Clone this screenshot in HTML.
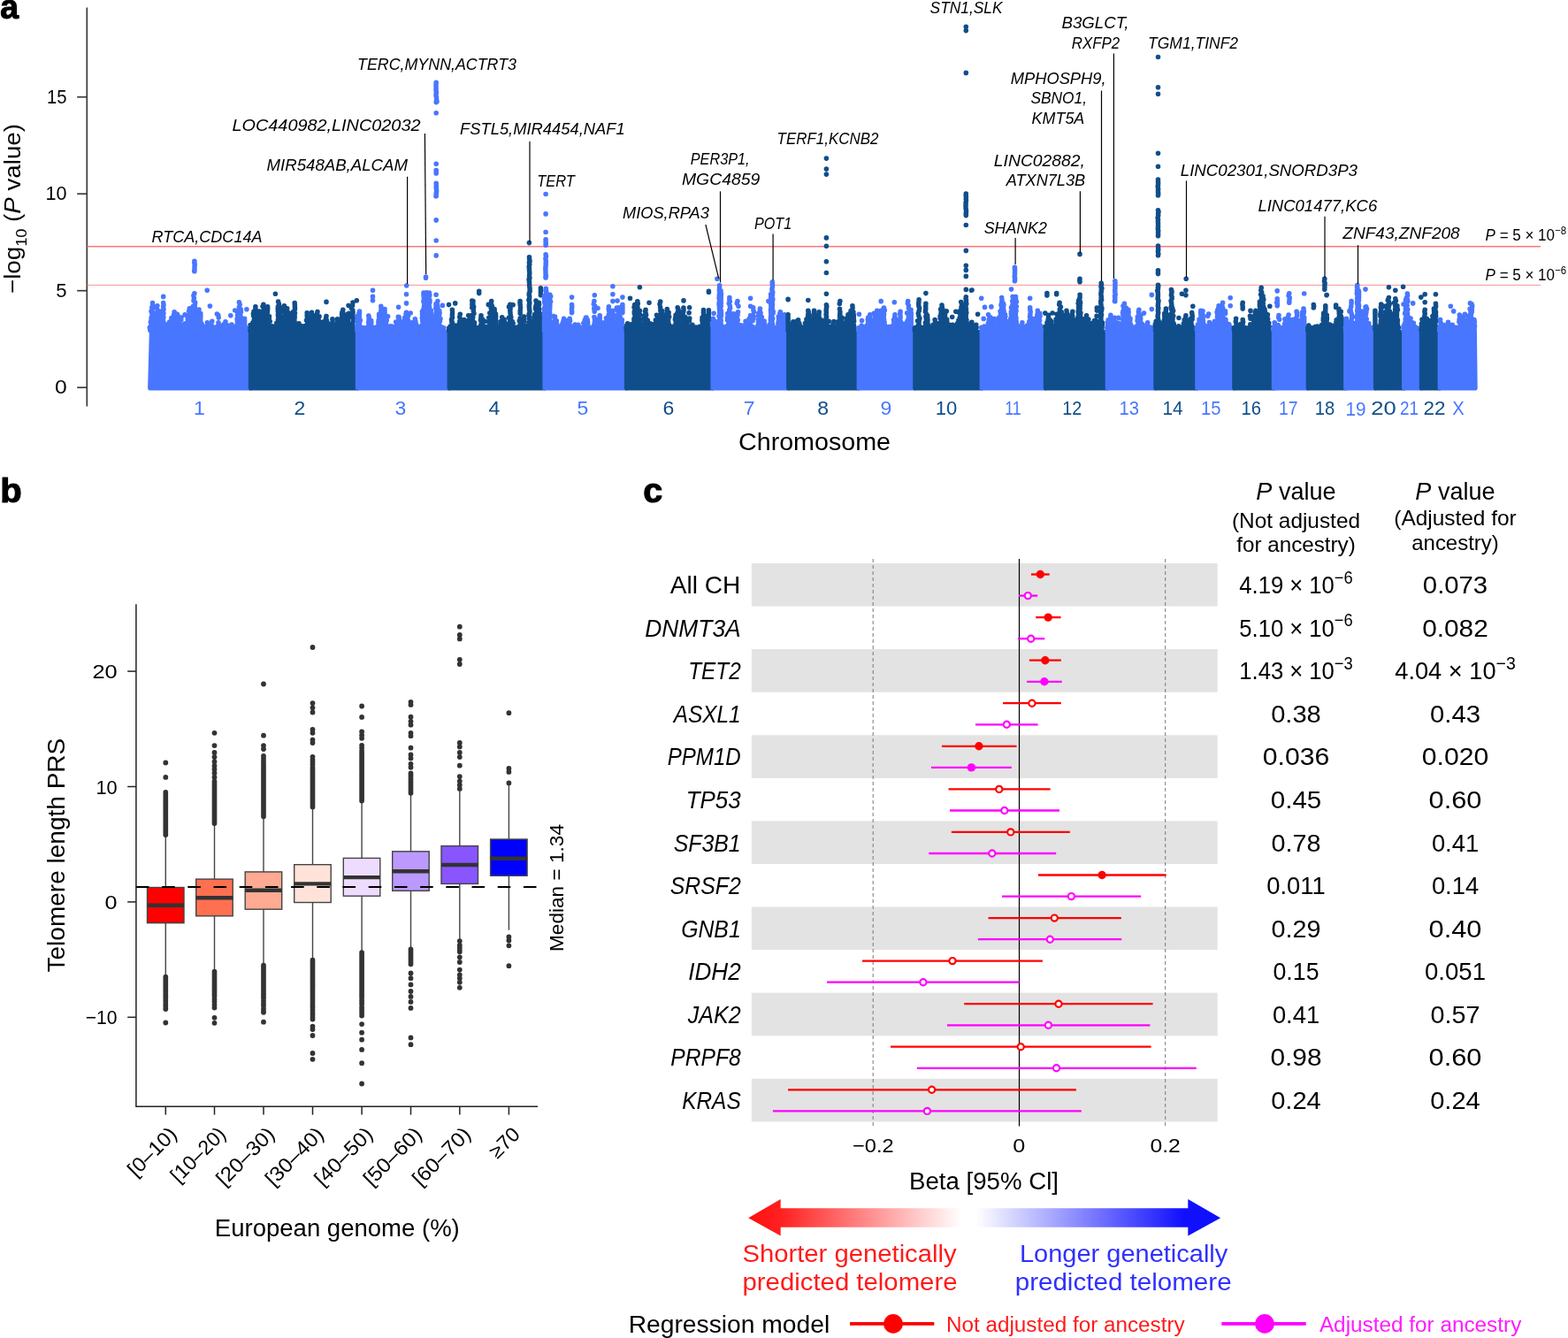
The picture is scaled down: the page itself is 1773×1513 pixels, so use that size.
<!DOCTYPE html>
<html lang="en"><head><meta charset="utf-8"><title>Figure</title>
<style>
html,body{margin:0;padding:0;background:#fff}
body{width:1773px;height:1513px;overflow:hidden}
svg{display:block;font-family:'Liberation Sans', sans-serif}
text{white-space:pre}
</style></head><body>
<svg width="1773" height="1513" viewBox="0 0 1773 1513">
<rect width="1773" height="1513" fill="#fff"/>
<g id="panel-a">
<text x="0.3" y="21.3" font-size="39" font-weight="bold" textLength="20.8" lengthAdjust="spacingAndGlyphs" stroke="#000" stroke-width="1.1" stroke-linejoin="round">a</text>
<line x1="98.3" y1="8.6" x2="98.3" y2="459.5" stroke="#3a3a3a" stroke-width="1.7"/>
<line x1="87.2" y1="438.2" x2="98.3" y2="438.2" stroke="#3a3a3a" stroke-width="1.7"/>
<text x="75.6" y="445.3" font-size="22.5" text-anchor="end" textLength="13.7" lengthAdjust="spacingAndGlyphs">0</text>
<line x1="87.2" y1="328.7" x2="98.3" y2="328.7" stroke="#3a3a3a" stroke-width="1.7"/>
<text x="75.6" y="335.8" font-size="22.5" text-anchor="end" textLength="12.3" lengthAdjust="spacingAndGlyphs">5</text>
<line x1="87.2" y1="219.2" x2="98.3" y2="219.2" stroke="#3a3a3a" stroke-width="1.7"/>
<text x="75.6" y="226.3" font-size="22.5" text-anchor="end" textLength="24.0" lengthAdjust="spacingAndGlyphs">10</text>
<line x1="87.2" y1="109.7" x2="98.3" y2="109.7" stroke="#3a3a3a" stroke-width="1.7"/>
<text x="75.6" y="116.8" font-size="22.5" text-anchor="end" textLength="22.5" lengthAdjust="spacingAndGlyphs">15</text>
<text x="23.0" y="332.0" font-size="26" textLength="192.0" lengthAdjust="spacingAndGlyphs" transform="rotate(-90 23.0 332.0)"><tspan>−log</tspan><tspan font-size="17" dy="7">10</tspan><tspan dy="-7"> (</tspan><tspan font-style="italic">P</tspan><tspan> value)</tspan></text>
<line x1="98.5" y1="278.8" x2="1742.0" y2="278.8" stroke="#f87a7a" stroke-width="1.6"/>
<line x1="98.5" y1="322.4" x2="1742.0" y2="322.4" stroke="#f88a8a" stroke-width="0.9"/>
<g fill="#4876ff" stroke="#4876ff">
<path stroke="none" d="M168.9 373.0L167.1 438.8Q167.1 441.6 169.9 441.6H284.4V373.0Z"/>
<path fill="none" stroke-width="5.6" stroke-linecap="round" d="M169.3 370.4h0M169.8 373.2h0M171.3 370.8h0M171.1 373.5h0M173.5 370.9h0M174.3 373.3h0M175.1 367.0h0M175.6 370.3h0M174.9 373.2h0M177.1 370.9h0M176.9 373.2h0M178.6 370.4h0M178.9 373.0h0M180.5 369.9h0M180.0 372.6h0M182.9 365.6h0M182.8 368.7h0M182.5 371.1h0M183.7 373.5h0M185.2 370.5h0M185.6 373.9h0M186.7 370.8h0M188.6 367.1h0M189.2 369.6h0M188.9 372.7h0M190.2 370.6h0M190.2 373.9h0M191.8 370.9h0M193.4 370.2h0M193.2 372.8h0M195.6 370.9h0M196.0 373.8h0M197.3 367.5h0M197.7 370.6h0M197.6 373.0h0M199.6 370.0h0M199.4 372.1h0M201.3 370.7h0M201.1 373.8h0M202.9 370.1h0M203.3 372.5h0M204.7 370.4h0M204.1 373.7h0M206.4 370.8h0M208.6 370.7h0M208.7 373.0h0M211.0 370.8h0M213.3 370.1h0M213.4 372.7h0M215.0 369.8h0M215.1 372.1h0M217.0 370.7h0M217.0 372.9h0M219.0 369.1h0M218.8 371.9h0M221.3 370.8h0M221.3 372.8h0M223.0 370.5h0M223.5 373.3h0M224.8 368.8h0M224.4 372.2h0M226.5 371.0h0M225.8 373.0h0M228.6 367.7h0M228.2 369.7h0M228.2 372.8h0M231.0 370.9h0M230.9 373.7h0M233.1 369.4h0M232.0 372.7h0M235.2 368.7h0M234.5 371.9h0M237.3 370.0h0M237.7 372.6h0M239.3 370.9h0M240.3 373.8h0M241.1 369.7h0M241.1 372.5h0M243.4 370.9h0M244.1 374.0h0M245.1 369.8h0M245.2 372.5h0M247.4 370.7h0M247.2 372.7h0M249.1 368.6h0M249.8 371.6h0M251.4 370.6h0M251.6 373.5h0M253.7 368.9h0M254.2 371.4h0M255.5 370.9h0M256.0 373.5h0M257.9 370.7h0M257.0 372.9h0M259.6 370.8h0M259.2 373.3h0M261.9 367.0h0M261.4 369.6h0M262.9 371.7h0M262.1 373.8h0M263.9 370.6h0M264.1 373.7h0M265.4 369.2h0M265.4 371.6h0M266.1 373.8h0M267.5 369.9h0M267.7 373.1h0M269.6 370.8h0M269.6 373.4h0M271.7 370.8h0M271.8 373.2h0M273.8 370.3h0M273.9 373.1h0M276.2 370.9h0M278.3 370.9h0M277.8 373.5h0M171.0 361.9h0M171.7 365.3h0M170.8 368.4h0M170.4 371.5h0M170.3 373.9h0M178.3 366.0h0M178.2 369.5h0M178.5 372.2h0M178.4 355.7h0M181.5 365.8h0M181.3 369.1h0M181.3 371.3h0M193.0 368.7h0M191.9 371.0h0M192.6 373.5h0M197.1 352.7h0M196.5 356.1h0M196.3 359.5h0M197.0 361.8h0M198.6 364.6h0M197.3 367.5h0M196.2 370.7h0M197.1 372.8h0M201.6 368.3h0M202.1 371.0h0M201.2 373.5h0M201.6 361.6h0M205.0 359.0h0M204.8 361.6h0M205.5 368.1h0M205.5 370.5h0M204.5 373.4h0M203.1 363.5h0M203.5 366.9h0M203.3 369.8h0M202.7 373.0h0M208.7 366.1h0M210.0 369.6h0M208.7 371.8h0M209.1 355.9h0M211.7 364.9h0M211.2 370.8h0M212.0 373.9h0M217.8 367.6h0M217.7 372.3h0M220.9 367.7h0M222.2 370.0h0M227.8 365.9h0M227.7 368.7h0M228.7 371.4h0M234.4 364.8h0M234.5 367.1h0M234.7 373.8h0M239.8 363.2h0M238.9 366.8h0M239.7 369.2h0M238.7 372.5h0M246.8 356.5h0M247.2 359.1h0M247.0 364.9h0M246.9 367.9h0M248.2 371.0h0M276.6 360.2h0M276.7 363.4h0M276.6 366.4h0M277.0 368.8h0M172.5 342.5h0M172.6 345.3h0M171.8 347.8h0M171.9 349.8h0M172.2 352.0h0M173.1 354.3h0M172.8 356.6h0M172.3 358.7h0M171.7 360.8h0M171.5 362.6h0M171.9 364.5h0M172.0 367.2h0M172.1 369.0h0M173.6 371.3h0M171.0 352.0h0M171.9 354.7h0M172.0 357.0h0M171.2 359.3h0M171.0 362.2h0M170.3 364.2h0M171.0 366.9h0M170.7 369.3h0M170.2 371.3h0M170.4 373.6h0M174.0 356.3h0M174.4 358.5h0M173.5 360.6h0M173.7 363.1h0M175.1 365.7h0M173.8 368.6h0M174.1 371.3h0M174.5 373.4h0M177.9 345.7h0M177.2 348.2h0M178.2 350.7h0M177.9 352.7h0M177.7 354.5h0M177.8 356.9h0M178.2 358.9h0M178.6 361.9h0M177.6 364.5h0M177.7 366.8h0M178.3 369.6h0M178.1 371.7h0M178.3 373.8h0M180.0 353.0h0M180.0 355.2h0M179.8 358.2h0M179.9 360.3h0M179.6 362.1h0M180.5 364.5h0M180.5 366.6h0M179.4 368.5h0M179.8 371.0h0M180.9 373.7h0M184.7 335.4h0M184.7 342.5h0M185.0 345.1h0M184.6 347.0h0M185.0 349.8h0M184.5 351.9h0M184.9 354.6h0M184.0 356.6h0M184.9 358.8h0M184.4 360.9h0M184.7 363.5h0M184.7 366.3h0M184.9 368.6h0M185.4 370.4h0M183.8 372.9h0M182.8 351.7h0M183.2 354.6h0M183.1 356.7h0M183.2 358.6h0M181.9 360.7h0M182.7 363.3h0M183.1 366.2h0M181.5 369.1h0M183.1 371.3h0M183.4 374.0h0M193.9 359.6h0M193.9 362.2h0M193.9 365.0h0M194.0 367.8h0M194.8 370.0h0M194.4 372.8h0M191.7 364.0h0M190.9 366.1h0M192.5 369.0h0M192.1 371.0h0M192.4 373.5h0M200.4 355.3h0M201.2 357.3h0M200.8 360.1h0M199.4 362.0h0M199.9 365.0h0M200.9 367.9h0M199.5 370.2h0M200.9 372.9h0M214.3 348.9h0M213.6 351.8h0M214.5 354.7h0M214.1 356.9h0M214.7 359.3h0M214.3 362.1h0M213.8 365.1h0M214.3 367.0h0M214.6 369.5h0M214.1 372.1h0M212.2 360.4h0M212.5 362.6h0M212.5 364.7h0M212.3 367.5h0M212.0 370.2h0M212.3 372.6h0M216.2 359.0h0M215.8 361.8h0M216.0 364.6h0M215.8 367.5h0M216.9 369.4h0M216.1 371.3h0M216.5 373.3h0M219.9 331.7h0M218.9 334.3h0M219.4 337.1h0M219.0 340.0h0M220.7 342.0h0M220.4 344.1h0M220.3 346.9h0M219.7 349.6h0M219.6 351.7h0M219.9 354.2h0M219.8 356.2h0M219.9 359.2h0M219.7 361.7h0M220.1 364.5h0M219.7 366.9h0M219.8 369.1h0M220.0 371.5h0M219.6 373.3h0M218.3 346.5h0M218.4 348.8h0M218.3 350.9h0M218.2 353.1h0M218.3 355.5h0M219.5 357.7h0M218.8 360.0h0M218.1 362.1h0M219.2 364.5h0M218.3 366.7h0M218.6 368.5h0M218.1 370.4h0M218.3 372.7h0M225.0 350.0h0M224.6 352.6h0M224.9 355.4h0M224.9 358.0h0M225.4 360.1h0M224.1 362.5h0M225.6 365.1h0M225.2 367.7h0M225.3 370.6h0M225.1 373.4h0M223.4 354.6h0M223.4 356.5h0M223.3 358.6h0M223.3 361.3h0M223.6 363.5h0M222.8 365.6h0M224.1 368.4h0M223.0 370.3h0M223.9 372.6h0M226.8 354.6h0M226.9 357.3h0M226.7 359.7h0M226.7 362.0h0M225.9 363.8h0M226.8 366.7h0M226.9 369.2h0M227.6 371.6h0M226.6 374.0h0M234.2 328.3h0M237.4 346.1h0M245.4 355.1h0M255.0 363.9h0M254.6 366.8h0M255.0 369.3h0M254.9 372.2h0M252.9 366.7h0M252.8 369.4h0M252.9 371.5h0M253.1 374.0h0M256.9 367.9h0M257.5 370.2h0M256.6 372.1h0M260.8 356.8h0M265.7 351.0h0M270.4 341.8h0M271.2 344.6h0M270.4 347.2h0M270.8 349.3h0M270.5 351.5h0M270.7 354.1h0M270.6 356.8h0M270.1 358.6h0M270.2 360.9h0M270.0 363.1h0M271.1 366.0h0M270.1 368.5h0M269.7 370.5h0M271.2 372.8h0M268.8 353.7h0M268.7 356.2h0M268.8 358.5h0M268.1 360.7h0M268.3 362.6h0M268.4 365.1h0M268.9 367.1h0M269.3 369.4h0M269.3 371.6h0M272.2 349.9h0M272.5 352.7h0M271.6 355.5h0M272.1 357.8h0M272.9 360.2h0M272.8 362.5h0M272.6 364.9h0M272.5 366.9h0M272.6 369.9h0M272.4 371.8h0M272.0 373.9h0M278.9 349.7h0M219.9 295.3h0M219.8 297.1h0M220.2 298.8h0M220.1 300.7h0M220.0 302.6h0M220.0 304.8h0M219.7 306.6h0M219.9 306.8h0"/>
</g>
<g fill="#104e8b" stroke="#104e8b">
<path stroke="none" d="M280.9 373.0V438.8Q280.9 441.6 283.7 441.6H405.3V373.0Z"/>
<path fill="none" stroke-width="5.6" stroke-linecap="round" d="M283.1 367.6h0M283.2 370.4h0M282.9 373.8h0M285.1 369.6h0M284.4 371.6h0M286.8 370.4h0M286.1 372.6h0M289.1 370.5h0M289.2 373.2h0M291.0 370.7h0M290.6 373.6h0M292.7 371.0h0M292.6 373.3h0M294.4 369.6h0M295.0 372.1h0M296.8 368.1h0M296.3 370.2h0M296.2 373.5h0M298.5 370.3h0M298.7 373.6h0M300.4 367.1h0M300.2 370.3h0M300.2 373.2h0M302.1 370.9h0M302.5 373.7h0M304.0 370.7h0M304.4 373.5h0M306.2 370.2h0M307.0 373.6h0M307.8 368.8h0M307.6 371.9h0M309.6 370.7h0M309.0 373.6h0M311.8 370.8h0M311.5 373.1h0M314.1 368.9h0M314.5 370.9h0M314.3 373.5h0M315.7 370.2h0M316.4 372.3h0M317.8 370.5h0M318.2 373.2h0M319.6 369.6h0M319.8 372.8h0M321.7 369.5h0M321.8 371.8h0M323.4 369.3h0M322.5 371.9h0M325.4 369.6h0M324.1 372.9h0M327.2 370.9h0M328.8 370.9h0M328.0 373.7h0M331.0 370.9h0M331.1 373.2h0M332.6 370.6h0M332.4 373.7h0M334.4 369.7h0M334.0 372.2h0M336.5 370.2h0M337.5 373.4h0M338.7 370.6h0M338.3 373.1h0M341.1 368.7h0M340.8 371.1h0M341.4 373.6h0M342.9 370.8h0M343.1 373.6h0M344.9 370.8h0M344.3 373.9h0M346.7 371.0h0M346.1 373.7h0M348.8 369.4h0M348.6 371.5h0M351.0 370.9h0M350.9 373.0h0M353.1 370.8h0M352.0 373.9h0M354.8 370.8h0M353.9 373.8h0M356.6 367.5h0M356.5 370.5h0M355.8 373.2h0M358.9 370.5h0M358.7 373.6h0M361.2 369.4h0M362.1 372.5h0M363.1 369.8h0M362.3 372.9h0M365.0 370.8h0M365.5 373.9h0M366.7 370.4h0M366.7 372.9h0M368.3 370.6h0M367.7 372.8h0M369.8 370.4h0M369.1 373.2h0M371.3 370.9h0M371.4 373.1h0M373.4 370.7h0M373.7 373.0h0M375.0 369.6h0M374.2 372.0h0M376.8 368.8h0M376.5 372.1h0M378.8 367.9h0M378.8 370.5h0M378.9 373.9h0M380.6 370.3h0M380.4 373.0h0M382.3 371.0h0M383.8 373.7h0M384.5 369.8h0M384.7 372.6h0M386.3 369.0h0M386.5 371.7h0M388.7 370.7h0M389.2 373.4h0M390.9 369.1h0M391.6 372.3h0M392.6 369.7h0M392.1 371.9h0M394.7 369.1h0M394.7 371.5h0M396.6 368.5h0M396.7 370.6h0M396.2 373.4h0M398.2 369.2h0M398.1 371.7h0M285.8 365.0h0M286.1 371.2h0M286.3 374.0h0M289.3 361.2h0M288.5 367.9h0M288.9 371.2h0M288.9 373.8h0M287.4 365.8h0M287.3 368.1h0M286.8 371.7h0M293.1 352.0h0M293.8 354.1h0M293.6 357.2h0M292.8 359.9h0M292.9 362.2h0M294.3 364.4h0M293.7 367.1h0M293.3 370.2h0M292.5 372.7h0M300.3 358.7h0M299.9 364.7h0M301.1 366.8h0M300.7 369.7h0M299.6 371.9h0M298.4 363.1h0M300.4 365.4h0M297.6 368.5h0M298.3 372.0h0M303.4 363.0h0M303.3 365.7h0M303.3 367.8h0M304.6 370.5h0M303.2 372.9h0M312.8 365.4h0M312.7 367.7h0M312.1 369.7h0M313.6 372.2h0M317.0 354.2h0M317.6 357.7h0M317.7 361.1h0M317.0 364.1h0M316.6 370.0h0M316.8 372.2h0M315.1 359.3h0M315.3 362.6h0M314.8 365.2h0M315.1 367.8h0M315.7 371.2h0M314.6 373.8h0M321.4 345.9h0M321.6 349.0h0M321.6 352.5h0M322.7 355.4h0M321.6 357.8h0M321.0 360.5h0M322.4 363.9h0M321.5 366.3h0M322.6 369.9h0M320.6 372.1h0M330.2 364.9h0M329.9 367.8h0M329.9 370.0h0M330.3 372.2h0M334.6 366.0h0M334.0 371.9h0M338.0 365.8h0M338.2 368.6h0M338.1 371.1h0M344.1 368.9h0M343.1 371.4h0M349.2 361.9h0M350.0 364.3h0M349.0 366.8h0M348.1 370.3h0M349.8 372.8h0M357.7 368.2h0M357.6 371.3h0M357.0 373.8h0M355.5 357.3h0M360.9 366.9h0M360.7 369.2h0M361.0 357.9h0M365.8 364.0h0M365.8 366.9h0M366.2 370.5h0M366.7 372.5h0M375.9 360.7h0M376.1 362.7h0M375.9 366.0h0M376.3 368.5h0M376.0 371.8h0M382.9 368.3h0M382.4 371.0h0M387.8 350.4h0M387.7 353.3h0M388.5 355.6h0M388.1 359.0h0M388.1 362.0h0M387.2 365.2h0M387.3 370.0h0M387.2 373.2h0M394.5 354.3h0M394.0 357.6h0M393.9 360.2h0M393.9 363.0h0M394.1 365.5h0M394.8 368.6h0M394.4 371.8h0M392.7 374.0h0M394.1 345.5h0M399.0 342.1h0M398.6 345.6h0M397.4 348.6h0M398.8 350.8h0M399.1 353.2h0M399.0 356.7h0M399.3 359.6h0M399.8 362.8h0M398.3 366.3h0M399.1 369.7h0M399.5 371.7h0M288.9 346.7h0M288.9 349.3h0M288.5 352.0h0M289.4 354.2h0M289.2 356.8h0M288.9 359.4h0M288.9 362.2h0M289.0 364.6h0M288.3 367.0h0M288.4 369.2h0M288.8 372.0h0M287.0 352.2h0M286.4 355.0h0M286.8 357.4h0M287.7 360.1h0M287.1 362.5h0M287.1 365.0h0M286.8 367.4h0M287.0 370.4h0M287.6 372.5h0M290.7 357.5h0M290.9 359.9h0M291.2 362.6h0M290.5 364.5h0M290.9 366.9h0M290.6 369.2h0M290.5 371.3h0M290.4 373.2h0M297.9 344.2h0M297.1 346.6h0M298.3 348.7h0M298.0 351.2h0M297.8 353.6h0M297.6 355.7h0M298.1 358.4h0M298.2 360.5h0M297.8 362.6h0M298.1 365.2h0M298.1 367.4h0M298.1 370.0h0M297.3 372.2h0M299.6 354.8h0M299.7 357.7h0M299.5 360.7h0M299.3 362.9h0M298.9 365.0h0M299.9 366.8h0M299.8 369.2h0M300.3 372.0h0M302.6 346.7h0M302.7 349.0h0M302.5 351.1h0M302.4 353.1h0M302.1 355.6h0M303.2 357.5h0M303.0 360.1h0M302.0 363.0h0M302.8 365.3h0M302.4 368.1h0M303.1 370.9h0M302.4 373.1h0M300.9 356.2h0M300.6 358.2h0M301.2 360.3h0M300.6 362.5h0M301.5 364.4h0M301.0 367.4h0M300.9 369.7h0M301.9 372.4h0M304.5 357.8h0M304.3 360.8h0M305.2 363.5h0M304.1 365.3h0M304.5 368.1h0M304.4 370.0h0M304.4 372.5h0M311.4 332.2h0M314.6 341.0h0M315.4 343.9h0M314.5 346.5h0M314.2 348.8h0M314.3 351.4h0M314.5 354.4h0M314.4 356.9h0M314.9 359.3h0M314.4 361.6h0M314.2 364.2h0M314.3 366.7h0M315.0 368.8h0M314.9 371.3h0M314.3 373.9h0M316.5 347.6h0M317.2 349.8h0M316.7 352.3h0M316.3 355.2h0M316.5 357.4h0M316.5 360.1h0M317.1 362.2h0M317.2 364.8h0M316.5 366.8h0M316.7 369.1h0M316.4 371.0h0M316.7 373.9h0M324.7 348.9h0M324.1 351.2h0M324.8 353.8h0M324.4 356.0h0M324.8 358.4h0M324.8 361.0h0M324.8 364.0h0M324.3 366.2h0M324.9 369.2h0M324.1 371.1h0M324.7 373.0h0M322.7 355.5h0M322.9 358.0h0M322.8 360.1h0M321.6 362.3h0M322.4 364.4h0M322.4 366.4h0M322.6 368.2h0M322.1 370.6h0M323.0 373.0h0M326.5 353.9h0M326.6 356.8h0M326.4 359.7h0M325.9 362.1h0M326.1 364.5h0M327.3 366.9h0M326.2 369.8h0M326.7 372.4h0M333.2 342.5h0M333.3 344.8h0M333.4 347.4h0M333.5 349.4h0M332.8 352.0h0M333.5 354.1h0M333.1 357.1h0M333.2 359.0h0M332.9 361.9h0M333.2 364.5h0M332.7 367.2h0M332.8 369.3h0M333.7 371.2h0M333.3 373.3h0M331.7 352.5h0M331.6 354.8h0M330.6 357.3h0M332.6 359.9h0M331.0 362.2h0M331.3 365.0h0M331.9 367.1h0M331.7 369.8h0M332.1 372.2h0M331.7 374.0h0M347.2 353.8h0M347.2 356.5h0M347.3 358.4h0M347.6 360.2h0M346.5 362.3h0M348.2 364.1h0M347.3 366.8h0M347.8 368.6h0M347.3 371.3h0M348.8 360.7h0M348.9 362.5h0M349.0 364.7h0M349.0 366.8h0M348.9 368.8h0M349.4 370.7h0M349.5 373.0h0M352.5 353.2h0M352.7 356.0h0M352.8 357.9h0M352.0 360.7h0M352.7 363.1h0M353.2 365.9h0M352.1 368.3h0M352.7 371.0h0M353.4 373.4h0M351.1 363.1h0M350.9 366.1h0M350.7 368.4h0M350.9 370.5h0M351.5 372.7h0M354.1 362.1h0M354.3 365.0h0M354.0 366.9h0M354.6 369.5h0M354.8 371.9h0M359.0 352.5h0M358.6 354.7h0M358.8 356.5h0M359.4 358.9h0M358.5 361.3h0M359.3 364.1h0M359.1 366.3h0M359.6 368.2h0M359.4 370.5h0M359.4 373.1h0M357.9 362.2h0M357.8 364.4h0M358.3 367.0h0M358.4 369.7h0M357.5 372.5h0M360.8 362.9h0M361.1 365.0h0M360.7 367.6h0M360.3 370.1h0M360.6 372.6h0M369.0 341.4h0M369.0 357.5h0M368.6 359.9h0M369.4 362.4h0M369.4 364.8h0M368.8 367.5h0M370.1 370.2h0M368.8 372.7h0M367.3 363.0h0M368.9 364.9h0M367.5 366.7h0M366.2 368.9h0M368.1 371.1h0M366.7 373.3h0M370.8 365.5h0M370.9 368.4h0M370.7 371.2h0M381.5 360.7h0M381.8 363.5h0M381.3 366.0h0M381.8 368.8h0M380.9 371.6h0M380.1 366.9h0M379.9 369.8h0M380.3 372.1h0M382.6 365.8h0M381.9 368.3h0M383.1 370.4h0M382.6 372.8h0M386.8 353.2h0M386.6 355.6h0M386.7 358.2h0M386.5 361.1h0M386.7 363.7h0M387.0 365.7h0M386.8 367.5h0M387.1 369.4h0M387.1 371.2h0M387.0 373.2h0M385.3 361.1h0M385.8 363.7h0M385.1 365.8h0M385.0 368.1h0M386.7 370.2h0M386.2 372.3h0M388.7 362.3h0M388.7 364.3h0M388.5 366.6h0M389.0 369.3h0M389.2 371.6h0M393.2 355.3h0M392.8 357.6h0M391.8 359.8h0M392.5 361.7h0M393.5 364.3h0M392.7 366.3h0M392.8 369.3h0M394.1 371.7h0M392.9 373.6h0M403.3 339.7h0"/>
</g>
<g fill="#4876ff" stroke="#4876ff">
<path stroke="none" d="M401.8 373.0V438.8Q401.8 441.6 404.6 441.6H509.1V373.0Z"/>
<path fill="none" stroke-width="5.6" stroke-linecap="round" d="M404.0 370.1h0M403.8 373.2h0M405.7 370.3h0M405.8 373.1h0M407.2 370.7h0M409.3 370.3h0M408.6 373.3h0M411.0 370.9h0M410.9 373.0h0M413.2 370.9h0M413.3 373.2h0M415.4 370.4h0M415.2 373.6h0M417.1 368.9h0M416.9 371.8h0M418.8 370.3h0M419.5 372.5h0M420.7 370.3h0M420.1 373.3h0M422.6 370.5h0M422.5 373.8h0M424.6 370.4h0M424.1 372.6h0M426.4 370.1h0M426.4 372.3h0M428.6 370.3h0M428.6 372.4h0M430.1 369.1h0M429.3 371.9h0M431.7 369.5h0M431.8 372.0h0M433.4 370.3h0M433.0 373.0h0M435.1 369.8h0M435.4 372.1h0M436.9 369.8h0M436.8 372.5h0M439.2 369.4h0M439.2 372.0h0M441.6 368.7h0M442.5 370.8h0M443.9 370.7h0M444.1 373.2h0M446.2 370.9h0M445.8 373.0h0M448.0 370.6h0M448.6 373.8h0M449.8 368.7h0M449.4 370.8h0M449.9 373.8h0M451.8 370.1h0M452.0 372.1h0M453.7 370.4h0M453.1 373.8h0M455.5 370.3h0M456.1 373.0h0M457.5 370.7h0M457.6 373.0h0M459.9 371.0h0M460.5 373.8h0M462.1 370.9h0M464.4 369.8h0M464.4 372.9h0M466.6 370.8h0M466.9 373.3h0M468.3 370.8h0M468.0 373.3h0M470.2 370.5h0M469.3 373.5h0M472.2 370.6h0M473.0 373.5h0M474.6 369.3h0M474.2 372.5h0M476.9 370.3h0M477.6 373.2h0M478.8 370.6h0M479.0 373.1h0M481.0 370.7h0M480.4 373.6h0M483.2 370.8h0M483.8 373.6h0M485.6 370.0h0M485.6 372.2h0M487.3 370.0h0M486.9 372.4h0M489.7 370.4h0M490.0 373.3h0M491.4 370.7h0M490.3 373.6h0M493.5 370.9h0M494.5 373.1h0M495.3 370.2h0M495.3 373.3h0M497.7 369.2h0M497.7 372.4h0M499.9 370.0h0M500.1 372.3h0M501.8 370.8h0M501.7 373.7h0M405.9 354.2h0M405.6 357.1h0M406.6 360.5h0M406.9 363.0h0M405.8 365.4h0M406.1 367.7h0M406.9 370.6h0M404.0 357.5h0M404.1 360.2h0M403.8 362.3h0M404.6 365.1h0M403.8 367.5h0M403.8 369.9h0M403.9 372.2h0M417.0 369.1h0M417.4 372.5h0M419.7 362.6h0M419.8 364.7h0M419.5 367.3h0M420.3 369.7h0M419.4 372.2h0M430.5 363.9h0M431.2 367.3h0M430.0 369.3h0M430.1 371.8h0M434.3 368.9h0M434.2 372.0h0M437.0 368.3h0M436.8 370.8h0M437.3 373.4h0M438.6 357.8h0M443.9 369.3h0M447.7 364.0h0M448.5 367.6h0M447.8 370.8h0M447.5 373.4h0M450.3 358.4h0M451.1 361.4h0M450.6 364.0h0M451.6 367.1h0M450.0 369.3h0M449.2 372.5h0M450.6 347.3h0M455.1 364.4h0M454.8 369.4h0M455.8 372.0h0M460.2 369.0h0M460.4 372.6h0M463.2 368.5h0M463.0 370.6h0M463.7 373.1h0M465.9 364.8h0M466.0 367.6h0M465.9 373.1h0M464.2 354.0h0M479.3 368.9h0M479.5 372.4h0M482.9 364.9h0M483.4 371.4h0M482.3 357.5h0M494.9 340.5h0M494.3 343.4h0M494.6 346.0h0M493.8 349.5h0M495.0 351.8h0M494.6 357.7h0M494.6 360.1h0M494.6 364.9h0M495.0 368.1h0M494.5 370.2h0M494.9 372.8h0M496.8 351.5h0M497.1 354.0h0M496.6 357.4h0M498.0 360.5h0M497.4 363.2h0M496.6 366.4h0M496.6 369.4h0M496.9 372.0h0M406.5 352.1h0M406.5 354.6h0M406.3 357.2h0M406.1 359.9h0M407.3 362.4h0M406.5 365.3h0M406.3 367.1h0M406.6 369.3h0M406.9 371.2h0M406.2 373.7h0M416.8 357.0h0M417.2 358.9h0M417.1 361.4h0M416.7 364.4h0M417.0 366.4h0M416.8 368.4h0M416.3 370.5h0M416.6 373.2h0M421.5 328.3h0M421.5 335.4h0M421.5 339.7h0M430.8 346.3h0M431.0 349.0h0M430.8 351.9h0M430.7 353.9h0M430.3 356.3h0M430.7 358.3h0M431.3 360.5h0M430.7 362.8h0M430.7 365.5h0M430.0 368.2h0M430.8 370.4h0M431.3 373.0h0M432.5 359.1h0M432.9 361.1h0M433.1 363.2h0M432.5 365.7h0M432.5 367.7h0M432.0 370.1h0M432.3 373.0h0M435.0 349.5h0M435.0 351.5h0M435.1 354.4h0M435.2 356.7h0M435.1 358.9h0M434.9 361.0h0M435.5 363.2h0M435.4 366.0h0M435.0 368.9h0M435.0 371.5h0M434.4 373.5h0M433.2 360.1h0M433.3 362.0h0M432.8 364.1h0M433.0 366.6h0M432.7 368.4h0M432.8 371.2h0M432.5 373.8h0M436.3 359.5h0M437.2 362.4h0M435.2 364.5h0M436.7 367.1h0M436.8 369.5h0M436.4 371.4h0M436.7 373.9h0M428.6 355.3h0M428.6 358.2h0M429.1 360.2h0M428.1 362.2h0M427.9 364.2h0M428.0 366.4h0M428.5 369.1h0M428.4 371.7h0M428.9 373.9h0M430.6 358.1h0M431.1 361.1h0M430.2 364.0h0M430.3 365.9h0M431.0 367.9h0M430.8 370.5h0M430.2 372.4h0M451.1 358.5h0M451.6 361.4h0M451.1 363.2h0M451.1 366.0h0M451.0 368.4h0M451.7 370.7h0M451.1 373.6h0M449.3 364.1h0M449.3 366.3h0M449.6 368.3h0M448.8 371.0h0M449.3 373.5h0M453.1 364.7h0M453.2 366.7h0M452.8 369.6h0M452.5 371.8h0M451.9 373.9h0M459.5 332.8h0M459.5 342.9h0M459.5 353.2h0M459.0 355.4h0M459.4 357.8h0M459.5 360.4h0M459.0 363.1h0M459.0 365.9h0M459.4 368.3h0M459.2 370.3h0M459.3 372.5h0M457.6 359.3h0M458.1 362.1h0M457.5 364.1h0M457.8 366.0h0M457.7 368.3h0M456.7 370.3h0M457.7 373.0h0M461.5 357.6h0M460.5 360.3h0M461.5 362.2h0M461.4 364.4h0M461.3 366.7h0M461.6 369.0h0M461.8 371.1h0M461.2 373.6h0M469.3 360.7h0M469.8 363.3h0M468.7 366.2h0M468.8 368.5h0M469.6 370.4h0M469.2 372.3h0M467.3 367.2h0M467.3 369.5h0M467.0 371.5h0M466.5 373.8h0M470.4 366.3h0M469.7 368.8h0M470.5 370.6h0M470.3 372.9h0M479.0 331.1h0M479.0 333.5h0M479.3 336.0h0M479.4 338.8h0M478.9 340.9h0M479.7 343.0h0M479.6 345.8h0M479.4 347.8h0M478.7 350.3h0M479.0 352.8h0M478.7 355.1h0M478.5 357.5h0M478.4 359.6h0M478.8 361.6h0M478.6 364.6h0M480.2 367.5h0M478.7 370.4h0M479.7 373.2h0M477.4 352.3h0M477.5 355.2h0M477.6 357.4h0M477.4 359.6h0M477.7 362.0h0M478.0 364.8h0M477.6 367.7h0M478.0 370.5h0M477.6 372.5h0M482.2 330.7h0M482.3 333.6h0M482.2 335.4h0M482.0 337.6h0M482.3 340.5h0M482.3 342.8h0M482.2 345.2h0M483.1 347.1h0M482.0 349.1h0M482.8 351.3h0M482.1 353.6h0M481.3 356.1h0M482.3 358.0h0M482.3 360.5h0M482.1 362.7h0M481.5 365.0h0M481.7 367.4h0M482.5 369.3h0M482.1 372.1h0M480.3 339.6h0M479.9 341.5h0M480.8 343.4h0M480.6 345.4h0M479.6 347.4h0M480.6 350.2h0M480.1 352.4h0M480.6 355.1h0M480.3 357.3h0M480.1 359.4h0M481.3 361.8h0M480.4 364.6h0M480.7 367.0h0M480.6 369.2h0M480.1 371.4h0M480.4 373.3h0M484.0 351.5h0M484.4 353.5h0M483.7 356.0h0M483.8 358.6h0M484.2 361.0h0M484.9 363.5h0M483.9 365.5h0M484.0 367.7h0M483.6 370.5h0M484.3 372.4h0M485.4 331.1h0M485.8 333.9h0M485.1 336.9h0M486.0 339.9h0M485.9 342.0h0M485.1 344.5h0M485.5 346.6h0M485.7 349.5h0M485.1 352.3h0M484.8 355.0h0M486.0 357.8h0M485.8 360.0h0M485.2 362.0h0M485.5 364.9h0M485.1 367.3h0M485.4 369.3h0M485.2 372.3h0M484.0 344.0h0M483.7 346.9h0M484.4 348.7h0M484.0 351.1h0M484.0 353.8h0M484.1 355.6h0M484.3 357.4h0M485.0 359.7h0M484.2 361.8h0M484.4 363.9h0M483.5 366.0h0M484.1 369.0h0M484.1 371.3h0M484.0 373.9h0M487.3 351.1h0M487.2 353.4h0M487.8 356.4h0M487.0 359.1h0M487.0 361.2h0M487.4 363.8h0M486.5 366.5h0M487.0 368.6h0M487.1 371.3h0M486.5 373.8h0M493.1 333.2h0M493.1 343.5h0M493.0 345.8h0M492.8 348.8h0M493.6 351.4h0M493.1 353.8h0M493.3 356.5h0M493.1 359.4h0M492.8 362.3h0M493.4 364.2h0M492.7 366.9h0M493.3 368.9h0M494.1 371.7h0M493.4 373.7h0M491.5 358.4h0M491.6 360.2h0M491.3 362.3h0M492.1 365.2h0M491.8 367.6h0M491.2 370.4h0M491.3 372.5h0M495.0 348.1h0M494.7 350.8h0M495.2 353.5h0M496.0 356.1h0M494.8 358.0h0M495.3 360.8h0M495.2 363.0h0M494.7 365.1h0M495.2 367.5h0M493.7 369.6h0M494.8 371.5h0M495.1 373.4h0M500.4 345.4h0M481.5 313.0h0M481.5 314.3h0M459.7 323.0h0M493.2 93.4h0M493.0 95.3h0M493.0 97.4h0M493.1 99.7h0M493.0 101.8h0M493.3 103.8h0M493.2 105.5h0M493.0 108.1h0M493.5 110.3h0M493.6 112.8h0M494.0 115.0h0M493.2 115.6h0M493.2 127.7h0M493.2 185.2h0M493.2 192.6h0M493.2 194.6h0M493.2 195.9h0M493.2 207.4h0M493.3 209.9h0M493.2 211.6h0M493.4 213.9h0M493.6 215.8h0M493.4 217.7h0M493.2 219.5h0M492.9 221.7h0M493.2 221.7h0M493.2 248.9h0M493.2 272.0h0M493.2 288.9h0"/>
</g>
<g fill="#104e8b" stroke="#104e8b">
<path stroke="none" d="M505.6 373.0V438.8Q505.6 441.6 508.4 441.6H616.9V373.0Z"/>
<path fill="none" stroke-width="5.6" stroke-linecap="round" d="M507.8 370.7h0M507.6 373.6h0M509.4 368.7h0M509.1 371.1h0M508.9 373.7h0M511.5 370.2h0M512.2 372.3h0M513.0 370.5h0M512.9 373.1h0M515.3 368.0h0M514.6 370.0h0M514.9 372.9h0M517.1 369.9h0M517.2 372.7h0M519.5 366.1h0M519.8 368.6h0M518.9 371.6h0M521.1 370.4h0M520.9 372.9h0M522.7 370.5h0M522.5 372.7h0M524.9 370.9h0M524.5 373.1h0M526.6 369.3h0M526.1 372.4h0M528.3 370.4h0M529.0 372.4h0M529.8 370.6h0M528.8 373.3h0M531.4 369.4h0M531.1 371.9h0M533.0 370.9h0M533.0 373.6h0M535.2 370.7h0M535.5 373.3h0M537.2 370.4h0M537.3 373.6h0M539.5 370.8h0M541.4 370.5h0M542.3 373.3h0M542.9 370.8h0M542.0 374.0h0M545.1 370.8h0M545.3 373.6h0M547.5 370.0h0M547.5 373.2h0M549.3 370.9h0M550.2 373.3h0M551.3 369.9h0M552.0 373.2h0M553.3 370.3h0M552.9 373.6h0M555.0 370.5h0M555.3 373.1h0M556.8 370.4h0M557.7 373.1h0M558.8 370.2h0M559.1 372.8h0M560.4 370.5h0M560.0 373.0h0M562.3 371.0h0M562.4 373.6h0M563.8 370.1h0M563.4 373.4h0M565.6 370.1h0M566.1 372.9h0M567.6 370.3h0M567.8 373.3h0M569.3 369.4h0M569.4 372.0h0M571.2 370.7h0M572.4 373.6h0M573.0 370.6h0M573.7 373.8h0M575.0 370.9h0M576.6 370.0h0M577.2 372.8h0M578.9 369.6h0M578.6 372.4h0M581.1 370.5h0M582.2 373.4h0M583.3 370.4h0M583.2 373.5h0M585.2 370.4h0M584.8 372.6h0M586.8 369.2h0M587.5 372.1h0M588.4 370.9h0M589.0 373.3h0M590.1 370.5h0M589.9 373.2h0M591.7 368.9h0M592.2 371.6h0M593.8 368.4h0M593.9 371.1h0M595.7 369.5h0M595.6 371.6h0M597.3 370.6h0M597.0 372.8h0M599.4 370.3h0M598.5 372.8h0M601.4 370.3h0M601.0 373.7h0M603.5 370.7h0M603.4 373.1h0M605.1 369.3h0M604.4 371.8h0M607.0 370.0h0M608.1 372.8h0M608.9 370.7h0M608.7 373.8h0M610.7 369.1h0M610.5 371.2h0M610.1 373.9h0M511.3 357.2h0M511.3 364.2h0M511.6 367.0h0M510.1 369.2h0M510.6 372.7h0M519.7 358.5h0M520.4 360.9h0M519.8 363.3h0M519.6 368.9h0M520.2 371.4h0M525.1 362.8h0M524.4 366.0h0M524.0 369.2h0M524.4 371.3h0M525.9 373.7h0M529.8 362.4h0M530.1 365.0h0M529.7 368.5h0M530.5 370.6h0M530.3 372.8h0M529.7 356.7h0M535.0 340.5h0M534.8 343.6h0M535.6 346.9h0M535.3 349.1h0M535.3 351.7h0M535.9 354.4h0M533.5 356.5h0M534.4 362.4h0M536.5 364.9h0M534.4 368.4h0M535.7 371.8h0M545.7 368.7h0M545.8 371.6h0M548.4 369.2h0M547.6 372.6h0M548.2 363.3h0M555.7 340.5h0M555.4 343.8h0M556.2 345.9h0M555.2 348.3h0M555.6 351.4h0M555.9 353.7h0M556.0 356.1h0M555.8 359.4h0M556.6 361.8h0M555.9 364.2h0M556.1 366.7h0M555.9 369.9h0M555.0 372.0h0M553.8 354.1h0M555.4 356.6h0M552.8 359.2h0M554.1 361.5h0M552.8 364.0h0M553.4 367.3h0M554.1 370.2h0M552.7 373.4h0M559.7 368.9h0M559.9 372.4h0M570.4 365.9h0M570.1 369.4h0M576.9 344.2h0M575.5 346.9h0M577.1 349.1h0M576.8 351.4h0M577.0 353.5h0M577.2 356.3h0M575.4 359.2h0M576.6 361.3h0M577.0 363.5h0M575.5 366.3h0M576.6 368.8h0M577.9 372.3h0M588.1 340.5h0M588.0 342.5h0M588.2 344.8h0M588.5 348.0h0M588.2 351.3h0M588.2 354.3h0M588.2 359.7h0M587.3 362.7h0M588.3 365.2h0M587.5 368.6h0M588.5 371.3h0M597.1 368.0h0M597.0 370.8h0M597.5 374.0h0M600.7 368.6h0M600.1 371.7h0M603.3 363.7h0M603.1 366.1h0M603.9 369.1h0M603.7 371.9h0M606.2 355.8h0M606.3 358.2h0M605.8 361.6h0M606.9 364.3h0M606.0 367.1h0M606.0 370.4h0M606.5 372.8h0M507.6 344.6h0M511.3 350.2h0M511.5 353.0h0M511.4 355.3h0M511.3 357.2h0M511.5 359.2h0M510.5 361.4h0M510.8 364.3h0M511.6 367.0h0M510.9 369.7h0M511.1 371.7h0M514.7 342.9h0M520.3 355.3h0M524.8 361.5h0M524.8 364.3h0M524.7 366.7h0M524.2 369.7h0M524.8 372.2h0M522.8 363.4h0M522.8 365.7h0M523.2 368.2h0M522.7 370.2h0M523.1 372.0h0M526.7 363.6h0M525.9 366.1h0M525.8 368.3h0M527.6 370.6h0M526.4 373.3h0M533.8 340.0h0M534.0 342.5h0M533.9 344.7h0M534.4 346.3h0M533.8 348.0h0M533.8 356.9h0M534.7 358.9h0M534.2 361.7h0M534.6 364.0h0M534.0 366.1h0M533.5 369.1h0M534.1 371.0h0M533.9 373.9h0M532.1 361.9h0M532.2 364.2h0M532.4 367.0h0M531.7 369.6h0M531.4 372.5h0M536.1 364.7h0M536.2 367.4h0M536.1 369.3h0M536.2 372.1h0M541.7 329.3h0M541.7 331.6h0M544.0 356.9h0M543.8 359.5h0M543.5 362.0h0M544.3 364.9h0M543.7 367.8h0M545.2 369.9h0M543.2 372.1h0M544.3 373.9h0M545.2 360.7h0M545.5 363.2h0M544.9 365.0h0M545.3 367.4h0M545.7 370.3h0M546.2 372.5h0M552.3 344.4h0M559.1 349.5h0M559.2 352.1h0M558.4 354.2h0M558.3 356.8h0M560.0 358.7h0M559.2 360.6h0M559.2 362.6h0M558.7 364.9h0M558.8 366.7h0M559.7 368.7h0M559.2 370.8h0M558.6 373.3h0M557.9 355.0h0M557.1 357.4h0M557.3 359.2h0M557.7 361.5h0M558.2 363.3h0M557.9 365.5h0M556.6 368.4h0M558.0 371.2h0M558.1 373.7h0M560.5 355.0h0M560.7 357.8h0M560.6 360.5h0M560.5 363.2h0M560.5 366.0h0M560.6 368.8h0M561.1 371.7h0M560.6 373.8h0M567.7 358.8h0M568.2 361.1h0M567.0 363.2h0M567.8 365.7h0M567.9 368.3h0M568.5 370.6h0M567.1 373.4h0M566.0 363.7h0M566.0 366.4h0M566.0 368.3h0M566.0 371.2h0M565.9 373.4h0M570.1 361.3h0M570.7 364.3h0M570.2 366.2h0M569.4 368.7h0M570.5 371.3h0M570.3 373.9h0M577.8 358.8h0M577.4 360.6h0M577.8 362.9h0M577.7 365.1h0M577.1 368.1h0M578.7 370.7h0M577.8 372.8h0M576.7 363.7h0M576.3 366.3h0M575.9 368.6h0M576.3 371.5h0M579.2 363.6h0M580.1 365.5h0M579.6 367.9h0M579.4 370.2h0M579.5 372.4h0M580.1 344.7h0M592.5 358.1h0M592.7 360.7h0M592.7 362.9h0M591.8 364.8h0M592.1 367.7h0M592.7 370.2h0M593.5 372.7h0M590.9 366.1h0M591.0 368.6h0M591.4 371.0h0M590.5 373.4h0M606.0 340.0h0M606.6 342.4h0M606.2 345.3h0M605.8 347.1h0M605.5 348.9h0M606.4 351.0h0M606.4 353.4h0M605.8 355.6h0M605.2 357.4h0M606.1 359.7h0M606.6 361.9h0M605.8 364.6h0M606.2 367.3h0M605.4 369.4h0M606.5 371.7h0M605.8 373.6h0M604.4 355.9h0M604.0 358.6h0M604.2 361.5h0M604.4 363.4h0M604.8 366.2h0M604.8 368.4h0M604.5 370.3h0M603.6 372.2h0M608.1 351.8h0M608.2 354.2h0M607.9 356.1h0M607.9 358.2h0M608.4 360.3h0M607.8 362.3h0M607.8 364.9h0M607.9 366.9h0M608.4 369.7h0M608.0 371.8h0M609.4 342.3h0M609.6 344.4h0M608.9 347.0h0M609.8 349.5h0M609.4 352.4h0M610.3 354.4h0M609.4 356.9h0M609.3 359.0h0M609.8 361.3h0M610.0 363.3h0M609.7 365.6h0M610.1 368.2h0M608.8 370.9h0M609.3 373.8h0M610.6 358.1h0M611.1 360.4h0M610.5 363.1h0M610.5 365.3h0M610.2 368.1h0M610.7 370.2h0M611.3 372.9h0M611.4 325.9h0M611.4 333.8h0M598.4 274.6h0M598.5 290.7h0M598.6 292.3h0M598.7 293.8h0M599.0 295.5h0M598.4 297.0h0M598.8 299.1h0M598.2 301.2h0M598.4 303.2h0M598.5 305.0h0M598.6 306.7h0M598.8 308.8h0M598.6 311.2h0M598.6 313.0h0M598.9 314.5h0M598.1 316.0h0M598.4 317.8h0M598.6 319.6h0M598.6 321.4h0M598.7 323.6h0M599.0 325.8h0M599.1 328.1h0M599.1 329.6h0M598.4 331.5h0M598.2 333.2h0M598.7 335.2h0M598.6 337.4h0M597.9 339.2h0M598.6 341.1h0M598.8 342.9h0M598.4 344.8h0M598.3 346.6h0M598.5 349.0h0M598.7 350.5h0M599.0 352.6h0M598.3 355.0h0M598.0 356.7h0M598.5 358.9h0M598.5 360.6h0M599.0 362.4h0M598.0 364.8h0M598.0 366.7h0M598.2 368.3h0M598.2 369.8h0M598.8 371.5h0M598.1 373.0h0M611.4 328.8h0M611.4 330.7h0"/>
</g>
<g fill="#4876ff" stroke="#4876ff">
<path stroke="none" d="M613.4 373.0V438.8Q613.4 441.6 616.2 441.6H709.4V373.0Z"/>
<path fill="none" stroke-width="5.6" stroke-linecap="round" d="M615.6 369.8h0M615.7 372.9h0M617.4 370.7h0M618.9 370.3h0M618.6 372.8h0M620.9 368.6h0M620.8 371.9h0M622.5 367.0h0M622.4 370.2h0M622.8 372.6h0M624.9 370.0h0M625.6 372.2h0M626.5 369.0h0M626.7 372.1h0M628.8 370.0h0M627.8 372.7h0M630.6 371.0h0M630.7 373.2h0M632.8 369.8h0M632.5 372.5h0M634.6 370.8h0M634.1 373.7h0M636.9 368.6h0M635.8 371.0h0M639.0 367.7h0M638.8 370.8h0M639.3 373.5h0M640.5 369.0h0M639.7 371.8h0M642.2 370.1h0M642.3 372.5h0M643.8 370.9h0M642.6 373.4h0M645.6 370.5h0M645.4 372.8h0M648.0 370.9h0M647.7 373.5h0M650.1 368.2h0M649.3 371.5h0M648.4 373.8h0M651.7 369.5h0M651.3 371.6h0M651.4 373.8h0M653.9 370.6h0M653.8 373.7h0M656.0 370.4h0M656.5 373.0h0M658.3 370.9h0M658.7 373.0h0M660.5 370.4h0M659.9 372.6h0M662.3 370.0h0M662.6 372.9h0M663.9 369.8h0M664.4 371.9h0M664.1 374.0h0M665.7 370.4h0M666.6 372.5h0M667.7 370.6h0M667.5 374.0h0M669.5 370.8h0M669.0 374.0h0M671.8 370.7h0M671.8 373.8h0M673.7 370.5h0M673.3 373.2h0M675.6 370.6h0M675.7 373.7h0M677.5 368.9h0M676.8 371.5h0M679.7 370.5h0M680.5 373.4h0M681.5 369.7h0M681.1 373.0h0M683.6 370.7h0M683.0 373.8h0M686.0 370.6h0M686.5 373.6h0M687.7 370.0h0M687.7 372.4h0M690.1 370.8h0M691.6 370.1h0M691.9 373.3h0M693.8 369.6h0M693.4 372.6h0M695.5 369.8h0M694.1 372.6h0M697.7 370.6h0M697.3 373.6h0M699.5 370.2h0M699.2 372.9h0M701.8 369.9h0M701.8 372.3h0M703.6 370.8h0M703.0 373.7h0M619.1 366.2h0M619.2 372.4h0M623.1 367.1h0M623.7 369.7h0M623.2 372.7h0M626.6 368.0h0M626.5 373.9h0M625.9 357.6h0M635.0 367.7h0M634.4 370.8h0M636.1 373.2h0M640.2 362.5h0M640.3 366.0h0M641.0 368.3h0M639.2 370.8h0M644.1 360.3h0M644.6 362.7h0M643.8 366.1h0M644.4 372.7h0M647.0 369.2h0M646.0 371.7h0M650.2 367.1h0M649.5 370.2h0M650.0 372.7h0M653.8 367.2h0M654.6 369.3h0M654.7 372.2h0M663.0 359.0h0M663.7 362.0h0M662.4 365.1h0M663.3 367.9h0M663.3 370.7h0M661.1 363.0h0M659.8 365.5h0M661.8 367.8h0M660.2 370.9h0M661.0 374.0h0M671.9 340.5h0M671.3 344.0h0M672.7 346.1h0M671.8 348.9h0M672.2 352.3h0M671.9 358.6h0M672.5 361.2h0M672.4 364.7h0M671.6 367.9h0M671.7 370.7h0M671.2 373.8h0M672.3 333.7h0M677.7 367.7h0M677.0 369.8h0M685.4 359.8h0M686.7 365.6h0M685.4 368.9h0M685.5 371.1h0M683.5 364.9h0M684.4 367.1h0M683.5 370.4h0M684.1 372.9h0M689.6 361.5h0M689.0 363.6h0M690.0 366.0h0M689.8 369.1h0M690.2 372.6h0M693.4 369.4h0M693.9 372.1h0M692.7 360.6h0M697.4 348.0h0M698.1 351.1h0M696.9 356.9h0M696.8 359.6h0M697.7 361.7h0M697.4 364.3h0M697.7 367.0h0M697.9 370.4h0M696.5 372.5h0M695.5 360.3h0M694.7 362.8h0M695.8 366.4h0M694.8 368.8h0M694.9 371.0h0M695.7 373.2h0M698.1 340.1h0M701.5 359.2h0M700.5 364.3h0M702.0 371.6h0M703.4 361.7h0M703.1 363.9h0M703.2 366.5h0M702.8 369.7h0M703.8 373.1h0M617.3 327.6h0M617.5 330.0h0M617.6 332.8h0M616.6 334.8h0M617.7 336.8h0M616.9 338.9h0M616.7 341.2h0M617.9 343.9h0M617.3 346.2h0M616.5 348.4h0M617.2 350.4h0M617.3 353.1h0M616.5 355.3h0M617.8 357.4h0M617.4 359.3h0M617.3 362.2h0M618.1 364.7h0M617.6 366.8h0M617.5 369.0h0M617.2 371.2h0M615.5 334.5h0M615.5 337.1h0M615.7 339.9h0M615.7 342.1h0M616.5 344.8h0M615.9 347.7h0M615.4 349.9h0M615.9 352.4h0M615.4 354.4h0M615.6 357.4h0M615.9 359.4h0M615.4 361.8h0M615.9 364.1h0M615.4 366.1h0M615.9 368.3h0M615.7 370.4h0M615.4 373.4h0M619.1 338.1h0M619.6 340.7h0M619.0 343.5h0M618.6 345.5h0M619.0 347.9h0M619.7 350.8h0M618.9 353.7h0M618.5 355.8h0M620.2 358.0h0M619.5 361.0h0M619.3 363.6h0M619.4 366.4h0M619.2 368.2h0M618.8 370.3h0M619.1 372.2h0M621.8 333.3h0M622.7 335.2h0M621.7 338.1h0M622.6 341.0h0M621.4 343.1h0M621.9 344.9h0M621.8 347.2h0M621.7 349.5h0M621.4 351.4h0M621.6 353.7h0M621.3 355.5h0M621.8 357.8h0M621.6 360.0h0M622.0 362.8h0M621.5 364.7h0M621.9 366.7h0M621.1 368.7h0M621.4 370.9h0M622.1 373.1h0M619.5 355.1h0M619.2 357.8h0M619.7 360.1h0M620.3 361.9h0M619.1 364.0h0M619.6 366.7h0M619.3 368.5h0M619.5 370.4h0M619.7 372.4h0M627.5 358.1h0M627.6 361.1h0M627.5 363.2h0M627.9 365.2h0M626.8 367.9h0M627.6 370.2h0M627.6 372.3h0M625.9 366.1h0M626.0 368.4h0M626.6 371.3h0M626.4 373.6h0M629.3 362.9h0M629.4 365.7h0M629.7 368.4h0M629.2 370.3h0M629.1 372.4h0M637.6 360.3h0M637.0 363.1h0M638.0 365.1h0M636.7 367.6h0M637.2 370.4h0M637.6 372.9h0M636.1 365.9h0M637.1 368.4h0M636.4 371.0h0M635.5 373.9h0M646.6 336.1h0M646.6 344.5h0M646.8 347.0h0M646.5 349.1h0M646.5 351.0h0M646.7 353.0h0M646.6 353.6h0M662.4 359.2h0M661.3 362.1h0M662.9 364.7h0M663.1 366.9h0M662.3 368.7h0M662.6 371.6h0M662.4 373.6h0M660.9 365.5h0M661.1 368.2h0M660.7 370.3h0M660.4 372.3h0M664.3 361.8h0M664.7 364.3h0M664.7 366.7h0M664.3 369.1h0M664.7 371.3h0M664.8 373.8h0M676.0 348.5h0M678.2 356.9h0M678.2 358.8h0M678.2 360.8h0M678.8 363.4h0M678.8 365.6h0M677.1 367.8h0M677.9 370.7h0M678.2 372.6h0M676.2 361.2h0M676.7 363.0h0M675.7 365.3h0M675.6 367.2h0M675.7 369.8h0M677.2 372.2h0M688.4 346.8h0M688.2 349.2h0M688.7 351.4h0M689.2 353.3h0M688.3 355.9h0M688.9 357.8h0M688.2 360.4h0M688.5 362.4h0M688.3 364.7h0M688.9 367.0h0M688.2 369.5h0M688.3 371.8h0M690.0 356.5h0M689.3 358.9h0M689.7 361.6h0M690.3 363.9h0M691.1 365.8h0M689.7 368.5h0M690.0 370.6h0M689.5 372.6h0M692.9 323.7h0M692.9 332.7h0M692.9 340.6h0M692.9 351.3h0M692.6 353.8h0M693.7 355.7h0M692.6 357.8h0M692.7 360.4h0M693.0 362.9h0M692.6 365.9h0M691.9 368.4h0M693.0 371.1h0M693.0 373.1h0M694.0 357.3h0M694.3 359.6h0M694.1 362.5h0M693.9 365.1h0M693.5 367.5h0M693.7 370.2h0M694.8 373.0h0M699.7 347.9h0M700.2 350.6h0M699.3 352.7h0M700.0 355.7h0M699.6 358.6h0M699.3 360.9h0M699.9 363.0h0M699.1 365.7h0M700.1 368.0h0M699.7 370.1h0M699.5 372.4h0M698.2 358.3h0M698.0 360.8h0M698.8 363.5h0M698.1 365.7h0M697.9 368.0h0M698.7 370.8h0M698.6 373.2h0M701.2 353.0h0M700.7 355.8h0M700.8 358.6h0M701.1 361.4h0M701.0 363.7h0M701.5 366.6h0M701.6 368.5h0M700.6 371.3h0M701.2 373.8h0M703.9 336.1h0M703.9 344.5h0M703.9 346.8h0M703.9 348.7h0M703.9 350.8h0M703.9 352.5h0M703.9 353.6h0M617.1 219.5h0M617.1 241.9h0M617.1 262.5h0M617.1 270.8h0M617.1 273.4h0M617.2 275.0h0M617.2 276.7h0M617.1 277.2h0M617.1 287.8h0M617.5 289.8h0M616.9 292.3h0M617.2 294.3h0M617.3 296.5h0M617.2 298.2h0M617.2 300.1h0M616.9 302.0h0M616.9 303.9h0M616.9 305.6h0M617.0 308.0h0M617.0 309.8h0M617.3 311.5h0M616.9 313.4h0M617.1 313.9h0M617.3 326.4h0M617.0 328.2h0M617.8 330.0h0M617.7 332.3h0M617.7 333.8h0M617.2 335.5h0M617.5 337.3h0M617.6 339.2h0M617.2 341.3h0M617.4 343.5h0M616.9 345.4h0M617.0 347.2h0M617.3 349.5h0M616.7 351.4h0M617.6 353.1h0M617.8 355.4h0M617.5 357.4h0M617.0 359.8h0M617.8 361.3h0M617.1 362.8h0M616.9 364.9h0M616.9 366.4h0M616.9 368.0h0M617.4 369.8h0M617.0 372.1h0M617.4 373.8h0"/>
</g>
<g fill="#104e8b" stroke="#104e8b">
<path stroke="none" d="M705.9 373.0V438.8Q705.9 441.6 708.7 441.6H806.9V373.0Z"/>
<path fill="none" stroke-width="5.6" stroke-linecap="round" d="M708.1 369.8h0M708.2 373.1h0M710.0 369.1h0M711.0 372.2h0M712.2 370.6h0M713.1 373.4h0M714.5 370.1h0M715.5 373.4h0M716.9 370.8h0M716.9 373.4h0M718.5 369.5h0M718.2 371.6h0M720.6 370.8h0M720.3 373.4h0M723.0 370.7h0M722.8 373.2h0M724.6 370.2h0M724.3 372.7h0M726.1 371.0h0M725.9 373.5h0M727.7 369.7h0M729.2 372.1h0M729.8 369.1h0M729.5 372.4h0M731.6 369.6h0M731.8 372.3h0M733.3 369.5h0M733.5 372.8h0M734.8 370.5h0M735.5 372.7h0M736.8 369.9h0M737.0 373.2h0M738.7 369.3h0M738.8 372.2h0M741.0 370.5h0M740.9 372.7h0M742.5 370.8h0M742.4 372.9h0M744.1 370.1h0M744.0 373.2h0M746.3 368.8h0M746.5 371.6h0M748.6 369.9h0M748.4 373.2h0M750.5 371.0h0M751.3 373.7h0M752.5 370.3h0M752.8 373.0h0M754.6 366.3h0M754.7 369.4h0M754.1 371.9h0M756.5 368.5h0M756.7 371.1h0M756.0 373.7h0M758.0 370.5h0M758.1 372.6h0M759.7 370.8h0M759.0 373.4h0M761.4 370.5h0M760.9 373.8h0M763.0 368.8h0M763.1 371.5h0M765.1 370.9h0M765.3 373.9h0M767.0 370.1h0M767.4 372.1h0M769.2 370.9h0M769.1 372.9h0M771.2 368.7h0M771.2 371.8h0M773.1 370.6h0M773.2 373.9h0M775.2 370.9h0M777.5 370.0h0M777.3 372.5h0M779.0 370.3h0M778.0 372.5h0M781.4 369.0h0M781.0 371.3h0M781.3 373.6h0M783.6 370.6h0M783.3 373.2h0M785.2 370.9h0M784.4 373.1h0M787.1 370.0h0M786.9 372.5h0M789.2 370.9h0M789.4 373.8h0M791.2 369.5h0M792.2 372.4h0M793.3 370.5h0M792.4 373.1h0M795.4 370.6h0M795.9 373.1h0M797.7 370.5h0M796.9 373.4h0M799.4 370.9h0M709.6 365.7h0M708.8 367.9h0M708.6 370.0h0M710.0 373.2h0M713.9 366.9h0M713.5 373.5h0M716.8 368.9h0M717.5 372.1h0M716.9 360.8h0M720.8 340.8h0M721.3 343.4h0M720.2 345.6h0M721.0 347.7h0M720.9 350.4h0M722.0 354.0h0M719.9 357.2h0M720.6 360.0h0M720.5 362.8h0M720.5 365.6h0M720.0 368.9h0M721.1 371.0h0M722.7 356.6h0M722.8 359.5h0M722.4 362.5h0M722.5 365.1h0M722.1 367.8h0M722.7 371.2h0M722.2 373.5h0M724.0 366.3h0M724.7 369.4h0M729.3 362.8h0M729.7 365.7h0M729.2 368.7h0M728.4 371.5h0M735.0 365.9h0M735.3 368.5h0M737.9 366.8h0M737.0 370.2h0M739.1 372.2h0M746.7 341.0h0M746.0 344.1h0M746.6 347.6h0M746.8 351.0h0M747.3 353.2h0M747.6 355.3h0M747.1 358.3h0M745.8 360.6h0M747.1 362.9h0M746.3 366.4h0M747.2 368.6h0M747.0 370.6h0M748.6 351.6h0M748.8 355.1h0M749.5 358.6h0M750.3 361.0h0M749.0 364.2h0M749.0 367.0h0M748.5 370.3h0M748.3 373.7h0M749.5 366.8h0M750.3 369.3h0M753.3 367.4h0M753.1 372.7h0M757.0 369.4h0M756.4 372.4h0M759.9 369.3h0M764.3 363.5h0M764.3 369.2h0M763.7 372.1h0M773.6 359.1h0M774.5 362.2h0M772.5 365.1h0M773.5 372.1h0M772.9 348.0h0M776.8 362.9h0M776.9 365.1h0M776.3 367.9h0M777.9 369.9h0M776.9 373.1h0M779.6 347.7h0M779.1 353.7h0M779.8 360.1h0M779.4 362.8h0M779.0 368.9h0M779.9 371.6h0M782.9 367.3h0M782.5 370.0h0M782.6 373.6h0M791.1 369.2h0M791.3 371.5h0M797.4 364.4h0M796.2 367.6h0M796.6 370.4h0M797.3 372.9h0M712.5 337.2h0M717.7 344.5h0M717.1 347.4h0M718.1 349.7h0M717.3 352.4h0M717.3 354.6h0M718.0 357.5h0M717.7 359.6h0M717.0 362.5h0M717.6 365.4h0M717.7 368.3h0M717.5 371.2h0M717.4 373.0h0M719.6 350.2h0M719.9 353.0h0M719.3 355.9h0M719.0 358.4h0M718.7 360.8h0M719.7 362.8h0M718.8 365.6h0M719.7 368.4h0M720.4 370.5h0M719.9 372.3h0M723.4 324.8h0M723.4 351.3h0M722.8 353.3h0M723.7 356.1h0M722.6 358.8h0M723.9 361.4h0M723.3 364.2h0M723.3 367.0h0M722.6 369.4h0M723.2 372.3h0M721.4 362.3h0M721.2 365.1h0M721.5 367.1h0M721.5 369.8h0M721.2 372.2h0M730.1 350.2h0M729.5 352.0h0M730.1 354.1h0M730.6 356.0h0M729.9 358.9h0M730.7 360.8h0M730.0 363.3h0M730.0 365.2h0M730.1 367.5h0M729.9 369.9h0M729.0 371.7h0M729.9 373.7h0M728.5 357.0h0M728.7 359.2h0M728.5 361.7h0M729.0 363.8h0M729.4 366.4h0M728.0 368.6h0M729.7 370.6h0M728.3 372.8h0M732.3 362.2h0M732.0 364.5h0M732.6 366.3h0M731.6 368.3h0M732.4 370.6h0M731.8 373.1h0M734.0 342.2h0M742.5 356.3h0M743.6 358.7h0M742.7 361.6h0M742.8 363.9h0M742.5 366.9h0M741.5 369.5h0M742.9 372.3h0M741.4 361.9h0M741.8 364.5h0M741.1 366.7h0M741.1 369.4h0M741.5 372.0h0M743.9 365.2h0M743.7 367.4h0M744.1 369.7h0M744.0 372.1h0M754.3 349.5h0M754.3 352.0h0M754.4 353.9h0M754.6 356.3h0M754.5 358.2h0M754.1 360.9h0M754.6 363.6h0M753.7 365.9h0M754.6 368.3h0M755.1 370.3h0M753.5 372.7h0M752.7 355.9h0M753.6 358.0h0M752.7 360.1h0M752.8 362.7h0M753.0 365.6h0M752.8 368.4h0M753.1 371.4h0M752.1 373.9h0M756.1 353.4h0M755.9 355.5h0M756.7 358.2h0M755.7 360.8h0M755.7 363.6h0M756.2 366.5h0M756.2 368.5h0M755.9 371.4h0M756.9 373.5h0M766.2 347.9h0M767.0 350.1h0M766.4 352.7h0M765.7 354.7h0M766.6 357.6h0M766.0 360.2h0M766.1 362.7h0M766.4 365.5h0M765.9 367.5h0M766.8 369.5h0M765.9 372.4h0M764.1 356.3h0M763.8 359.2h0M763.4 361.3h0M764.7 363.6h0M764.1 365.9h0M763.7 368.6h0M764.6 371.1h0M763.6 373.2h0M768.2 352.9h0M768.3 354.8h0M767.5 356.7h0M768.0 359.3h0M767.9 361.3h0M767.2 363.4h0M768.4 366.4h0M768.6 368.6h0M768.0 371.4h0M773.0 339.9h0M773.0 350.2h0M772.8 352.0h0M772.2 354.8h0M772.8 357.2h0M773.2 360.1h0M773.0 362.9h0M773.4 365.4h0M773.1 367.3h0M773.0 369.2h0M773.1 371.4h0M772.4 373.7h0M774.8 358.6h0M774.8 361.6h0M775.0 364.0h0M774.5 366.5h0M774.8 369.4h0M774.7 371.9h0M795.5 350.6h0M795.4 353.3h0M795.5 356.2h0M795.7 358.9h0M795.6 361.5h0M796.2 363.7h0M796.0 365.7h0M795.2 368.3h0M796.3 370.3h0M795.7 372.8h0M794.0 359.3h0M793.9 362.0h0M794.3 364.6h0M794.5 367.2h0M794.1 369.1h0M793.1 371.3h0M794.6 373.3h0M801.4 329.3h0M801.4 330.5h0M801.4 350.9h0M801.4 353.1h0M801.3 355.8h0M801.4 357.9h0M801.4 359.9h0M801.4 362.0h0M801.4 364.8h0M801.4 367.4h0M801.4 369.3h0M801.4 371.2h0M801.4 373.5h0M799.9 357.0h0M801.0 359.6h0M799.3 362.5h0M800.7 364.4h0M799.7 367.3h0M799.9 369.1h0M799.5 372.0h0M799.3 374.0h0"/>
</g>
<g fill="#4876ff" stroke="#4876ff">
<path stroke="none" d="M803.4 373.0V438.8Q803.4 441.6 806.2 441.6H892.6V373.0Z"/>
<path fill="none" stroke-width="5.6" stroke-linecap="round" d="M805.6 367.8h0M806.5 371.1h0M807.8 370.2h0M807.4 372.3h0M810.1 369.2h0M810.8 371.2h0M810.4 373.9h0M812.5 370.4h0M812.1 373.4h0M814.6 370.9h0M816.7 369.4h0M816.0 372.0h0M818.6 369.9h0M818.6 372.6h0M820.3 370.7h0M820.4 373.1h0M822.5 368.6h0M823.5 371.5h0M824.6 370.0h0M824.8 372.5h0M826.2 369.9h0M825.7 372.0h0M828.2 369.3h0M827.2 372.7h0M830.6 370.4h0M830.1 372.4h0M832.7 370.5h0M832.2 372.6h0M834.7 366.8h0M835.3 369.6h0M834.0 373.0h0M837.0 370.5h0M836.8 372.5h0M838.9 370.7h0M839.3 373.6h0M840.7 370.5h0M840.2 372.7h0M842.5 367.2h0M842.2 369.5h0M842.5 372.2h0M844.8 370.7h0M844.9 373.3h0M846.5 370.2h0M846.3 372.3h0M848.7 369.8h0M849.0 372.6h0M850.9 370.9h0M850.9 373.1h0M853.1 370.8h0M852.1 373.6h0M855.1 370.9h0M857.1 370.7h0M858.9 370.9h0M858.9 373.9h0M861.0 370.6h0M861.3 373.5h0M863.4 368.8h0M863.4 372.1h0M865.4 370.9h0M866.3 373.1h0M867.0 369.7h0M867.9 372.5h0M869.3 369.3h0M869.3 372.0h0M870.8 369.8h0M869.7 371.9h0M872.4 369.7h0M872.2 372.7h0M874.6 370.1h0M874.2 372.7h0M876.9 370.6h0M876.9 373.6h0M878.6 371.0h0M880.8 367.0h0M881.1 369.8h0M880.9 371.9h0M882.8 367.9h0M882.9 370.3h0M883.2 372.5h0M884.8 370.5h0M885.2 373.0h0M886.8 370.9h0M886.6 372.9h0M806.4 360.4h0M806.8 362.8h0M805.5 365.2h0M807.0 368.7h0M806.0 370.8h0M808.3 363.0h0M809.6 366.4h0M808.7 368.7h0M808.3 372.1h0M807.1 354.3h0M813.0 365.1h0M813.2 367.3h0M812.6 370.2h0M813.4 372.6h0M828.9 364.2h0M829.5 366.7h0M828.0 373.0h0M829.2 356.0h0M834.0 340.5h0M833.3 342.9h0M835.0 346.2h0M834.5 352.7h0M834.1 356.1h0M833.4 359.1h0M834.2 361.9h0M833.4 364.2h0M832.9 366.5h0M833.8 369.6h0M834.4 372.3h0M837.6 367.9h0M837.4 371.1h0M843.1 363.4h0M843.9 366.3h0M842.7 369.9h0M843.2 372.0h0M846.1 362.2h0M846.1 365.5h0M845.8 368.3h0M846.7 373.1h0M851.6 347.8h0M851.9 350.7h0M852.4 352.8h0M852.2 357.7h0M852.0 360.1h0M851.0 362.8h0M850.9 369.2h0M852.1 371.8h0M858.1 363.3h0M858.1 365.7h0M857.0 368.1h0M859.2 370.3h0M858.3 372.4h0M860.9 367.9h0M860.5 371.0h0M864.1 363.0h0M864.2 365.4h0M863.7 371.8h0M870.0 367.4h0M871.7 373.3h0M872.7 368.1h0M872.5 371.3h0M873.7 360.2h0M883.1 364.7h0M882.8 368.3h0M824.9 336.6h0M824.8 338.7h0M825.3 341.0h0M824.3 342.9h0M825.3 345.7h0M825.6 348.6h0M824.7 350.9h0M825.1 353.7h0M824.6 356.5h0M823.9 358.7h0M824.9 360.7h0M824.3 362.9h0M824.3 365.6h0M824.8 368.3h0M824.8 370.3h0M824.7 372.2h0M822.8 354.5h0M823.0 357.3h0M822.4 359.8h0M822.6 362.0h0M823.9 365.0h0M823.6 367.2h0M822.8 369.3h0M822.3 371.3h0M822.6 373.5h0M826.8 356.2h0M827.8 358.1h0M826.5 360.4h0M826.8 362.5h0M827.0 364.8h0M827.1 367.6h0M826.7 369.9h0M826.4 371.9h0M829.4 354.7h0M829.1 357.3h0M830.2 360.0h0M829.7 363.0h0M829.3 365.7h0M829.1 368.6h0M829.1 371.1h0M829.2 373.7h0M848.6 337.2h0M848.6 346.2h0M848.6 356.9h0M848.4 359.5h0M847.6 362.1h0M848.5 364.1h0M848.3 366.9h0M849.4 369.1h0M848.4 371.8h0M847.3 360.4h0M846.7 363.1h0M847.5 365.9h0M846.8 368.8h0M847.4 371.1h0M846.5 373.1h0M859.4 349.0h0M859.2 351.6h0M860.1 354.0h0M858.5 356.7h0M859.6 359.5h0M859.5 361.4h0M858.8 363.3h0M859.6 365.5h0M859.0 367.5h0M859.6 369.9h0M859.5 372.0h0M858.6 373.8h0M857.8 354.2h0M857.6 357.2h0M858.4 359.8h0M857.6 361.9h0M857.4 363.9h0M858.3 366.1h0M857.8 368.7h0M857.8 371.3h0M861.3 358.5h0M860.6 361.4h0M861.2 363.9h0M861.8 366.4h0M861.9 368.5h0M861.4 371.2h0M861.2 373.9h0M868.9 340.6h0M882.4 352.9h0M881.8 354.8h0M881.8 357.4h0M882.6 359.5h0M882.1 361.8h0M882.1 364.8h0M882.6 366.9h0M882.7 369.0h0M882.2 370.8h0M882.4 372.7h0M880.3 358.1h0M880.6 361.0h0M880.3 363.6h0M879.9 365.9h0M880.3 367.8h0M880.3 370.6h0M880.3 372.6h0M883.9 360.7h0M883.7 363.2h0M884.1 366.1h0M884.3 368.4h0M883.8 370.8h0M883.8 373.5h0M882.3 352.9h0M882.7 355.7h0M881.9 358.3h0M882.0 360.9h0M882.7 363.5h0M882.2 365.8h0M882.1 368.2h0M882.2 370.8h0M881.8 373.1h0M887.1 355.8h0M887.1 358.7h0M887.1 360.8h0M887.1 362.7h0M887.1 364.7h0M887.1 367.6h0M887.1 370.1h0M887.1 373.1h0M887.1 360.4h0M887.1 362.6h0M887.1 365.4h0M887.1 367.8h0M887.1 370.2h0M887.1 372.6h0M887.1 358.7h0M887.1 361.5h0M887.1 363.5h0M887.1 365.7h0M887.1 368.4h0M887.1 370.3h0M887.1 372.8h0M810.9 315.3h0M813.6 322.7h0M813.6 324.9h0M813.5 326.5h0M813.4 328.2h0M813.7 330.1h0M813.8 332.0h0M813.3 333.4h0M814.0 334.9h0M813.1 336.9h0M813.5 339.0h0M814.0 340.5h0M813.1 342.8h0M813.1 344.9h0M813.8 347.2h0M813.4 348.8h0M813.7 350.9h0M813.7 352.9h0M813.7 355.1h0M813.0 357.5h0M813.8 359.7h0M813.8 361.4h0M813.4 363.4h0M813.7 365.4h0M813.1 366.9h0M813.5 368.4h0M813.5 369.9h0M813.2 371.7h0M815.0 328.8h0M815.2 331.0h0M815.4 332.8h0M815.2 334.9h0M815.3 337.3h0M815.2 339.5h0M815.2 340.9h0M815.2 343.0h0M814.7 344.5h0M815.2 346.0h0M814.7 347.8h0M814.8 349.4h0M815.4 351.8h0M815.5 353.6h0M815.2 355.1h0M815.6 356.8h0M814.8 358.2h0M814.8 360.3h0M815.2 362.4h0M814.9 364.0h0M815.1 366.0h0M815.1 367.7h0M815.0 369.8h0M814.7 371.6h0M814.9 373.0h0M873.3 319.0h0M873.3 320.9h0M873.5 322.4h0M873.4 324.6h0M873.0 326.5h0M873.0 328.2h0M873.7 330.4h0M873.5 331.9h0M873.3 334.1h0M873.1 336.1h0M873.8 338.4h0M873.4 340.5h0M872.7 342.8h0M873.5 344.3h0M873.3 345.8h0M873.0 347.3h0M873.2 348.8h0M873.3 350.3h0M874.2 352.4h0M874.0 354.5h0M872.9 356.1h0M872.9 358.4h0M873.0 360.0h0M873.0 362.0h0M873.0 363.6h0M872.6 365.1h0M873.5 366.8h0M873.4 369.1h0M873.7 371.2h0M873.3 372.9h0M871.6 332.8h0M871.9 335.0h0M871.7 336.6h0M871.5 338.7h0M871.8 340.8h0M871.7 343.2h0M871.8 345.6h0M872.1 347.3h0M871.7 349.2h0M871.5 350.9h0M871.7 353.3h0M871.9 355.5h0M871.6 357.7h0M871.5 359.2h0M871.3 361.5h0M871.6 363.4h0M871.6 365.7h0M872.0 368.0h0M871.8 370.1h0M871.6 371.7h0M871.6 373.1h0"/>
</g>
<g fill="#104e8b" stroke="#104e8b">
<path stroke="none" d="M889.1 373.0V438.8Q889.1 441.6 891.9 441.6H972.1V373.0Z"/>
<path fill="none" stroke-width="5.6" stroke-linecap="round" d="M891.3 370.1h0M891.1 373.1h0M893.5 370.4h0M892.9 372.6h0M895.3 370.9h0M897.0 370.7h0M897.0 373.7h0M898.8 369.6h0M899.3 372.3h0M900.4 370.3h0M900.0 373.0h0M902.1 370.4h0M901.7 372.6h0M903.8 369.5h0M904.5 372.9h0M906.0 369.9h0M906.3 372.4h0M908.0 370.9h0M907.7 373.6h0M910.2 370.5h0M910.2 373.4h0M912.4 370.8h0M912.5 373.6h0M914.2 369.9h0M913.9 372.6h0M915.8 369.5h0M915.7 372.8h0M917.6 370.7h0M916.5 373.8h0M919.1 370.2h0M918.2 372.8h0M921.5 369.9h0M920.8 372.3h0M923.2 370.6h0M923.1 373.3h0M924.9 370.7h0M925.3 373.2h0M927.0 368.3h0M926.6 370.5h0M926.6 373.4h0M928.8 366.7h0M928.1 369.3h0M928.3 372.7h0M931.2 370.5h0M930.8 373.1h0M933.6 370.4h0M933.8 372.8h0M935.2 370.3h0M935.5 373.5h0M937.6 369.4h0M938.0 372.7h0M939.3 369.8h0M939.7 372.4h0M941.6 370.0h0M941.6 373.1h0M943.6 370.4h0M943.9 372.9h0M945.5 370.4h0M946.0 372.8h0M947.2 370.9h0M947.9 373.8h0M949.0 370.5h0M950.2 372.6h0M951.3 371.0h0M951.4 373.3h0M953.0 370.0h0M952.9 372.4h0M954.6 371.0h0M953.0 373.0h0M956.8 370.1h0M955.8 372.6h0M958.5 369.7h0M958.7 372.0h0M960.4 370.2h0M960.8 372.3h0M962.1 370.0h0M961.2 372.4h0M963.9 368.5h0M963.8 371.5h0M963.6 373.5h0M965.7 370.5h0M965.4 373.6h0M894.4 367.5h0M895.0 370.1h0M893.7 372.6h0M900.8 363.3h0M901.0 366.1h0M900.0 369.2h0M900.2 371.9h0M910.4 365.5h0M910.9 368.8h0M911.0 371.3h0M915.4 364.4h0M915.6 370.4h0M914.8 372.5h0M922.4 366.8h0M921.7 370.1h0M922.8 373.0h0M925.7 368.8h0M926.3 372.2h0M928.8 364.9h0M928.4 367.5h0M929.1 369.8h0M928.8 372.5h0M931.4 363.1h0M930.7 366.5h0M931.9 369.3h0M931.5 371.6h0M937.2 363.3h0M938.3 370.6h0M937.4 372.7h0M942.9 363.6h0M942.0 366.6h0M942.9 370.0h0M942.5 372.5h0M949.9 340.5h0M949.3 343.5h0M949.5 349.4h0M949.9 352.9h0M949.6 356.3h0M949.6 359.1h0M950.2 362.5h0M949.8 364.7h0M950.6 370.4h0M950.1 373.1h0M952.9 365.7h0M953.5 368.3h0M952.8 371.8h0M952.4 359.6h0M956.6 365.8h0M956.6 368.2h0M956.9 371.3h0M891.1 338.8h0M891.1 355.8h0M891.1 358.7h0M891.1 361.0h0M891.1 363.4h0M891.1 365.6h0M891.1 368.1h0M891.1 370.8h0M891.1 373.5h0M891.1 360.0h0M891.1 362.8h0M891.1 365.0h0M891.1 367.5h0M891.1 370.2h0M891.1 372.7h0M891.1 338.4h0M896.9 363.7h0M896.6 365.8h0M896.4 368.4h0M896.7 370.8h0M896.9 373.3h0M894.9 367.1h0M894.5 369.7h0M895.3 372.1h0M898.2 365.9h0M898.7 367.7h0M898.2 370.2h0M898.1 372.9h0M902.6 361.9h0M903.1 364.7h0M902.4 367.3h0M902.5 369.8h0M902.3 372.7h0M903.8 365.9h0M904.3 368.2h0M903.9 370.1h0M903.9 372.6h0M913.8 339.5h0M913.8 351.3h0M914.4 353.1h0M913.8 355.0h0M913.6 357.4h0M914.1 360.4h0M914.2 363.3h0M912.9 365.9h0M914.1 367.9h0M913.9 370.4h0M913.8 373.2h0M911.9 361.0h0M912.1 363.6h0M912.1 365.8h0M912.4 368.4h0M912.0 370.6h0M912.4 372.5h0M915.8 356.8h0M915.7 358.8h0M916.2 361.8h0M915.6 364.6h0M915.9 367.2h0M916.4 369.8h0M915.4 372.1h0M920.6 351.3h0M920.6 353.5h0M921.3 356.2h0M921.1 359.1h0M920.7 361.6h0M920.6 364.4h0M920.3 366.3h0M920.1 369.2h0M920.9 371.0h0M920.2 373.8h0M919.3 360.7h0M918.3 362.7h0M920.1 365.3h0M920.0 367.1h0M919.6 369.5h0M920.3 371.7h0M921.9 360.2h0M922.0 363.0h0M921.6 365.9h0M922.7 368.8h0M921.7 370.7h0M922.3 372.5h0M926.2 352.9h0M926.0 355.6h0M926.0 358.1h0M926.6 360.4h0M926.6 363.3h0M926.6 365.7h0M925.9 368.5h0M925.6 370.8h0M926.2 373.0h0M928.7 362.0h0M929.4 364.1h0M928.6 366.5h0M929.3 369.5h0M929.2 372.0h0M949.9 340.6h0M949.9 353.6h0M949.8 355.7h0M950.1 357.5h0M950.1 360.1h0M949.8 362.5h0M949.9 365.1h0M949.6 367.3h0M950.2 369.6h0M949.9 372.4h0M948.0 363.6h0M947.7 365.8h0M947.5 367.7h0M947.3 369.6h0M948.4 371.9h0M951.4 359.6h0M951.6 362.6h0M952.1 364.8h0M950.9 367.5h0M951.6 370.1h0M951.7 372.6h0M959.0 355.8h0M958.7 358.1h0M958.5 360.6h0M959.4 362.5h0M959.2 364.3h0M958.5 366.3h0M959.1 368.8h0M959.0 371.2h0M958.9 373.4h0M957.4 360.3h0M957.4 363.2h0M957.2 365.6h0M957.1 367.6h0M958.0 369.4h0M957.8 371.4h0M960.7 363.5h0M960.6 365.5h0M960.4 367.5h0M960.7 370.4h0M960.2 373.0h0M963.9 345.7h0M964.1 348.3h0M963.7 351.0h0M964.9 352.8h0M963.2 355.4h0M964.1 358.0h0M964.9 360.6h0M964.2 363.6h0M963.9 365.9h0M963.9 367.7h0M963.8 370.1h0M963.7 372.0h0M963.7 373.9h0M962.1 351.6h0M961.8 353.5h0M961.2 355.5h0M962.6 358.4h0M961.4 360.3h0M962.0 362.8h0M962.3 365.0h0M962.1 367.6h0M963.1 369.4h0M961.7 372.2h0M965.3 356.3h0M965.3 358.5h0M965.4 361.3h0M965.6 363.4h0M964.7 365.7h0M965.5 368.0h0M965.0 371.0h0M965.1 374.0h0M934.4 179.1h0M934.4 191.1h0M934.4 197.1h0M934.4 268.9h0M934.4 278.3h0M934.4 295.8h0M934.4 308.5h0M934.4 332.2h0M934.4 344.7h0M934.8 346.6h0M934.4 348.9h0M934.2 350.9h0M934.4 353.3h0M934.1 355.7h0M934.5 358.0h0M934.1 359.7h0M934.1 362.0h0M934.4 363.4h0M934.7 364.9h0M934.8 366.6h0M934.8 368.3h0M934.5 370.7h0M934.9 372.9h0"/>
</g>
<g fill="#4876ff" stroke="#4876ff">
<path stroke="none" d="M968.6 373.0V438.8Q968.6 441.6 971.4 441.6H1035.7V373.0Z"/>
<path fill="none" stroke-width="5.6" stroke-linecap="round" d="M970.8 370.8h0M970.6 372.9h0M972.7 370.8h0M972.7 373.5h0M974.7 370.5h0M975.3 373.0h0M976.2 369.7h0M976.1 371.8h0M976.6 373.9h0M977.9 370.1h0M977.7 373.2h0M979.8 369.1h0M979.8 371.6h0M981.9 368.6h0M982.1 371.7h0M984.1 369.3h0M984.5 372.3h0M986.0 370.7h0M985.4 373.3h0M987.8 369.9h0M988.5 372.9h0M989.7 370.2h0M989.4 373.2h0M991.6 370.3h0M991.5 373.2h0M993.2 370.8h0M995.3 370.2h0M995.6 373.5h0M997.2 369.1h0M996.9 371.5h0M997.3 373.9h0M998.8 368.2h0M999.4 370.9h0M998.8 372.9h0M1001.0 370.5h0M1001.0 373.0h0M1002.8 370.4h0M1003.2 372.9h0M1004.6 369.5h0M1004.8 371.9h0M1006.9 370.1h0M1006.9 373.3h0M1008.5 368.7h0M1008.1 371.3h0M1007.7 374.0h0M1010.8 369.8h0M1009.8 372.8h0M1013.0 370.6h0M1012.0 373.3h0M1015.1 370.5h0M1014.4 373.6h0M1017.4 369.8h0M1017.7 372.0h0M1019.5 370.4h0M1020.4 373.6h0M1021.2 371.0h0M1023.0 368.6h0M1023.3 371.3h0M1025.3 369.8h0M1025.8 372.3h0M1027.6 370.8h0M1027.4 373.1h0M1029.5 368.9h0M1029.7 371.4h0M1029.4 373.7h0M974.2 368.3h0M975.1 370.5h0M974.0 373.8h0M974.5 362.6h0M980.2 368.0h0M980.7 371.2h0M984.3 368.5h0M984.2 371.6h0M988.4 364.6h0M989.4 367.9h0M988.3 371.5h0M987.8 373.8h0M988.3 354.2h0M993.5 359.1h0M993.8 362.0h0M994.1 364.7h0M993.5 367.0h0M993.9 369.6h0M994.0 372.3h0M999.4 348.0h0M1000.3 350.9h0M999.3 354.4h0M999.3 358.0h0M999.6 361.5h0M1000.1 364.5h0M1000.3 367.6h0M999.9 369.6h0M998.7 372.2h0M1015.8 364.5h0M1015.1 369.8h0M1015.5 372.3h0M1020.1 366.0h0M1019.5 369.5h0M1020.1 372.6h0M1022.7 366.2h0M1023.5 368.5h0M1022.3 372.0h0M1026.7 340.5h0M1026.4 342.9h0M1027.4 345.6h0M1027.5 348.5h0M1025.7 353.9h0M1027.4 357.4h0M1027.2 360.4h0M1026.0 363.1h0M1026.0 365.7h0M1025.6 370.7h0M1026.9 373.7h0M971.4 355.3h0M983.8 355.8h0M983.8 358.7h0M984.2 361.0h0M983.4 363.5h0M984.7 365.6h0M983.4 368.0h0M982.8 370.8h0M983.9 373.1h0M981.7 359.1h0M981.3 361.4h0M981.6 364.4h0M982.1 367.3h0M982.0 369.2h0M980.9 371.5h0M985.8 364.3h0M985.7 366.4h0M985.9 368.6h0M985.2 370.8h0M985.8 373.1h0M991.7 351.3h0M991.4 353.2h0M991.6 355.2h0M991.4 357.6h0M991.3 360.0h0M991.8 362.6h0M991.9 365.2h0M991.1 367.7h0M992.1 369.7h0M992.1 372.0h0M990.0 356.5h0M989.5 358.3h0M989.7 360.7h0M990.1 363.2h0M990.6 366.0h0M990.3 367.8h0M990.1 370.2h0M989.4 373.1h0M993.0 354.9h0M993.2 357.6h0M993.3 359.7h0M992.9 362.5h0M992.7 365.0h0M992.9 367.7h0M992.1 370.5h0M992.4 373.4h0M996.2 340.6h0M996.2 340.7h0M996.2 351.3h0M995.9 353.3h0M996.3 355.5h0M995.8 357.6h0M996.4 359.8h0M995.8 361.7h0M995.9 364.2h0M995.5 366.7h0M996.6 368.6h0M996.5 371.6h0M994.6 357.6h0M995.3 359.4h0M994.5 361.2h0M993.6 363.9h0M994.8 366.1h0M994.8 368.4h0M994.2 371.3h0M995.1 373.3h0M997.7 357.4h0M997.9 359.5h0M997.2 361.5h0M998.2 363.8h0M998.3 365.8h0M997.6 368.0h0M998.3 370.2h0M997.7 372.1h0M999.6 355.3h0M1011.3 341.7h0M1012.0 355.8h0M1011.7 358.4h0M1012.6 360.6h0M1011.8 362.9h0M1011.7 365.3h0M1012.1 367.8h0M1010.7 369.9h0M1012.4 372.6h0M1010.5 361.7h0M1010.8 363.9h0M1011.0 366.2h0M1011.3 369.0h0M1010.1 371.1h0M1010.4 373.3h0M1013.9 364.8h0M1013.9 367.8h0M1013.6 370.6h0M1013.3 372.9h0M1018.1 352.4h0M1017.8 354.4h0M1018.0 357.1h0M1018.1 359.4h0M1017.7 362.1h0M1018.6 364.0h0M1018.0 366.7h0M1018.0 368.7h0M1018.4 370.6h0M1017.6 373.2h0M1016.4 362.3h0M1016.4 364.8h0M1015.8 367.2h0M1016.3 370.0h0M1016.2 372.2h0M1030.0 350.2h0M1029.9 352.1h0M1030.2 354.2h0M1030.2 356.1h0M1029.9 358.6h0M1030.2 360.4h0M1029.8 362.4h0M1029.9 364.7h0M1028.8 366.9h0M1029.9 369.8h0M1030.2 372.3h0M1030.2 354.1h0M1030.2 356.7h0M1030.2 358.7h0M1030.2 361.3h0M1030.2 363.5h0M1030.2 365.5h0M1030.2 367.5h0M1030.2 369.4h0M1030.2 371.8h0"/>
</g>
<g fill="#104e8b" stroke="#104e8b">
<path stroke="none" d="M1032.2 373.0V438.8Q1032.2 441.6 1035.0 441.6H1111.1V373.0Z"/>
<path fill="none" stroke-width="5.6" stroke-linecap="round" d="M1034.4 370.9h0M1034.2 373.0h0M1036.4 370.8h0M1036.5 373.0h0M1038.4 368.1h0M1037.6 370.2h0M1038.5 372.3h0M1040.0 370.1h0M1039.8 372.7h0M1041.8 370.6h0M1042.0 373.2h0M1043.8 370.3h0M1043.0 373.4h0M1045.9 370.8h0M1046.5 373.4h0M1047.4 370.0h0M1047.0 372.6h0M1049.1 370.1h0M1047.9 372.7h0M1050.8 370.0h0M1051.1 372.8h0M1052.8 370.9h0M1052.8 373.3h0M1055.1 369.4h0M1054.6 372.4h0M1057.5 370.5h0M1057.3 373.2h0M1059.3 370.4h0M1059.5 373.3h0M1061.2 370.1h0M1061.5 372.7h0M1062.9 369.5h0M1062.8 372.7h0M1064.7 369.7h0M1064.7 372.3h0M1067.1 370.4h0M1066.9 373.7h0M1068.7 369.4h0M1068.9 372.5h0M1070.4 371.0h0M1070.5 373.6h0M1072.0 370.5h0M1071.9 373.2h0M1074.0 369.0h0M1074.5 372.2h0M1075.9 370.7h0M1075.7 372.8h0M1077.6 370.5h0M1077.5 373.2h0M1079.6 369.7h0M1079.9 372.2h0M1081.4 370.6h0M1080.6 373.4h0M1083.5 370.7h0M1083.8 373.7h0M1085.2 369.1h0M1086.3 371.8h0M1086.8 370.5h0M1086.4 373.4h0M1088.8 368.7h0M1089.0 370.9h0M1089.8 373.9h0M1090.4 370.9h0M1090.9 373.1h0M1092.1 370.8h0M1092.2 373.1h0M1094.4 370.6h0M1093.6 373.0h0M1096.8 370.7h0M1096.7 373.6h0M1098.6 370.9h0M1098.3 373.5h0M1100.1 370.7h0M1100.2 372.8h0M1101.7 369.6h0M1100.9 372.4h0M1104.0 370.3h0M1103.4 373.0h0M1037.6 362.8h0M1037.4 369.3h0M1046.5 369.0h0M1047.2 371.3h0M1047.8 359.8h0M1066.1 363.4h0M1066.6 366.5h0M1066.3 369.7h0M1065.8 372.8h0M1068.8 353.6h0M1068.5 356.7h0M1068.6 359.0h0M1070.7 361.2h0M1068.6 367.1h0M1068.1 369.2h0M1068.6 372.6h0M1070.7 363.5h0M1070.2 365.5h0M1071.2 368.5h0M1070.7 371.5h0M1073.1 367.0h0M1073.5 370.2h0M1077.2 367.4h0M1077.2 370.8h0M1076.7 358.5h0M1081.2 367.8h0M1081.6 373.8h0M1083.9 362.3h0M1083.7 368.4h0M1083.4 370.9h0M1086.7 341.6h0M1087.6 344.5h0M1087.0 347.4h0M1087.0 349.7h0M1087.7 355.0h0M1087.3 358.1h0M1085.7 361.2h0M1085.0 364.3h0M1087.8 367.5h0M1088.6 350.5h0M1089.3 353.7h0M1087.9 357.0h0M1087.8 359.6h0M1089.7 362.9h0M1089.8 366.1h0M1089.0 369.5h0M1088.2 373.1h0M1094.5 366.0h0M1095.1 369.3h0M1093.8 372.1h0M1099.7 367.6h0M1100.3 370.4h0M1099.4 373.1h0M1103.7 367.3h0M1104.1 370.6h0M1039.1 338.9h0M1038.9 341.8h0M1038.7 343.9h0M1038.9 346.3h0M1039.6 348.6h0M1039.2 351.4h0M1038.4 354.4h0M1038.9 357.3h0M1039.9 360.1h0M1039.2 362.9h0M1039.0 365.8h0M1039.3 368.4h0M1039.7 371.2h0M1039.7 373.7h0M1046.9 331.6h0M1046.9 343.4h0M1046.7 346.2h0M1046.8 348.7h0M1046.6 350.7h0M1046.4 352.6h0M1047.5 355.2h0M1046.9 358.0h0M1047.3 360.8h0M1047.6 362.8h0M1046.4 365.0h0M1047.5 367.8h0M1046.7 370.5h0M1047.1 372.4h0M1048.6 356.8h0M1048.7 359.3h0M1049.0 362.0h0M1048.8 364.8h0M1049.4 367.3h0M1048.2 369.7h0M1049.1 372.2h0M1057.1 361.5h0M1057.5 364.4h0M1056.6 366.9h0M1056.5 369.7h0M1056.7 372.0h0M1058.1 373.9h0M1055.1 367.4h0M1055.3 370.1h0M1054.7 372.3h0M1059.3 365.6h0M1058.9 368.5h0M1059.5 371.0h0M1059.7 373.8h0M1065.0 345.0h0M1065.2 347.0h0M1065.7 349.4h0M1065.1 351.5h0M1065.2 354.3h0M1065.3 357.1h0M1064.3 359.0h0M1064.8 360.9h0M1064.4 363.7h0M1064.4 366.4h0M1065.3 369.3h0M1064.6 371.2h0M1064.6 373.6h0M1063.6 349.8h0M1064.2 352.2h0M1063.9 355.0h0M1063.1 357.9h0M1063.2 360.1h0M1064.0 362.5h0M1064.1 364.4h0M1064.0 366.5h0M1063.4 368.9h0M1064.0 371.1h0M1066.7 358.7h0M1066.8 361.3h0M1067.0 363.5h0M1066.6 365.8h0M1066.3 368.7h0M1066.7 371.2h0M1070.2 351.9h0M1080.8 352.3h0M1085.8 351.3h0M1085.0 354.1h0M1086.2 357.1h0M1085.2 359.3h0M1086.6 361.6h0M1085.5 363.5h0M1086.4 365.5h0M1086.1 368.0h0M1086.0 370.6h0M1085.5 372.5h0M1084.0 363.1h0M1082.7 365.5h0M1083.6 367.9h0M1084.6 370.8h0M1083.3 373.2h0M1087.5 359.4h0M1087.6 362.1h0M1087.6 364.7h0M1087.3 366.7h0M1087.2 368.5h0M1087.5 371.2h0M1087.4 373.9h0M1098.4 328.2h0M1098.8 364.3h0M1105.6 355.3h0M1092.3 30.2h0M1092.3 34.6h0M1092.3 82.4h0M1092.3 219.1h0M1092.2 221.0h0M1092.4 222.8h0M1092.3 225.0h0M1092.4 227.0h0M1092.1 229.6h0M1092.1 231.6h0M1092.0 233.2h0M1092.1 235.5h0M1092.4 237.4h0M1092.5 239.5h0M1092.3 241.1h0M1092.2 243.0h0M1092.3 243.6h0M1092.3 254.5h0M1092.3 283.4h0M1092.3 300.3h0M1092.3 305.4h0M1092.3 312.4h0M1092.3 327.4h0M1099.0 328.0h0M1092.3 335.8h0M1092.1 337.7h0M1092.5 339.6h0M1092.4 341.7h0M1092.8 343.6h0M1091.9 345.1h0M1092.1 347.5h0M1092.5 349.8h0M1092.1 352.0h0M1092.8 353.6h0M1092.2 355.8h0M1092.2 357.9h0M1092.3 360.2h0M1092.9 361.8h0M1092.2 363.8h0M1092.0 365.9h0M1092.1 368.1h0M1091.7 369.8h0M1092.2 371.9h0"/>
</g>
<g fill="#4876ff" stroke="#4876ff">
<path stroke="none" d="M1107.6 373.0V438.8Q1107.6 441.6 1110.4 441.6H1183.3V373.0Z"/>
<path fill="none" stroke-width="5.6" stroke-linecap="round" d="M1109.8 370.2h0M1110.1 373.5h0M1111.4 370.4h0M1111.4 373.0h0M1113.4 370.9h0M1112.9 372.9h0M1115.5 370.1h0M1115.8 372.9h0M1117.3 367.6h0M1118.6 370.7h0M1117.4 372.7h0M1118.9 368.8h0M1117.8 370.9h0M1118.8 373.1h0M1121.3 370.4h0M1121.4 372.5h0M1123.5 370.8h0M1123.4 373.1h0M1125.4 369.4h0M1126.0 372.6h0M1127.5 370.3h0M1127.5 373.5h0M1129.6 370.7h0M1129.8 373.7h0M1131.3 370.8h0M1131.3 373.4h0M1133.7 368.6h0M1133.0 371.8h0M1136.1 366.9h0M1136.7 369.0h0M1135.7 371.7h0M1138.2 369.7h0M1138.0 372.7h0M1140.2 370.6h0M1140.1 373.8h0M1142.6 370.9h0M1143.0 373.8h0M1144.7 370.9h0M1144.5 373.7h0M1146.3 369.5h0M1145.8 372.4h0M1148.6 370.7h0M1147.6 373.2h0M1150.1 369.8h0M1148.9 371.8h0M1152.2 369.3h0M1152.1 371.5h0M1154.1 370.7h0M1154.9 373.9h0M1156.0 368.8h0M1155.5 371.5h0M1158.1 370.8h0M1158.1 373.3h0M1160.3 369.2h0M1160.1 371.9h0M1160.3 373.9h0M1161.8 371.0h0M1161.6 373.3h0M1164.0 370.2h0M1164.0 372.2h0M1165.8 369.5h0M1166.7 372.2h0M1167.4 370.2h0M1168.2 372.6h0M1169.5 371.0h0M1171.9 370.4h0M1172.1 372.5h0M1174.0 369.7h0M1173.5 372.1h0M1176.2 367.9h0M1176.2 371.2h0M1176.4 373.8h0M1177.8 370.0h0M1177.8 372.3h0M1113.0 369.1h0M1113.5 372.2h0M1112.2 360.4h0M1117.5 355.8h0M1118.9 359.1h0M1118.2 361.7h0M1117.5 365.2h0M1117.9 368.5h0M1116.5 371.6h0M1120.2 364.8h0M1121.2 367.6h0M1120.6 369.8h0M1118.9 371.9h0M1119.9 358.9h0M1124.3 360.5h0M1125.2 363.9h0M1123.9 366.7h0M1124.9 371.5h0M1122.4 363.1h0M1122.4 365.4h0M1121.8 368.7h0M1123.0 371.7h0M1129.3 359.5h0M1129.6 362.2h0M1129.5 365.5h0M1129.6 367.9h0M1130.2 370.5h0M1129.1 373.1h0M1135.4 361.1h0M1134.6 363.3h0M1135.8 366.6h0M1136.1 369.2h0M1135.2 371.9h0M1135.2 353.2h0M1139.8 363.9h0M1140.0 367.5h0M1139.5 369.8h0M1139.1 372.4h0M1142.5 363.7h0M1141.6 366.1h0M1142.8 369.6h0M1143.3 372.6h0M1146.1 352.6h0M1146.7 355.5h0M1145.7 357.5h0M1146.8 360.5h0M1145.4 364.0h0M1146.8 366.9h0M1146.7 370.4h0M1146.4 373.9h0M1149.2 364.5h0M1150.3 367.9h0M1149.1 370.7h0M1149.4 373.4h0M1155.9 364.8h0M1155.6 368.0h0M1156.4 371.0h0M1155.5 373.6h0M1161.6 367.9h0M1161.5 370.4h0M1162.4 373.8h0M1165.9 360.5h0M1167.0 362.9h0M1165.3 365.0h0M1165.7 370.8h0M1166.2 373.7h0M1172.3 359.1h0M1172.2 362.4h0M1172.1 364.6h0M1172.8 367.6h0M1172.2 370.4h0M1172.3 374.0h0M1174.2 364.7h0M1175.1 366.8h0M1173.9 369.8h0M1175.1 372.7h0M1175.7 354.3h0M1176.1 357.3h0M1175.2 359.9h0M1175.6 362.5h0M1174.6 368.6h0M1176.7 370.7h0M1109.7 337.2h0M1109.7 337.3h0M1113.5 347.4h0M1120.9 346.9h0M1132.7 336.6h0M1133.0 339.5h0M1132.6 342.3h0M1132.0 344.9h0M1132.7 346.8h0M1132.6 348.6h0M1132.5 350.7h0M1133.4 353.3h0M1132.8 355.4h0M1132.7 357.8h0M1133.2 360.6h0M1133.1 362.7h0M1133.4 365.2h0M1132.8 367.7h0M1132.8 370.0h0M1132.9 372.3h0M1131.0 352.1h0M1131.5 354.7h0M1131.2 357.0h0M1131.0 358.8h0M1130.6 361.1h0M1131.1 363.6h0M1130.4 366.2h0M1131.1 369.1h0M1131.0 370.9h0M1131.2 373.4h0M1134.4 343.0h0M1134.0 345.6h0M1134.6 348.4h0M1134.7 351.0h0M1134.3 353.1h0M1133.9 356.1h0M1134.0 358.4h0M1134.4 361.3h0M1135.3 363.3h0M1135.1 366.3h0M1134.6 368.5h0M1134.8 370.6h0M1134.1 372.9h0M1134.9 344.5h0M1134.6 346.8h0M1134.6 349.4h0M1135.1 351.7h0M1134.0 354.1h0M1133.5 356.4h0M1135.3 358.8h0M1135.6 361.6h0M1134.9 364.0h0M1135.2 366.2h0M1135.2 368.3h0M1134.6 371.2h0M1133.6 356.1h0M1134.0 359.1h0M1133.4 361.7h0M1133.2 363.6h0M1133.4 365.5h0M1133.8 367.3h0M1133.0 370.1h0M1133.9 373.1h0M1136.5 355.9h0M1136.8 357.8h0M1136.3 359.8h0M1136.9 362.5h0M1136.7 364.5h0M1136.3 366.3h0M1136.5 368.8h0M1136.8 371.3h0M1136.9 373.4h0M1143.5 327.1h0M1145.1 335.5h0M1145.8 338.4h0M1144.7 340.5h0M1145.4 342.6h0M1144.9 344.8h0M1145.1 347.2h0M1145.5 349.4h0M1145.1 351.3h0M1144.4 353.8h0M1144.4 356.3h0M1144.9 358.4h0M1145.4 361.1h0M1144.4 363.5h0M1145.5 366.2h0M1145.2 368.5h0M1145.3 370.8h0M1145.1 372.9h0M1143.5 347.8h0M1143.9 350.8h0M1143.3 353.0h0M1143.4 355.7h0M1143.8 358.2h0M1142.7 360.2h0M1143.4 362.4h0M1143.3 364.2h0M1143.6 366.8h0M1144.1 368.7h0M1143.9 371.6h0M1146.7 345.8h0M1147.0 348.0h0M1146.5 350.8h0M1146.6 353.1h0M1146.7 355.1h0M1146.5 357.7h0M1146.9 359.8h0M1146.5 361.7h0M1146.8 364.3h0M1146.9 367.1h0M1147.0 369.9h0M1145.9 372.6h0M1148.5 335.5h0M1148.6 338.4h0M1149.4 341.2h0M1147.7 344.1h0M1149.3 346.6h0M1148.7 348.8h0M1149.0 351.6h0M1148.5 354.2h0M1148.5 357.2h0M1149.0 359.8h0M1149.0 362.5h0M1149.1 364.3h0M1149.3 366.9h0M1148.4 369.8h0M1148.7 372.5h0M1146.5 346.1h0M1146.8 349.0h0M1145.6 350.9h0M1145.6 353.0h0M1146.9 354.9h0M1147.2 357.6h0M1146.7 359.5h0M1147.2 361.6h0M1147.0 364.2h0M1145.1 366.2h0M1146.6 369.0h0M1147.1 371.1h0M1146.4 373.0h0M1164.7 337.2h0M1164.7 347.9h0M1164.8 350.2h0M1165.2 352.8h0M1164.9 355.6h0M1164.5 358.1h0M1165.0 360.7h0M1163.8 363.5h0M1165.4 365.7h0M1164.9 367.6h0M1165.4 370.1h0M1164.5 372.7h0M1167.1 360.1h0M1166.7 362.0h0M1167.0 364.6h0M1167.9 367.1h0M1166.7 369.9h0M1167.1 372.4h0M1173.3 351.3h0M1173.4 353.3h0M1172.9 355.7h0M1173.8 358.4h0M1172.8 361.3h0M1172.8 363.3h0M1173.9 365.4h0M1173.6 368.0h0M1172.8 370.9h0M1173.3 373.4h0M1175.0 359.4h0M1175.0 362.2h0M1174.8 365.2h0M1175.1 367.0h0M1175.2 369.7h0M1174.3 372.0h0M1147.4 302.4h0M1147.4 304.0h0M1147.6 305.9h0M1147.5 308.4h0M1147.5 310.5h0M1147.2 312.7h0M1147.6 314.5h0M1147.6 316.4h0M1147.4 317.7h0M1143.5 327.0h0"/>
</g>
<g fill="#104e8b" stroke="#104e8b">
<path stroke="none" d="M1179.8 373.0V438.8Q1179.8 441.6 1182.6 441.6H1253.2V373.0Z"/>
<path fill="none" stroke-width="5.6" stroke-linecap="round" d="M1182.0 369.2h0M1182.8 372.5h0M1184.1 370.1h0M1186.0 373.5h0M1185.8 367.6h0M1186.5 370.4h0M1186.6 373.1h0M1187.3 370.7h0M1186.9 373.5h0M1189.1 370.5h0M1189.3 373.2h0M1191.3 370.7h0M1191.0 372.9h0M1193.4 369.7h0M1193.3 372.2h0M1195.1 370.2h0M1195.1 372.6h0M1197.5 368.5h0M1198.1 371.1h0M1198.0 373.4h0M1199.3 370.4h0M1199.6 373.4h0M1201.2 369.6h0M1201.0 372.1h0M1203.4 368.4h0M1202.9 371.2h0M1203.5 373.4h0M1205.0 370.6h0M1205.5 373.4h0M1206.6 370.1h0M1206.8 372.5h0M1208.9 369.7h0M1208.5 372.1h0M1210.8 369.7h0M1210.3 372.7h0M1212.6 369.1h0M1212.4 372.0h0M1214.7 370.8h0M1215.5 373.6h0M1216.9 370.9h0M1217.2 373.9h0M1219.1 370.7h0M1218.9 373.8h0M1221.2 369.6h0M1220.7 372.8h0M1222.8 369.5h0M1223.7 372.4h0M1224.5 367.7h0M1224.2 369.8h0M1224.6 372.2h0M1226.1 370.4h0M1226.5 373.7h0M1227.7 369.8h0M1227.4 372.9h0M1229.2 368.9h0M1229.2 372.2h0M1231.4 370.5h0M1231.0 373.3h0M1233.7 370.0h0M1233.7 373.0h0M1235.7 370.7h0M1235.8 373.9h0M1237.4 369.5h0M1237.1 372.6h0M1239.2 370.8h0M1239.2 372.9h0M1240.8 370.7h0M1239.9 372.8h0M1242.3 370.0h0M1241.6 372.7h0M1244.4 369.4h0M1244.4 372.0h0M1246.6 365.0h0M1246.4 367.3h0M1246.1 370.6h0M1245.8 373.6h0M1185.0 365.1h0M1184.1 368.6h0M1184.7 371.8h0M1188.8 363.8h0M1188.8 367.4h0M1188.0 372.9h0M1190.1 354.0h0M1194.9 355.2h0M1195.9 358.5h0M1194.1 361.0h0M1194.4 363.8h0M1194.2 366.3h0M1194.9 368.4h0M1194.5 374.0h0M1198.0 363.5h0M1197.8 366.2h0M1197.4 368.4h0M1198.5 371.6h0M1206.8 355.1h0M1207.4 357.8h0M1206.3 360.5h0M1207.0 367.5h0M1206.2 373.6h0M1215.5 363.4h0M1214.7 369.7h0M1216.2 373.0h0M1219.0 358.5h0M1218.4 360.9h0M1219.0 363.3h0M1219.8 365.6h0M1218.8 369.2h0M1219.1 371.8h0M1221.7 366.2h0M1221.4 371.8h0M1221.6 357.2h0M1229.7 362.2h0M1229.1 365.2h0M1229.9 368.3h0M1228.1 370.3h0M1229.3 372.5h0M1240.3 348.1h0M1240.4 351.1h0M1240.1 357.4h0M1239.9 363.0h0M1240.8 366.3h0M1240.4 368.9h0M1241.3 372.2h0M1181.8 354.1h0M1183.9 331.5h0M1183.9 333.9h0M1185.7 356.3h0M1185.5 358.9h0M1185.1 361.8h0M1185.2 364.6h0M1186.0 367.5h0M1185.9 370.0h0M1185.7 372.3h0M1184.0 364.9h0M1184.8 366.8h0M1183.6 369.6h0M1184.1 372.6h0M1187.6 362.1h0M1186.9 364.7h0M1187.5 366.9h0M1187.7 369.8h0M1187.0 371.6h0M1194.7 332.7h0M1194.7 331.6h0M1198.1 342.3h0M1197.7 344.3h0M1199.4 347.0h0M1198.3 349.7h0M1198.4 352.5h0M1198.9 355.0h0M1198.1 357.0h0M1198.7 358.9h0M1199.4 360.9h0M1197.5 363.5h0M1198.3 366.4h0M1197.8 368.9h0M1198.6 371.1h0M1199.1 373.4h0M1200.2 352.8h0M1200.4 355.1h0M1200.2 356.9h0M1200.2 359.3h0M1200.5 362.3h0M1200.4 364.3h0M1201.1 366.8h0M1200.2 368.6h0M1200.2 371.6h0M1199.7 373.7h0M1206.0 351.3h0M1206.2 353.2h0M1205.6 355.5h0M1206.2 358.1h0M1204.9 360.8h0M1206.0 363.7h0M1205.2 366.1h0M1206.2 368.1h0M1205.2 370.0h0M1206.3 372.6h0M1203.6 358.2h0M1204.1 360.4h0M1203.8 362.8h0M1203.7 365.2h0M1203.3 367.2h0M1203.5 369.6h0M1203.7 372.6h0M1212.8 352.4h0M1212.4 355.4h0M1212.7 357.3h0M1212.8 359.4h0M1213.2 361.8h0M1213.0 364.7h0M1212.2 367.1h0M1213.4 369.9h0M1212.5 372.5h0M1211.4 360.9h0M1211.0 363.6h0M1211.9 365.6h0M1211.6 368.4h0M1211.7 370.9h0M1211.4 372.9h0M1214.8 362.3h0M1214.8 365.0h0M1215.1 367.9h0M1214.8 370.6h0M1214.8 373.4h0M1221.1 333.3h0M1221.1 336.2h0M1220.6 338.0h0M1221.0 340.1h0M1221.6 342.3h0M1221.2 345.1h0M1221.1 347.1h0M1221.1 349.4h0M1220.7 352.1h0M1221.9 353.9h0M1221.3 356.5h0M1221.2 359.2h0M1221.1 362.1h0M1220.6 365.1h0M1220.7 367.1h0M1221.4 370.1h0M1220.4 372.5h0M1219.6 340.0h0M1219.2 343.0h0M1219.8 345.3h0M1219.6 347.6h0M1220.0 349.5h0M1219.3 351.5h0M1219.3 353.3h0M1219.6 355.4h0M1219.6 357.6h0M1219.4 360.0h0M1220.0 361.8h0M1219.5 364.5h0M1219.8 367.1h0M1220.2 369.8h0M1219.8 371.9h0M1228.6 356.9h0M1228.5 359.5h0M1228.4 362.4h0M1228.5 364.8h0M1229.0 367.3h0M1229.0 369.4h0M1228.8 372.3h0M1226.3 360.5h0M1226.2 362.6h0M1226.4 364.6h0M1226.3 366.6h0M1225.9 369.3h0M1226.0 372.2h0M1230.8 361.0h0M1230.5 363.0h0M1231.4 365.2h0M1231.2 367.7h0M1231.3 370.0h0M1230.9 372.3h0M1237.6 362.6h0M1237.2 365.4h0M1237.9 367.4h0M1237.4 369.2h0M1238.3 372.1h0M1235.9 365.0h0M1235.4 367.6h0M1235.3 369.7h0M1235.4 372.0h0M1221.0 287.4h0M1221.0 315.2h0M1220.8 317.0h0M1221.0 318.8h0M1245.2 320.3h0M1245.5 321.8h0M1245.0 323.9h0M1245.9 326.1h0M1245.3 327.6h0M1245.3 329.4h0M1245.0 331.2h0M1244.9 333.1h0M1245.3 335.3h0M1245.1 337.1h0M1245.6 338.9h0M1244.7 340.9h0M1244.8 342.7h0M1245.0 345.0h0M1245.2 346.8h0M1245.9 348.8h0M1245.6 350.8h0M1245.2 352.2h0M1244.7 353.7h0M1245.5 356.0h0M1245.0 358.3h0M1244.9 360.0h0M1244.9 361.6h0M1245.1 363.4h0M1245.3 365.7h0M1244.3 367.9h0M1245.7 369.9h0M1244.5 371.6h0M1244.8 373.1h0"/>
</g>
<g fill="#4876ff" stroke="#4876ff">
<path stroke="none" d="M1249.7 373.0V438.8Q1249.7 441.6 1252.5 441.6H1307.8V373.0Z"/>
<path fill="none" stroke-width="5.6" stroke-linecap="round" d="M1251.9 370.5h0M1252.0 373.7h0M1254.0 369.4h0M1254.2 372.3h0M1256.1 370.9h0M1258.3 371.0h0M1260.0 370.9h0M1260.3 373.3h0M1262.1 369.6h0M1261.8 372.9h0M1264.4 369.8h0M1264.3 372.9h0M1266.5 370.8h0M1266.8 373.7h0M1268.6 370.7h0M1268.2 373.4h0M1270.9 370.3h0M1271.0 373.2h0M1272.5 370.2h0M1271.6 372.7h0M1274.6 369.3h0M1274.1 372.7h0M1276.9 369.6h0M1276.9 371.9h0M1279.2 369.0h0M1279.8 372.1h0M1281.0 370.6h0M1279.7 373.2h0M1282.7 370.1h0M1282.8 372.6h0M1284.6 370.4h0M1284.7 373.3h0M1286.1 369.4h0M1286.1 371.7h0M1287.8 371.0h0M1289.3 370.2h0M1289.9 373.3h0M1290.8 370.8h0M1290.6 373.0h0M1292.6 370.9h0M1294.5 370.8h0M1294.0 373.1h0M1296.8 370.9h0M1297.2 373.1h0M1298.5 370.4h0M1298.8 372.7h0M1300.1 370.0h0M1300.1 372.9h0M1302.0 370.3h0M1301.0 372.6h0M1253.1 361.7h0M1252.6 364.4h0M1252.5 367.9h0M1253.7 370.2h0M1253.5 373.6h0M1255.9 356.3h0M1255.6 359.2h0M1256.4 361.9h0M1256.5 364.3h0M1256.7 367.0h0M1256.3 370.5h0M1254.6 372.8h0M1260.4 359.3h0M1261.2 364.3h0M1259.7 367.3h0M1261.7 369.9h0M1260.2 373.1h0M1264.6 365.3h0M1265.8 367.6h0M1265.6 369.7h0M1265.3 373.0h0M1264.8 359.4h0M1273.5 348.2h0M1274.1 350.9h0M1273.7 353.7h0M1273.6 356.8h0M1273.8 360.3h0M1273.7 362.8h0M1273.2 368.4h0M1273.7 371.2h0M1288.7 358.4h0M1288.8 360.6h0M1289.6 363.6h0M1288.0 366.8h0M1289.1 373.6h0M1287.9 350.5h0M1291.7 366.6h0M1292.6 373.4h0M1297.7 364.9h0M1297.1 367.2h0M1297.9 369.2h0M1271.4 343.4h0M1270.0 346.0h0M1270.8 348.5h0M1271.2 351.0h0M1270.6 353.7h0M1271.1 356.0h0M1270.8 358.5h0M1271.0 360.6h0M1271.5 363.5h0M1272.3 365.5h0M1272.3 367.5h0M1271.6 369.9h0M1271.2 372.8h0M1270.0 351.7h0M1269.5 353.8h0M1269.9 356.3h0M1270.7 359.0h0M1269.4 361.3h0M1270.5 363.6h0M1269.4 365.8h0M1270.5 368.7h0M1269.6 370.7h0M1269.8 372.7h0M1275.9 350.2h0M1276.1 352.9h0M1275.9 354.7h0M1276.1 357.1h0M1275.9 359.2h0M1276.1 361.8h0M1276.3 363.9h0M1275.5 365.7h0M1276.2 367.8h0M1274.8 370.2h0M1276.1 372.5h0M1278.0 360.3h0M1277.8 362.7h0M1277.6 365.1h0M1278.6 367.0h0M1277.8 369.3h0M1277.6 371.5h0M1287.9 350.2h0M1287.4 352.5h0M1287.6 354.5h0M1287.8 356.4h0M1288.0 358.6h0M1287.4 361.2h0M1287.9 363.2h0M1287.9 365.1h0M1288.0 367.3h0M1287.8 369.8h0M1287.9 372.4h0M1286.3 358.2h0M1286.4 360.2h0M1286.1 362.7h0M1287.1 365.0h0M1286.1 368.0h0M1287.2 370.5h0M1286.4 372.7h0M1289.5 356.1h0M1289.7 358.0h0M1289.7 360.8h0M1289.0 363.2h0M1289.5 365.9h0M1289.5 368.1h0M1290.6 370.3h0M1288.8 372.4h0M1293.5 354.1h0M1302.3 349.6h0M1302.3 333.4h0M1260.8 317.8h0M1261.0 320.2h0M1260.9 322.4h0M1260.9 324.2h0M1260.9 325.9h0M1260.7 328.2h0M1260.8 330.7h0M1261.2 333.0h0M1260.6 334.9h0M1260.8 336.8h0M1260.8 338.5h0M1260.4 340.5h0M1260.8 340.8h0"/>
</g>
<g fill="#104e8b" stroke="#104e8b">
<path stroke="none" d="M1304.3 373.0V438.8Q1304.3 441.6 1307.1 441.6H1354.7V373.0Z"/>
<path fill="none" stroke-width="5.6" stroke-linecap="round" d="M1306.5 369.5h0M1306.4 372.9h0M1308.8 367.6h0M1309.1 369.9h0M1309.5 372.0h0M1310.9 367.6h0M1310.9 369.9h0M1311.0 372.1h0M1312.8 370.1h0M1312.9 373.4h0M1315.1 370.2h0M1315.5 373.6h0M1317.4 370.3h0M1317.1 373.6h0M1319.0 367.6h0M1319.2 369.9h0M1318.6 372.1h0M1321.0 370.4h0M1321.2 373.5h0M1322.9 370.3h0M1323.7 372.6h0M1325.0 370.1h0M1325.4 372.2h0M1327.0 370.6h0M1327.1 374.0h0M1328.8 370.7h0M1329.5 373.3h0M1330.6 370.4h0M1331.7 373.3h0M1332.7 370.7h0M1332.8 373.8h0M1334.7 370.2h0M1334.5 373.1h0M1336.9 370.6h0M1338.8 370.9h0M1338.1 373.9h0M1340.4 369.6h0M1340.2 372.6h0M1342.7 370.6h0M1342.8 372.9h0M1345.1 366.7h0M1345.1 368.8h0M1345.3 372.0h0M1347.5 368.3h0M1347.6 371.3h0M1347.7 373.4h0M1349.0 370.6h0M1348.6 373.3h0M1307.2 363.4h0M1306.3 366.6h0M1306.6 368.8h0M1307.6 371.6h0M1311.8 364.8h0M1312.0 368.3h0M1311.5 370.9h0M1320.0 364.0h0M1319.2 366.5h0M1319.9 369.6h0M1320.4 372.0h0M1323.4 355.9h0M1323.5 361.3h0M1323.8 363.8h0M1322.8 369.6h0M1324.5 372.3h0M1326.6 351.4h0M1326.7 357.3h0M1326.0 360.7h0M1326.2 364.2h0M1327.3 366.4h0M1327.4 369.9h0M1327.5 372.8h0M1324.7 359.5h0M1324.9 362.2h0M1324.8 364.5h0M1324.7 367.7h0M1324.5 369.8h0M1325.3 372.5h0M1332.8 368.9h0M1332.2 371.4h0M1332.9 359.5h0M1345.4 361.8h0M1344.9 364.2h0M1345.4 367.5h0M1346.0 372.8h0M1318.4 349.0h0M1318.3 351.2h0M1318.4 353.8h0M1318.5 355.9h0M1318.3 357.8h0M1318.9 359.7h0M1317.7 362.3h0M1318.9 364.1h0M1317.4 366.0h0M1318.6 368.7h0M1318.6 371.7h0M1319.5 373.5h0M1316.7 354.6h0M1316.8 357.2h0M1317.0 359.7h0M1316.5 361.6h0M1316.8 364.5h0M1317.0 367.3h0M1317.0 369.6h0M1317.2 372.1h0M1324.4 327.6h0M1325.0 329.5h0M1324.8 331.4h0M1324.4 333.8h0M1325.1 335.7h0M1325.1 337.8h0M1324.1 340.2h0M1324.6 342.9h0M1324.9 345.5h0M1324.2 347.4h0M1324.4 349.6h0M1325.6 352.1h0M1324.4 354.9h0M1324.6 356.7h0M1324.1 359.4h0M1324.4 361.4h0M1324.2 364.3h0M1325.1 366.8h0M1324.5 369.3h0M1324.1 372.1h0M1325.7 348.6h0M1325.8 351.4h0M1325.7 354.2h0M1325.2 356.6h0M1325.5 359.1h0M1325.0 361.1h0M1325.3 363.2h0M1326.1 365.2h0M1326.0 367.3h0M1326.6 369.3h0M1325.6 371.4h0M1340.9 328.2h0M1340.9 333.8h0M1336.4 332.3h0M1340.9 356.9h0M1340.6 359.3h0M1340.8 361.5h0M1341.1 364.5h0M1340.9 367.3h0M1339.7 369.8h0M1341.2 372.8h0M1339.2 361.9h0M1339.6 364.0h0M1338.4 366.1h0M1338.8 368.4h0M1338.8 370.6h0M1338.9 373.0h0M1342.7 363.8h0M1342.5 365.7h0M1343.3 368.6h0M1343.0 371.1h0M1343.1 373.5h0M1348.8 346.2h0M1347.7 353.6h0M1348.1 356.1h0M1348.2 358.1h0M1348.1 361.0h0M1346.8 363.5h0M1347.0 365.6h0M1347.7 368.5h0M1347.6 371.2h0M1347.9 373.7h0M1346.6 360.2h0M1346.7 363.1h0M1346.9 365.5h0M1346.8 367.6h0M1346.6 370.6h0M1346.2 373.1h0M1309.5 64.5h0M1309.5 98.7h0M1309.5 106.2h0M1309.5 173.2h0M1309.5 188.2h0M1309.5 203.0h0M1309.5 205.4h0M1309.6 207.3h0M1309.5 209.4h0M1309.2 211.1h0M1309.6 213.4h0M1309.5 215.1h0M1309.5 217.2h0M1309.7 219.0h0M1309.5 221.0h0M1309.5 237.7h0M1310.0 239.5h0M1309.6 241.6h0M1309.7 243.8h0M1309.1 246.3h0M1309.5 248.3h0M1309.4 250.5h0M1309.5 252.8h0M1309.5 254.9h0M1309.5 257.1h0M1309.3 258.7h0M1309.7 260.7h0M1309.5 262.5h0M1309.6 264.8h0M1309.5 266.7h0M1309.5 266.8h0M1309.5 278.1h0M1309.6 280.5h0M1309.7 282.4h0M1309.4 284.5h0M1309.8 287.0h0M1309.5 288.7h0M1309.5 305.8h0M1309.4 307.9h0M1309.5 309.6h0M1309.5 322.3h0M1309.8 323.7h0M1309.3 325.2h0M1309.5 326.8h0M1308.7 328.8h0M1309.3 330.6h0M1309.4 332.3h0M1309.4 334.4h0M1309.3 336.0h0M1309.1 337.8h0M1310.0 340.0h0M1309.7 341.7h0M1309.5 344.1h0M1309.3 346.0h0M1309.8 348.4h0M1309.5 349.9h0M1309.4 351.4h0M1309.7 353.5h0M1309.5 355.0h0M1309.1 357.3h0M1309.3 359.3h0M1309.7 361.6h0M1309.3 363.8h0M1309.4 365.6h0M1309.4 367.0h0M1309.0 368.7h0M1309.9 370.9h0M1309.6 373.0h0M1341.2 315.3h0"/>
</g>
<g fill="#4876ff" stroke="#4876ff">
<path stroke="none" d="M1351.2 373.0V438.8Q1351.2 441.6 1354.0 441.6H1396.7V373.0Z"/>
<path fill="none" stroke-width="5.6" stroke-linecap="round" d="M1353.4 370.3h0M1353.2 372.7h0M1354.9 370.5h0M1354.3 372.7h0M1357.2 368.8h0M1357.3 371.4h0M1357.4 373.8h0M1358.8 369.3h0M1358.6 372.4h0M1360.4 369.2h0M1359.9 372.2h0M1362.4 368.1h0M1362.2 371.4h0M1361.8 373.9h0M1364.6 370.5h0M1364.5 373.0h0M1366.7 369.9h0M1366.0 372.8h0M1368.7 369.8h0M1368.6 372.8h0M1370.4 368.4h0M1369.7 371.7h0M1372.0 370.8h0M1371.4 373.5h0M1373.8 368.3h0M1374.0 371.5h0M1375.8 369.5h0M1375.8 372.7h0M1377.3 369.0h0M1376.7 372.3h0M1379.6 370.1h0M1380.1 373.4h0M1381.5 370.8h0M1381.9 373.5h0M1383.2 370.8h0M1382.7 373.2h0M1385.1 368.2h0M1385.2 370.5h0M1385.9 373.8h0M1386.9 370.5h0M1387.4 372.5h0M1388.6 369.4h0M1388.9 372.0h0M1390.7 369.6h0M1390.9 372.9h0M1354.4 367.1h0M1354.3 369.3h0M1354.5 371.7h0M1357.2 364.6h0M1356.5 366.9h0M1356.8 370.5h0M1357.9 373.5h0M1360.0 351.8h0M1359.3 354.7h0M1360.5 356.8h0M1358.3 359.8h0M1359.8 362.7h0M1360.5 365.6h0M1359.9 367.6h0M1359.7 370.3h0M1360.1 373.8h0M1367.5 364.6h0M1367.4 368.1h0M1367.2 371.2h0M1366.7 355.0h0M1373.4 363.2h0M1372.3 366.4h0M1372.6 369.7h0M1373.5 371.8h0M1382.6 342.4h0M1382.0 345.4h0M1382.7 348.3h0M1381.9 351.6h0M1382.9 354.8h0M1382.6 358.1h0M1382.6 363.5h0M1382.6 365.6h0M1382.0 369.0h0M1383.1 371.8h0M1380.7 348.2h0M1381.3 350.6h0M1381.5 353.0h0M1380.6 356.2h0M1380.5 359.8h0M1380.3 363.4h0M1382.3 366.8h0M1380.7 369.9h0M1380.2 372.2h0M1385.5 351.9h0M1385.6 354.4h0M1385.2 360.9h0M1385.6 364.5h0M1384.8 366.6h0M1384.6 369.8h0M1386.0 372.3h0M1389.8 366.9h0M1388.5 373.2h0M1357.8 351.3h0M1357.6 353.4h0M1357.9 356.0h0M1358.1 358.3h0M1357.8 360.8h0M1357.7 362.9h0M1358.4 365.4h0M1358.0 368.4h0M1358.3 370.9h0M1358.1 373.1h0M1356.1 361.0h0M1356.1 362.8h0M1356.5 364.9h0M1355.9 367.9h0M1356.2 369.9h0M1356.6 371.8h0M1360.2 360.1h0M1360.4 362.8h0M1359.7 365.4h0M1360.3 368.1h0M1360.3 370.2h0M1360.8 373.0h0M1365.7 357.5h0M1378.1 345.7h0M1377.9 347.7h0M1378.7 350.4h0M1378.4 352.6h0M1378.4 354.6h0M1377.5 356.5h0M1378.4 359.2h0M1378.1 361.8h0M1378.1 364.1h0M1377.8 366.3h0M1377.7 368.1h0M1378.6 370.7h0M1378.6 372.7h0M1376.8 350.6h0M1376.1 353.0h0M1376.6 355.8h0M1376.5 358.4h0M1377.0 360.4h0M1376.8 363.4h0M1376.7 365.4h0M1377.0 367.9h0M1377.1 370.2h0M1376.6 373.2h0M1379.9 360.6h0M1379.9 363.0h0M1381.0 365.7h0M1379.1 368.3h0M1380.1 370.4h0M1379.5 373.0h0M1391.2 336.8h0M1391.2 345.8h0M1386.0 361.5h0M1386.0 363.9h0M1386.0 366.3h0M1386.7 368.9h0M1386.2 371.6h0M1386.2 373.7h0M1384.7 364.3h0M1384.5 366.1h0M1384.4 369.0h0M1384.7 371.7h0M1388.0 366.2h0M1387.6 368.5h0M1388.0 371.0h0M1388.3 373.3h0"/>
</g>
<g fill="#104e8b" stroke="#104e8b">
<path stroke="none" d="M1393.2 373.0V438.8Q1393.2 441.6 1396.0 441.6H1441.3V373.0Z"/>
<path fill="none" stroke-width="5.6" stroke-linecap="round" d="M1395.4 370.5h0M1395.3 372.5h0M1397.0 369.8h0M1396.8 372.1h0M1398.5 370.2h0M1398.8 372.6h0M1400.8 370.9h0M1400.6 373.6h0M1402.6 370.8h0M1402.6 373.5h0M1404.4 370.7h0M1404.4 373.7h0M1406.5 370.1h0M1407.0 373.1h0M1408.5 370.9h0M1410.4 371.0h0M1410.2 374.0h0M1412.8 370.5h0M1413.7 373.1h0M1414.7 370.4h0M1414.0 373.5h0M1416.6 369.8h0M1416.3 372.6h0M1418.3 366.9h0M1418.2 368.9h0M1418.6 371.2h0M1420.1 370.9h0M1421.0 373.8h0M1422.2 369.7h0M1423.1 372.6h0M1423.8 370.5h0M1424.0 373.9h0M1426.1 369.1h0M1426.7 371.4h0M1425.4 373.6h0M1428.3 368.5h0M1428.6 371.8h0M1430.0 370.6h0M1430.1 373.7h0M1431.8 370.5h0M1432.5 373.4h0M1433.5 370.8h0M1433.5 373.6h0M1435.2 369.6h0M1434.7 372.5h0M1397.6 360.3h0M1397.3 363.7h0M1398.0 366.7h0M1397.1 370.3h0M1403.1 366.2h0M1403.1 371.9h0M1414.0 351.4h0M1413.5 357.2h0M1414.0 360.2h0M1413.8 366.8h0M1414.2 368.9h0M1412.2 372.2h0M1419.3 364.5h0M1418.3 367.1h0M1418.0 370.6h0M1418.2 372.8h0M1419.3 353.8h0M1433.1 366.0h0M1432.4 369.0h0M1433.6 372.1h0M1405.2 342.3h0M1404.9 344.2h0M1405.2 346.7h0M1405.2 348.9h0M1405.2 349.1h0M1405.2 361.5h0M1405.6 364.1h0M1405.2 366.0h0M1405.0 367.9h0M1405.2 369.7h0M1404.6 371.9h0M1419.9 351.3h0M1419.8 353.7h0M1420.0 355.5h0M1420.3 357.6h0M1419.6 360.6h0M1419.6 362.9h0M1420.5 365.2h0M1420.1 367.3h0M1420.2 369.4h0M1420.5 371.7h0M1417.9 357.9h0M1417.9 360.2h0M1418.9 362.2h0M1417.7 364.4h0M1417.5 366.5h0M1418.1 368.8h0M1416.9 371.1h0M1418.8 373.0h0M1421.8 360.9h0M1421.1 363.7h0M1421.5 365.7h0M1420.6 367.7h0M1422.1 369.7h0M1421.3 372.4h0M1426.2 325.4h0M1425.8 328.3h0M1426.7 330.7h0M1425.6 333.0h0M1426.4 335.6h0M1426.5 338.4h0M1425.8 340.3h0M1426.0 342.4h0M1426.6 344.4h0M1426.2 346.5h0M1425.9 349.0h0M1426.0 351.9h0M1426.5 353.7h0M1426.2 356.4h0M1425.4 358.3h0M1426.8 361.2h0M1426.7 363.5h0M1425.3 366.0h0M1426.4 368.2h0M1425.7 370.8h0M1426.2 373.8h0M1428.0 334.5h0M1428.1 336.4h0M1428.8 338.7h0M1428.1 340.6h0M1427.7 342.7h0M1427.3 344.6h0M1428.7 347.1h0M1427.6 349.5h0M1426.9 352.5h0M1427.8 355.0h0M1427.1 357.5h0M1427.6 359.9h0M1427.6 362.5h0M1428.1 364.7h0M1428.7 367.7h0M1428.2 369.7h0M1427.5 372.4h0M1424.4 341.2h0M1424.4 344.1h0M1424.4 346.1h0M1424.8 348.1h0M1424.8 351.0h0M1425.3 352.9h0M1424.0 354.8h0M1424.5 357.7h0M1424.6 359.9h0M1424.6 362.4h0M1423.6 364.9h0M1424.7 367.6h0M1424.5 369.7h0M1425.3 372.6h0M1425.9 351.0h0M1426.1 353.3h0M1425.8 355.4h0M1426.7 357.4h0M1425.6 360.1h0M1425.2 362.7h0M1425.6 364.7h0M1425.6 367.0h0M1426.4 369.0h0M1426.4 371.8h0M1428.0 341.2h0M1428.2 343.2h0M1428.0 345.8h0M1427.5 348.7h0M1428.5 350.7h0M1428.3 353.2h0M1428.3 355.9h0M1427.9 357.9h0M1428.0 360.7h0M1427.7 363.5h0M1428.0 365.7h0M1427.5 368.0h0M1427.4 369.9h0M1427.8 371.8h0M1427.7 374.0h0M1426.6 353.4h0M1427.1 355.4h0M1426.7 357.5h0M1426.6 359.8h0M1426.2 361.8h0M1426.5 363.8h0M1427.5 366.2h0M1426.9 368.8h0M1426.5 371.8h0M1427.0 373.7h0M1430.0 349.8h0M1430.4 352.3h0M1430.5 354.5h0M1429.6 356.8h0M1430.7 359.7h0M1430.0 362.2h0M1430.7 364.9h0M1429.6 367.4h0M1429.7 369.7h0M1429.7 372.0h0M1435.8 346.2h0M1433.4 355.8h0M1432.9 358.6h0M1433.6 360.8h0M1432.6 363.6h0M1433.3 366.4h0M1433.3 368.3h0M1433.2 370.6h0M1434.3 372.6h0M1431.9 362.0h0M1431.6 364.2h0M1432.7 366.3h0M1431.8 369.0h0M1432.4 371.2h0M1434.7 365.2h0M1434.6 368.1h0M1435.0 370.5h0M1434.0 372.8h0"/>
</g>
<g fill="#4876ff" stroke="#4876ff">
<path stroke="none" d="M1437.8 373.0V438.8Q1437.8 441.6 1440.6 441.6H1480.2V373.0Z"/>
<path fill="none" stroke-width="5.6" stroke-linecap="round" d="M1440.0 370.3h0M1440.1 373.6h0M1441.6 370.3h0M1441.6 373.2h0M1443.6 369.8h0M1443.1 372.3h0M1445.4 368.2h0M1445.2 371.1h0M1445.7 373.8h0M1447.2 370.2h0M1446.3 372.7h0M1449.5 370.9h0M1449.8 373.4h0M1451.1 370.8h0M1450.7 373.5h0M1453.3 368.7h0M1453.9 371.9h0M1454.7 373.9h0M1455.1 371.0h0M1456.4 373.3h0M1457.5 369.7h0M1457.4 371.7h0M1459.2 370.7h0M1459.3 373.7h0M1461.0 370.6h0M1461.4 372.8h0M1462.8 370.9h0M1464.6 370.5h0M1464.7 372.6h0M1466.4 368.6h0M1466.1 371.8h0M1468.4 370.9h0M1470.6 370.7h0M1470.9 373.9h0M1472.6 370.7h0M1473.1 373.5h0M1474.1 370.9h0M1473.6 374.0h0M1441.2 364.8h0M1441.4 368.0h0M1441.1 370.7h0M1442.6 373.7h0M1446.0 356.6h0M1445.7 359.1h0M1446.7 361.3h0M1445.2 367.5h0M1445.8 370.6h0M1446.5 373.7h0M1452.9 360.7h0M1453.5 362.8h0M1452.5 366.4h0M1454.2 369.4h0M1452.2 372.8h0M1454.8 364.9h0M1455.0 368.0h0M1454.5 370.5h0M1454.6 372.9h0M1456.5 358.2h0M1457.2 361.2h0M1456.5 364.8h0M1455.4 366.8h0M1456.5 370.0h0M1457.2 373.4h0M1458.4 361.9h0M1458.0 364.2h0M1458.1 367.5h0M1458.5 370.8h0M1458.4 373.4h0M1461.1 361.6h0M1461.2 367.6h0M1461.7 370.3h0M1460.6 373.5h0M1444.2 328.9h0M1444.2 337.8h0M1444.3 340.3h0M1443.7 342.1h0M1444.4 343.7h0M1444.2 345.7h0M1457.8 331.7h0M1457.1 334.2h0M1458.2 336.7h0M1458.0 338.7h0M1457.8 341.1h0M1457.8 342.3h0M1457.1 356.0h0M1466.1 352.4h0M1466.6 354.6h0M1466.7 356.9h0M1465.7 359.8h0M1465.5 361.6h0M1467.3 364.6h0M1466.3 367.5h0M1466.6 370.5h0M1465.6 372.7h0M1464.8 360.6h0M1464.5 362.5h0M1464.2 365.0h0M1463.5 367.8h0M1465.0 370.3h0M1464.7 372.2h0M1467.9 362.5h0M1468.0 365.1h0M1467.5 368.0h0M1467.8 370.2h0M1468.5 373.1h0M1474.7 332.0h0M1474.0 349.0h0M1474.4 352.0h0M1474.2 354.1h0M1473.5 357.0h0M1474.1 359.7h0M1474.1 362.7h0M1474.5 365.3h0M1474.7 367.7h0M1473.8 370.3h0M1473.9 372.2h0M1472.4 353.3h0M1472.6 356.3h0M1472.4 359.2h0M1472.4 362.1h0M1472.9 364.5h0M1472.5 366.6h0M1472.7 369.4h0M1472.8 371.7h0M1474.7 359.1h0M1474.7 361.0h0M1474.7 363.1h0M1474.7 364.9h0M1474.7 367.6h0M1474.0 370.5h0M1474.7 373.5h0"/>
</g>
<g fill="#104e8b" stroke="#104e8b">
<path stroke="none" d="M1476.7 373.0V438.8Q1476.7 441.6 1479.5 441.6H1522.6V373.0Z"/>
<path fill="none" stroke-width="5.6" stroke-linecap="round" d="M1478.9 370.7h0M1478.8 373.6h0M1481.3 370.5h0M1481.8 373.2h0M1483.6 370.9h0M1485.3 370.7h0M1484.5 372.8h0M1487.1 369.6h0M1488.1 372.0h0M1489.4 369.1h0M1489.6 371.1h0M1491.5 370.9h0M1490.6 373.8h0M1493.4 369.5h0M1492.9 371.8h0M1495.8 368.8h0M1496.3 371.2h0M1495.2 373.8h0M1497.6 368.3h0M1497.5 370.9h0M1499.9 370.3h0M1500.0 373.6h0M1502.3 370.6h0M1502.3 373.1h0M1504.6 370.2h0M1503.7 373.0h0M1506.6 370.4h0M1506.0 372.9h0M1508.7 370.3h0M1508.6 372.4h0M1510.3 370.5h0M1510.2 372.8h0M1512.2 370.9h0M1512.2 373.2h0M1514.1 370.8h0M1513.9 373.8h0M1515.9 371.0h0M1516.5 373.2h0M1479.8 368.1h0M1479.5 371.5h0M1479.6 374.0h0M1494.4 367.5h0M1495.1 369.9h0M1493.4 372.8h0M1503.7 367.0h0M1503.9 369.6h0M1504.1 372.0h0M1507.6 368.4h0M1507.4 371.3h0M1507.7 373.9h0M1511.2 361.7h0M1510.9 364.3h0M1511.3 367.6h0M1510.9 370.0h0M1511.0 373.0h0M1513.9 349.2h0M1514.0 351.3h0M1514.2 354.5h0M1515.4 357.2h0M1514.1 359.9h0M1513.9 362.8h0M1513.9 366.4h0M1514.3 369.3h0M1514.1 371.8h0M1485.3 344.5h0M1485.6 346.2h0M1485.3 348.0h0M1500.0 333.8h0M1498.8 345.7h0M1498.8 347.9h0M1498.7 350.6h0M1498.7 352.7h0M1498.2 355.4h0M1499.5 357.3h0M1498.9 360.1h0M1499.3 362.7h0M1499.4 364.9h0M1498.2 367.8h0M1498.7 369.8h0M1498.9 372.0h0M1496.8 354.1h0M1496.6 355.9h0M1496.9 357.7h0M1496.3 359.7h0M1496.2 362.0h0M1496.7 364.7h0M1496.5 366.6h0M1496.6 368.8h0M1496.2 371.6h0M1500.2 356.3h0M1500.3 358.7h0M1500.4 360.5h0M1500.1 362.7h0M1500.3 365.5h0M1500.1 368.0h0M1501.0 370.1h0M1500.6 372.7h0M1510.6 345.1h0M1510.6 347.4h0M1516.2 352.4h0M1515.4 354.9h0M1516.4 357.9h0M1516.3 360.1h0M1515.6 362.2h0M1515.9 365.1h0M1515.3 367.0h0M1516.4 369.4h0M1516.0 371.3h0M1516.3 373.1h0M1514.1 358.6h0M1514.7 361.1h0M1513.6 364.1h0M1513.8 366.8h0M1514.1 369.0h0M1514.6 371.5h0M1514.2 373.6h0M1517.1 360.1h0M1517.1 362.2h0M1517.1 364.8h0M1517.1 367.1h0M1517.1 369.1h0M1517.1 371.2h0M1497.8 315.4h0M1497.5 317.9h0M1498.1 320.4h0M1497.8 322.8h0M1497.9 324.9h0M1497.8 327.2h0M1500.2 333.6h0"/>
</g>
<g fill="#4876ff" stroke="#4876ff">
<path stroke="none" d="M1519.1 373.0V438.8Q1519.1 441.6 1521.9 441.6H1556.4V373.0Z"/>
<path fill="none" stroke-width="5.6" stroke-linecap="round" d="M1521.3 370.5h0M1521.6 373.9h0M1523.0 370.5h0M1522.3 373.2h0M1524.6 370.0h0M1524.7 373.1h0M1526.4 370.7h0M1526.6 373.6h0M1528.5 369.6h0M1528.7 372.4h0M1530.3 370.9h0M1532.2 369.2h0M1532.2 371.5h0M1534.3 370.2h0M1534.6 372.6h0M1536.1 369.5h0M1537.0 371.8h0M1537.6 369.3h0M1537.5 371.3h0M1539.5 370.5h0M1540.3 373.3h0M1541.1 370.7h0M1541.1 373.8h0M1542.7 369.4h0M1543.0 372.8h0M1544.2 370.9h0M1544.2 373.3h0M1546.4 370.8h0M1546.1 373.4h0M1548.0 370.6h0M1548.0 372.7h0M1550.4 370.4h0M1549.5 373.0h0M1524.8 366.7h0M1524.4 369.7h0M1523.9 372.2h0M1528.1 340.5h0M1528.1 343.1h0M1527.8 346.4h0M1527.1 349.6h0M1527.4 352.2h0M1528.3 355.1h0M1528.6 357.3h0M1528.6 359.6h0M1528.1 362.0h0M1527.6 364.1h0M1528.4 367.2h0M1527.9 369.7h0M1528.6 372.2h0M1532.0 365.6h0M1532.4 371.3h0M1533.7 358.0h0M1538.5 351.7h0M1538.7 354.1h0M1538.5 357.4h0M1538.5 360.3h0M1539.6 362.6h0M1537.9 365.1h0M1537.3 367.7h0M1539.5 369.7h0M1538.0 372.6h0M1544.7 346.9h0M1545.6 349.2h0M1545.0 352.5h0M1544.6 355.3h0M1544.0 358.1h0M1545.2 360.9h0M1544.8 364.1h0M1544.3 367.1h0M1544.6 370.3h0M1544.7 373.9h0M1542.8 351.8h0M1542.1 354.9h0M1542.7 357.1h0M1544.1 359.2h0M1541.8 362.5h0M1542.6 364.8h0M1542.6 367.3h0M1542.9 370.6h0M1542.8 373.8h0M1547.8 365.8h0M1548.1 369.0h0M1548.4 371.3h0M1548.3 373.5h0M1522.5 360.3h0M1522.2 362.5h0M1521.9 364.4h0M1522.5 367.1h0M1521.9 369.0h0M1522.3 371.0h0M1523.4 373.2h0M1523.6 364.2h0M1523.6 366.9h0M1522.8 369.6h0M1523.4 372.4h0M1525.9 351.9h0M1544.0 327.1h0M1544.0 347.4h0M1534.8 322.6h0M1534.5 324.3h0M1534.9 325.9h0M1534.5 328.1h0M1534.6 330.2h0M1534.3 331.7h0M1534.8 333.4h0M1535.1 335.2h0M1534.7 337.4h0M1534.9 339.6h0M1534.6 341.1h0M1534.6 343.3h0M1535.1 345.0h0M1535.2 347.4h0M1534.9 349.8h0M1534.7 351.7h0M1535.3 353.6h0M1534.9 355.5h0M1534.6 357.2h0M1534.6 358.7h0M1534.7 360.5h0M1534.8 362.7h0M1534.8 365.1h0M1535.1 367.2h0M1535.1 369.1h0M1534.8 371.4h0M1535.3 373.5h0M1536.3 328.8h0M1536.6 330.7h0M1536.5 332.2h0M1536.5 333.8h0M1536.6 336.0h0M1536.4 338.0h0M1536.4 339.4h0M1535.9 341.7h0M1536.1 343.4h0M1536.6 345.7h0M1536.2 347.4h0M1536.3 349.4h0M1536.4 351.3h0M1536.8 352.8h0M1536.7 355.0h0M1536.2 356.6h0M1535.9 358.8h0M1536.4 360.8h0M1536.2 362.3h0M1536.4 364.3h0M1536.5 366.5h0M1536.4 368.6h0M1536.7 370.0h0M1536.8 371.8h0M1535.9 373.3h0"/>
</g>
<g fill="#104e8b" stroke="#104e8b">
<path stroke="none" d="M1552.9 373.0V438.8Q1552.9 441.6 1555.7 441.6H1588.5V373.0Z"/>
<path fill="none" stroke-width="5.6" stroke-linecap="round" d="M1555.1 370.6h0M1555.4 372.7h0M1556.7 370.4h0M1556.2 372.6h0M1558.3 370.8h0M1557.1 373.0h0M1559.9 369.6h0M1560.1 372.6h0M1561.7 369.9h0M1561.2 372.6h0M1563.6 369.2h0M1563.5 372.0h0M1565.9 371.0h0M1566.4 373.5h0M1567.9 370.9h0M1568.2 373.8h0M1569.5 365.0h0M1569.8 367.1h0M1569.1 370.3h0M1568.4 373.2h0M1571.4 370.2h0M1571.7 372.7h0M1573.8 368.6h0M1574.4 371.5h0M1573.5 373.7h0M1576.0 370.5h0M1575.9 373.0h0M1577.9 370.9h0M1577.6 373.9h0M1579.6 370.8h0M1579.7 373.5h0M1581.4 370.4h0M1580.9 373.7h0M1558.5 369.3h0M1558.1 372.5h0M1561.7 344.1h0M1561.4 347.4h0M1561.7 349.8h0M1560.8 355.4h0M1560.9 357.4h0M1561.9 359.6h0M1561.4 362.4h0M1561.3 365.4h0M1561.6 367.5h0M1562.1 370.3h0M1561.4 372.3h0M1563.6 357.1h0M1563.9 359.7h0M1564.5 362.4h0M1563.4 365.1h0M1563.9 368.0h0M1563.5 371.2h0M1566.7 352.7h0M1567.0 356.2h0M1566.1 359.2h0M1566.5 361.5h0M1566.7 364.1h0M1567.1 366.3h0M1566.5 369.0h0M1564.9 346.4h0M1569.4 367.6h0M1569.4 371.1h0M1569.4 373.3h0M1573.6 359.9h0M1573.4 366.6h0M1572.6 369.6h0M1572.5 371.6h0M1575.5 366.2h0M1575.1 369.0h0M1575.5 372.3h0M1577.5 358.2h0M1577.3 361.5h0M1578.1 363.7h0M1577.4 369.9h0M1575.6 364.8h0M1575.7 367.7h0M1576.3 370.9h0M1575.7 373.2h0M1554.9 351.3h0M1554.9 353.9h0M1554.9 356.0h0M1554.9 359.0h0M1554.9 361.7h0M1554.9 364.6h0M1554.9 367.2h0M1554.9 369.5h0M1554.9 372.4h0M1561.3 353.0h0M1570.4 324.8h0M1570.4 336.6h0M1569.3 339.4h0M1570.5 341.4h0M1571.2 343.8h0M1570.5 345.8h0M1570.2 347.6h0M1570.0 349.9h0M1571.3 352.1h0M1570.5 354.6h0M1570.3 356.6h0M1570.7 359.3h0M1570.1 362.2h0M1570.2 364.8h0M1570.2 367.5h0M1570.5 369.8h0M1570.6 371.9h0M1568.8 345.2h0M1569.6 348.0h0M1568.6 350.5h0M1568.6 353.3h0M1568.4 356.0h0M1568.5 357.9h0M1568.2 359.8h0M1569.6 362.0h0M1569.2 364.9h0M1568.7 367.2h0M1568.5 370.0h0M1568.4 372.1h0M1571.6 353.4h0M1571.5 355.8h0M1571.3 357.8h0M1571.0 360.0h0M1571.6 361.9h0M1571.6 364.9h0M1570.8 367.6h0M1571.9 369.5h0M1571.8 372.5h0M1577.8 328.2h0M1577.8 337.8h0M1578.4 340.2h0M1576.5 342.2h0M1577.5 344.9h0M1578.1 347.5h0M1577.6 349.3h0M1577.6 351.4h0M1578.4 354.2h0M1577.7 356.8h0M1577.2 359.3h0M1577.5 361.3h0M1577.7 363.3h0M1578.1 365.8h0M1578.2 368.3h0M1578.3 370.4h0M1577.5 372.2h0M1575.7 355.0h0M1575.2 357.2h0M1576.1 360.0h0M1575.1 362.6h0M1575.7 365.6h0M1575.4 368.0h0M1575.7 370.9h0M1576.5 373.6h0M1579.9 345.8h0M1579.9 348.3h0M1580.4 350.3h0M1579.6 352.4h0M1579.5 355.1h0M1579.4 357.4h0M1579.5 359.5h0M1580.4 362.1h0M1580.1 364.3h0M1580.3 366.8h0M1580.3 368.7h0M1580.7 370.9h0M1580.4 373.2h0M1586.6 324.2h0"/>
</g>
<g fill="#4876ff" stroke="#4876ff">
<path stroke="none" d="M1585.0 373.0V438.8Q1585.0 441.6 1587.8 441.6H1608.3V373.0Z"/>
<path fill="none" stroke-width="5.6" stroke-linecap="round" d="M1587.2 368.5h0M1587.0 370.6h0M1587.0 373.6h0M1589.4 369.7h0M1588.8 372.2h0M1591.4 371.0h0M1592.0 373.5h0M1593.5 370.7h0M1593.9 373.7h0M1595.8 369.6h0M1595.8 372.1h0M1597.6 370.6h0M1597.7 373.5h0M1599.6 369.2h0M1600.5 372.6h0M1601.3 370.3h0M1601.3 373.4h0M1590.5 346.0h0M1590.6 348.2h0M1590.5 350.2h0M1590.0 353.1h0M1590.5 356.3h0M1591.0 359.6h0M1591.0 362.0h0M1590.1 364.5h0M1590.6 367.5h0M1590.3 370.2h0M1590.0 373.2h0M1588.6 354.4h0M1589.9 357.5h0M1589.2 360.9h0M1589.1 364.2h0M1588.4 366.4h0M1589.4 369.1h0M1588.2 371.2h0M1595.0 360.1h0M1595.2 363.5h0M1594.2 366.7h0M1594.5 369.0h0M1598.3 365.3h0M1598.0 371.0h0M1598.2 373.9h0M1587.0 344.0h0M1591.3 332.1h0M1591.6 334.0h0M1590.7 336.4h0M1591.4 338.7h0M1591.9 340.8h0M1590.7 342.7h0M1591.1 345.6h0M1590.4 348.0h0M1591.8 350.1h0M1590.8 352.2h0M1591.5 354.3h0M1591.7 357.3h0M1590.5 359.6h0M1591.3 361.9h0M1590.9 364.1h0M1591.4 366.2h0M1591.6 368.7h0M1591.3 370.6h0M1591.0 372.8h0M1589.7 338.5h0M1589.4 340.5h0M1589.8 342.9h0M1589.8 345.3h0M1589.5 347.7h0M1589.4 349.6h0M1589.5 352.2h0M1589.5 354.7h0M1590.9 357.4h0M1589.6 360.3h0M1589.3 362.6h0M1589.7 365.0h0M1589.1 367.9h0M1590.6 370.3h0M1589.7 372.9h0M1597.7 342.9h0"/>
</g>
<g fill="#104e8b" stroke="#104e8b">
<path stroke="none" d="M1604.8 373.0V438.8Q1604.8 441.6 1607.6 441.6H1629.1V373.0Z"/>
<path fill="none" stroke-width="5.6" stroke-linecap="round" d="M1607.0 370.1h0M1606.8 372.3h0M1608.9 369.8h0M1608.7 372.5h0M1610.6 370.5h0M1610.6 373.6h0M1612.4 370.4h0M1612.2 373.6h0M1614.3 371.0h0M1614.3 373.1h0M1616.5 369.2h0M1615.8 371.7h0M1617.5 373.7h0M1618.3 369.6h0M1619.6 372.6h0M1620.7 370.1h0M1620.6 372.4h0M1622.4 368.6h0M1623.0 371.7h0M1608.0 361.2h0M1608.6 363.4h0M1607.4 366.0h0M1608.4 368.1h0M1608.7 370.3h0M1608.2 372.3h0M1614.9 368.7h0M1615.2 371.3h0M1617.9 362.2h0M1618.5 364.6h0M1617.8 367.1h0M1617.8 369.6h0M1618.7 372.2h0M1620.7 366.2h0M1619.7 368.6h0M1620.8 371.9h0M1619.9 357.6h0M1606.8 336.1h0M1611.2 332.7h0M1611.2 341.7h0M1611.2 350.2h0M1610.9 352.5h0M1611.2 354.9h0M1610.8 357.7h0M1611.4 360.6h0M1611.4 362.7h0M1611.3 365.2h0M1611.6 367.8h0M1610.8 370.8h0M1611.6 372.6h0M1613.3 360.3h0M1613.3 362.3h0M1613.6 364.4h0M1614.1 366.9h0M1613.2 369.7h0M1613.1 371.6h0M1623.4 332.7h0M1623.4 343.4h0M1623.6 346.4h0M1623.0 348.3h0M1623.0 350.9h0M1623.6 353.1h0M1623.5 356.1h0M1623.6 358.1h0M1623.0 360.5h0M1623.6 362.5h0M1623.1 364.5h0M1622.8 366.5h0M1623.6 369.3h0M1623.3 371.3h0M1621.4 349.1h0M1621.5 351.1h0M1621.6 353.3h0M1621.2 356.2h0M1620.9 358.5h0M1620.6 361.4h0M1621.9 363.4h0M1620.9 365.9h0M1621.9 367.9h0M1621.4 369.8h0M1621.3 371.9h0"/>
</g>
<g fill="#4876ff" stroke="#4876ff">
<path stroke="none" d="M1625.6 373.0V438.8Q1625.6 441.6 1628.4 441.6H1667.9Q1670.7 441.6 1670.7 438.8L1669.9 373.0Z"/>
<path fill="none" stroke-width="5.6" stroke-linecap="round" d="M1627.8 370.3h0M1627.6 373.6h0M1629.7 370.6h0M1629.9 372.8h0M1632.0 369.5h0M1632.1 372.1h0M1634.1 370.7h0M1634.7 373.5h0M1635.9 370.7h0M1634.9 373.5h0M1637.8 370.3h0M1637.3 373.4h0M1639.4 370.5h0M1639.0 372.7h0M1640.9 370.5h0M1640.2 372.5h0M1643.1 370.8h0M1643.4 373.8h0M1644.8 370.0h0M1644.9 373.3h0M1646.7 370.4h0M1647.2 373.0h0M1648.9 370.3h0M1649.6 372.7h0M1650.5 369.7h0M1649.5 372.4h0M1652.3 370.7h0M1653.2 373.1h0M1654.3 370.5h0M1654.5 373.1h0M1656.2 368.1h0M1655.8 370.9h0M1658.1 370.8h0M1658.2 373.1h0M1660.3 370.9h0M1660.1 373.9h0M1662.0 368.1h0M1662.1 371.3h0M1663.6 368.1h0M1663.9 370.5h0M1664.1 373.0h0M1665.2 369.8h0M1665.4 372.5h0M1667.5 369.0h0M1667.1 371.6h0M1629.1 368.3h0M1629.8 370.5h0M1629.1 373.9h0M1633.1 367.9h0M1633.5 371.0h0M1637.5 364.3h0M1636.7 366.7h0M1637.4 370.1h0M1642.2 367.2h0M1641.8 370.7h0M1642.6 373.2h0M1650.3 356.0h0M1650.6 358.7h0M1650.1 361.5h0M1649.9 363.9h0M1651.3 366.5h0M1651.1 369.9h0M1650.3 372.8h0M1656.8 363.8h0M1656.7 366.0h0M1657.1 369.1h0M1655.9 372.4h0M1656.4 355.4h0M1659.9 357.6h0M1660.3 360.2h0M1660.1 362.8h0M1659.8 365.1h0M1659.6 367.9h0M1659.9 369.9h0M1658.0 362.3h0M1657.5 365.4h0M1657.4 368.1h0M1658.2 371.3h0M1657.9 373.5h0M1664.0 343.7h0M1664.7 346.1h0M1664.4 348.1h0M1664.3 350.8h0M1664.2 353.0h0M1663.3 356.1h0M1663.6 359.4h0M1664.7 362.6h0M1663.3 366.0h0M1663.4 369.4h0M1662.7 371.6h0M1662.1 349.2h0M1663.0 352.1h0M1662.7 355.0h0M1663.1 357.4h0M1662.6 359.6h0M1661.5 362.3h0M1662.9 364.6h0M1661.7 368.0h0M1661.4 370.6h0M1662.2 372.8h0M1628.6 361.5h0M1628.6 364.2h0M1629.8 366.3h0M1628.6 369.0h0M1628.4 371.2h0M1629.0 373.6h0M1640.3 346.2h0M1643.7 351.9h0M1654.5 358.1h0M1654.3 360.0h0M1654.3 362.8h0M1654.0 365.1h0M1654.4 367.3h0M1654.8 369.1h0M1654.5 371.0h0M1654.7 373.4h0M1652.8 363.5h0M1653.0 366.2h0M1652.5 368.3h0M1653.1 370.6h0M1652.9 372.6h0M1662.4 342.9h0M1666.9 361.5h0M1667.3 363.7h0M1667.1 366.5h0M1667.5 368.7h0M1666.6 370.7h0M1666.7 373.1h0M1664.7 363.7h0M1664.1 365.5h0M1664.2 368.2h0M1663.9 370.9h0M1665.2 372.8h0"/>
</g>
<line x1="460.6" y1="199.7" x2="460.6" y2="321.0" stroke="#000" stroke-width="1.2"/>
<line x1="480.4" y1="151.1" x2="481.7" y2="310.0" stroke="#000" stroke-width="1.2"/>
<line x1="599.0" y1="160.0" x2="599.0" y2="273.5" stroke="#000" stroke-width="1.2"/>
<line x1="814.5" y1="216.4" x2="814.5" y2="319.5" stroke="#000" stroke-width="1.2"/>
<line x1="797.9" y1="254.0" x2="812.7" y2="314.8" stroke="#000" stroke-width="1.2"/>
<line x1="874.1" y1="264.6" x2="874.1" y2="317.0" stroke="#000" stroke-width="1.2"/>
<line x1="1148.1" y1="268.9" x2="1148.1" y2="299.0" stroke="#000" stroke-width="1.2"/>
<line x1="1221.4" y1="216.3" x2="1221.4" y2="286.0" stroke="#000" stroke-width="1.2"/>
<line x1="1245.5" y1="102.5" x2="1245.5" y2="318.0" stroke="#000" stroke-width="1.2"/>
<line x1="1259.4" y1="60.6" x2="1259.4" y2="315.0" stroke="#000" stroke-width="1.2"/>
<line x1="1341.5" y1="204.4" x2="1341.5" y2="313.5" stroke="#000" stroke-width="1.2"/>
<line x1="1498.0" y1="244.7" x2="1498.0" y2="314.0" stroke="#000" stroke-width="1.2"/>
<line x1="1535.5" y1="277.2" x2="1535.5" y2="321.0" stroke="#000" stroke-width="1.2"/>
<text x="171.5" y="273.5" font-size="19" font-style="italic" textLength="125.0" lengthAdjust="spacingAndGlyphs">RTCA,CDC14A</text>
<text x="404.0" y="79.3" font-size="19" font-style="italic" textLength="180.0" lengthAdjust="spacingAndGlyphs">TERC,MYNN,ACTRT3</text>
<text x="262.5" y="147.7" font-size="19" font-style="italic" textLength="213.0" lengthAdjust="spacingAndGlyphs">LOC440982,LINC02032</text>
<text x="301.5" y="193.1" font-size="19" font-style="italic" textLength="159.5" lengthAdjust="spacingAndGlyphs">MIR548AB,ALCAM</text>
<text x="520.0" y="151.7" font-size="19" font-style="italic" textLength="186.7" lengthAdjust="spacingAndGlyphs">FSTL5,MIR4454,NAF1</text>
<text x="607.2" y="210.6" font-size="19" font-style="italic" textLength="42.6" lengthAdjust="spacingAndGlyphs">TERT</text>
<text x="878.6" y="162.8" font-size="19" font-style="italic" textLength="114.9" lengthAdjust="spacingAndGlyphs">TERF1,KCNB2</text>
<text x="780.8" y="185.7" font-size="19" font-style="italic" textLength="66.7" lengthAdjust="spacingAndGlyphs">PER3P1,</text>
<text x="770.9" y="208.8" font-size="19" font-style="italic" textLength="88.4" lengthAdjust="spacingAndGlyphs">MGC4859</text>
<text x="704.1" y="247.1" font-size="19" font-style="italic" textLength="97.8" lengthAdjust="spacingAndGlyphs">MIOS,RPA3</text>
<text x="853.0" y="258.8" font-size="19" font-style="italic" textLength="42.2" lengthAdjust="spacingAndGlyphs">POT1</text>
<text x="1051.6" y="15.0" font-size="19" font-style="italic" textLength="81.9" lengthAdjust="spacingAndGlyphs">STN1,SLK</text>
<text x="1200.6" y="31.9" font-size="19" font-style="italic" textLength="75.9" lengthAdjust="spacingAndGlyphs">B3GLCT,</text>
<text x="1211.7" y="54.8" font-size="19" font-style="italic" textLength="54.4" lengthAdjust="spacingAndGlyphs">RXFP2</text>
<text x="1142.8" y="94.9" font-size="19" font-style="italic" textLength="107.7" lengthAdjust="spacingAndGlyphs">MPHOSPH9,</text>
<text x="1165.4" y="116.8" font-size="19" font-style="italic" textLength="63.6" lengthAdjust="spacingAndGlyphs">SBNO1,</text>
<text x="1166.6" y="139.5" font-size="19" font-style="italic" textLength="59.7" lengthAdjust="spacingAndGlyphs">KMT5A</text>
<text x="1123.8" y="187.9" font-size="19" font-style="italic" textLength="103.2" lengthAdjust="spacingAndGlyphs">LINC02882,</text>
<text x="1137.7" y="210.1" font-size="19" font-style="italic" textLength="89.5" lengthAdjust="spacingAndGlyphs">ATXN7L3B</text>
<text x="1112.7" y="263.8" font-size="19" font-style="italic" textLength="71.2" lengthAdjust="spacingAndGlyphs">SHANK2</text>
<text x="1298.1" y="55.1" font-size="19" font-style="italic" textLength="102.0" lengthAdjust="spacingAndGlyphs">TGM1,TINF2</text>
<text x="1334.8" y="199.4" font-size="19" font-style="italic" textLength="200.2" lengthAdjust="spacingAndGlyphs">LINC02301,SNORD3P3</text>
<text x="1422.4" y="239.1" font-size="19" font-style="italic" textLength="134.8" lengthAdjust="spacingAndGlyphs">LINC01477,KC6</text>
<text x="1518.3" y="270.3" font-size="19" font-style="italic" textLength="132.4" lengthAdjust="spacingAndGlyphs">ZNF43,ZNF208</text>
<text x="1679.6" y="271.9" font-size="18.5" textLength="91.5" lengthAdjust="spacingAndGlyphs"><tspan font-style="italic">P</tspan><tspan> = 5 × 10</tspan><tspan font-size="12.5" dy="-7">−8</tspan></text>
<text x="1679.6" y="317.0" font-size="18.5" textLength="91.5" lengthAdjust="spacingAndGlyphs"><tspan font-style="italic">P</tspan><tspan> = 5 × 10</tspan><tspan font-size="12.5" dy="-7">−6</tspan></text>
<text x="225.4" y="469.2" font-size="22.2" text-anchor="middle" fill="#4876ff" textLength="12.8" lengthAdjust="spacingAndGlyphs">1</text>
<text x="339.0" y="469.2" font-size="22.2" text-anchor="middle" fill="#104e8b" textLength="12.8" lengthAdjust="spacingAndGlyphs">2</text>
<text x="452.8" y="469.2" font-size="22.2" text-anchor="middle" fill="#4876ff" textLength="12.8" lengthAdjust="spacingAndGlyphs">3</text>
<text x="558.8" y="469.2" font-size="22.2" text-anchor="middle" fill="#104e8b" textLength="12.8" lengthAdjust="spacingAndGlyphs">4</text>
<text x="659.0" y="469.2" font-size="22.2" text-anchor="middle" fill="#4876ff" textLength="12.8" lengthAdjust="spacingAndGlyphs">5</text>
<text x="756.0" y="469.2" font-size="22.2" text-anchor="middle" fill="#104e8b" textLength="12.8" lengthAdjust="spacingAndGlyphs">6</text>
<text x="847.1" y="469.2" font-size="22.2" text-anchor="middle" fill="#4876ff" textLength="12.8" lengthAdjust="spacingAndGlyphs">7</text>
<text x="930.7" y="469.2" font-size="22.2" text-anchor="middle" fill="#104e8b" textLength="12.8" lengthAdjust="spacingAndGlyphs">8</text>
<text x="1002.0" y="469.2" font-size="22.2" text-anchor="middle" fill="#4876ff" textLength="12.8" lengthAdjust="spacingAndGlyphs">9</text>
<text x="1070.1" y="469.2" font-size="22.2" text-anchor="middle" fill="#104e8b" textLength="24.5" lengthAdjust="spacingAndGlyphs">10</text>
<text x="1145.5" y="469.2" font-size="22.2" text-anchor="middle" fill="#4876ff" textLength="18.5" lengthAdjust="spacingAndGlyphs">11</text>
<text x="1212.2" y="469.2" font-size="22.2" text-anchor="middle" fill="#104e8b" textLength="22.0" lengthAdjust="spacingAndGlyphs">12</text>
<text x="1276.8" y="469.2" font-size="22.2" text-anchor="middle" fill="#4876ff" textLength="22.5" lengthAdjust="spacingAndGlyphs">13</text>
<text x="1325.9" y="469.2" font-size="22.2" text-anchor="middle" fill="#104e8b" textLength="23.0" lengthAdjust="spacingAndGlyphs">14</text>
<text x="1369.3" y="469.2" font-size="22.2" text-anchor="middle" fill="#4876ff" textLength="22.5" lengthAdjust="spacingAndGlyphs">15</text>
<text x="1414.8" y="469.2" font-size="22.2" text-anchor="middle" fill="#104e8b" textLength="22.5" lengthAdjust="spacingAndGlyphs">16</text>
<text x="1456.8" y="469.2" font-size="22.2" text-anchor="middle" fill="#4876ff" textLength="21.5" lengthAdjust="spacingAndGlyphs">17</text>
<text x="1497.9" y="469.2" font-size="22.2" text-anchor="middle" fill="#104e8b" textLength="22.5" lengthAdjust="spacingAndGlyphs">18</text>
<text x="1533.0" y="470.2" font-size="22.2" text-anchor="middle" fill="#4876ff" textLength="23.0" lengthAdjust="spacingAndGlyphs">19</text>
<text x="1564.6" y="469.2" font-size="22.2" text-anchor="middle" fill="#104e8b" textLength="28.5" lengthAdjust="spacingAndGlyphs">20</text>
<text x="1593.5" y="469.2" font-size="22.2" text-anchor="middle" fill="#4876ff" textLength="21.0" lengthAdjust="spacingAndGlyphs">21</text>
<text x="1622.0" y="469.2" font-size="22.2" text-anchor="middle" fill="#104e8b" textLength="25.0" lengthAdjust="spacingAndGlyphs">22</text>
<text x="1649.0" y="469.2" font-size="22.2" text-anchor="middle" fill="#4876ff" textLength="13.5" lengthAdjust="spacingAndGlyphs">X</text>
<text x="835.0" y="509.0" font-size="27" textLength="172.0" lengthAdjust="spacingAndGlyphs">Chromosome</text>
</g>
<g id="panel-b">
<text x="0.3" y="568.4" font-size="39" font-weight="bold" textLength="24.5" lengthAdjust="spacingAndGlyphs" stroke="#000" stroke-width="1.1" stroke-linejoin="round">b</text>
<line x1="187.3" y1="944.4" x2="187.3" y2="1003.5" stroke="#444" stroke-width="1.4"/>
<line x1="187.3" y1="1043.7" x2="187.3" y2="1102.0" stroke="#444" stroke-width="1.4"/>
<rect x="166.5" y="1003.5" width="41.5" height="40.2" fill="#ff0000" stroke="#444" stroke-width="1.4"/>
<line x1="166.5" y1="1023.8" x2="208.0" y2="1023.8" stroke="#333" stroke-width="4.4"/>
<line x1="242.5" y1="932.0" x2="242.5" y2="994.1" stroke="#444" stroke-width="1.4"/>
<line x1="242.5" y1="1035.8" x2="242.5" y2="1097.5" stroke="#444" stroke-width="1.4"/>
<rect x="221.7" y="994.1" width="41.5" height="41.7" fill="#ff7050" stroke="#444" stroke-width="1.4"/>
<line x1="221.7" y1="1015.3" x2="263.2" y2="1015.3" stroke="#333" stroke-width="4.4"/>
<line x1="298.0" y1="924.0" x2="298.0" y2="985.9" stroke="#444" stroke-width="1.4"/>
<line x1="298.0" y1="1028.2" x2="298.0" y2="1089.0" stroke="#444" stroke-width="1.4"/>
<rect x="277.2" y="985.9" width="41.5" height="42.3" fill="#ffaa92" stroke="#444" stroke-width="1.4"/>
<line x1="277.2" y1="1006.8" x2="318.7" y2="1006.8" stroke="#333" stroke-width="4.4"/>
<line x1="353.5" y1="913.0" x2="353.5" y2="977.7" stroke="#444" stroke-width="1.4"/>
<line x1="353.5" y1="1020.5" x2="353.5" y2="1084.0" stroke="#444" stroke-width="1.4"/>
<rect x="332.7" y="977.7" width="41.5" height="42.8" fill="#ffe3d8" stroke="#444" stroke-width="1.4"/>
<line x1="332.7" y1="999.4" x2="374.2" y2="999.4" stroke="#333" stroke-width="4.4"/>
<line x1="409.1" y1="905.8" x2="409.1" y2="970.4" stroke="#444" stroke-width="1.4"/>
<line x1="409.1" y1="1013.2" x2="409.1" y2="1075.0" stroke="#444" stroke-width="1.4"/>
<rect x="388.3" y="970.4" width="41.5" height="42.8" fill="#eedcff" stroke="#444" stroke-width="1.4"/>
<line x1="388.3" y1="992.1" x2="429.8" y2="992.1" stroke="#333" stroke-width="4.4"/>
<line x1="464.5" y1="897.7" x2="464.5" y2="962.8" stroke="#444" stroke-width="1.4"/>
<line x1="464.5" y1="1007.3" x2="464.5" y2="1072.0" stroke="#444" stroke-width="1.4"/>
<rect x="443.7" y="962.8" width="41.5" height="44.5" fill="#bb99ff" stroke="#444" stroke-width="1.4"/>
<line x1="443.7" y1="985.3" x2="485.2" y2="985.3" stroke="#333" stroke-width="4.4"/>
<line x1="519.8" y1="894.5" x2="519.8" y2="956.6" stroke="#444" stroke-width="1.4"/>
<line x1="519.8" y1="999.4" x2="519.8" y2="1062.0" stroke="#444" stroke-width="1.4"/>
<rect x="499.0" y="956.6" width="41.5" height="42.8" fill="#8855ff" stroke="#444" stroke-width="1.4"/>
<line x1="499.0" y1="978.0" x2="540.5" y2="978.0" stroke="#333" stroke-width="4.4"/>
<line x1="575.4" y1="888.0" x2="575.4" y2="949.0" stroke="#444" stroke-width="1.4"/>
<line x1="575.4" y1="990.3" x2="575.4" y2="1051.7" stroke="#444" stroke-width="1.4"/>
<rect x="554.6" y="949.0" width="41.5" height="41.3" fill="#0000ff" stroke="#444" stroke-width="1.4"/>
<line x1="554.6" y1="970.7" x2="596.1" y2="970.7" stroke="#333" stroke-width="4.4"/>
<path d="M187.3 862.5h0M187.3 878.9h0M187.3 895.8h0M187.3 898.4h0M187.3 901.5h0M187.3 904.3h0M187.3 905.0h0M187.3 905.0h0M187.3 906.7h0M187.3 908.0h0M187.3 909.2h0M187.3 911.0h0M187.3 912.4h0M187.3 913.8h0M187.3 915.8h0M187.3 917.4h0M187.3 919.3h0M187.3 920.9h0M187.3 922.6h0M187.3 923.9h0M187.3 925.6h0M187.3 927.5h0M187.3 929.1h0M187.3 930.9h0M187.3 932.6h0M187.3 933.9h0M187.3 935.7h0M187.3 937.4h0M187.3 938.8h0M187.3 940.0h0M187.3 941.9h0M187.3 943.5h0M187.3 944.0h0M187.3 1104.6h0M187.3 1106.5h0M187.3 1108.3h0M187.3 1110.2h0M187.3 1111.7h0M187.3 1113.6h0M187.3 1115.1h0M187.3 1117.1h0M187.3 1119.0h0M187.3 1120.3h0M187.3 1121.6h0M187.3 1122.9h0M187.3 1124.9h0M187.3 1126.5h0M187.3 1128.0h0M187.3 1129.0h0M187.3 1131.7h0M187.3 1134.7h0M187.3 1137.5h0M187.3 1140.3h0M187.3 1141.0h0M187.3 1156.5h0M242.5 828.8h0M242.5 843.1h0M242.5 850.9h0M242.5 856.1h0M242.5 861.3h0M242.5 866.0h0M242.5 870.0h0M242.5 874.2h0M242.5 879.0h0M242.5 883.6h0M242.5 885.3h0M242.5 887.2h0M242.5 888.9h0M242.5 890.9h0M242.5 892.8h0M242.5 894.8h0M242.5 896.5h0M242.5 897.8h0M242.5 899.7h0M242.5 901.7h0M242.5 903.6h0M242.5 905.3h0M242.5 907.0h0M242.5 908.4h0M242.5 910.3h0M242.5 911.9h0M242.5 913.4h0M242.5 914.6h0M242.5 916.5h0M242.5 918.5h0M242.5 919.8h0M242.5 921.6h0M242.5 923.1h0M242.5 924.4h0M242.5 925.9h0M242.5 927.7h0M242.5 929.6h0M242.5 931.0h0M242.5 1098.6h0M242.5 1100.3h0M242.5 1101.5h0M242.5 1103.3h0M242.5 1104.8h0M242.5 1106.7h0M242.5 1108.7h0M242.5 1110.3h0M242.5 1112.3h0M242.5 1113.7h0M242.5 1115.0h0M242.5 1116.6h0M242.5 1117.9h0M242.5 1119.2h0M242.5 1120.8h0M242.5 1122.4h0M242.5 1124.0h0M242.5 1125.0h0M242.5 1127.2h0M242.5 1130.5h0M242.5 1133.0h0M242.5 1136.5h0M242.5 1139.6h0M242.5 1150.8h0M242.5 1156.8h0M298.0 773.5h0M298.0 831.7h0M298.0 843.1h0M298.0 847.0h0M298.0 855.0h0M298.0 857.6h0M298.0 860.4h0M298.0 863.2h0M298.0 866.0h0M298.0 866.0h0M298.0 867.7h0M298.0 869.3h0M298.0 871.0h0M298.0 873.0h0M298.0 874.6h0M298.0 876.1h0M298.0 877.9h0M298.0 879.3h0M298.0 880.7h0M298.0 882.7h0M298.0 884.3h0M298.0 886.0h0M298.0 887.2h0M298.0 888.7h0M298.0 890.4h0M298.0 891.6h0M298.0 893.3h0M298.0 895.0h0M298.0 896.2h0M298.0 897.9h0M298.0 899.5h0M298.0 901.3h0M298.0 902.7h0M298.0 904.5h0M298.0 906.3h0M298.0 907.5h0M298.0 908.8h0M298.0 910.5h0M298.0 912.5h0M298.0 913.9h0M298.0 915.4h0M298.0 917.1h0M298.0 918.6h0M298.0 920.1h0M298.0 921.5h0M298.0 923.3h0M298.0 1091.6h0M298.0 1093.3h0M298.0 1094.7h0M298.0 1096.2h0M298.0 1098.0h0M298.0 1099.3h0M298.0 1100.9h0M298.0 1102.7h0M298.0 1104.1h0M298.0 1105.5h0M298.0 1107.4h0M298.0 1108.8h0M298.0 1110.1h0M298.0 1111.7h0M298.0 1113.4h0M298.0 1114.7h0M298.0 1116.2h0M298.0 1117.6h0M298.0 1119.5h0M298.0 1121.0h0M298.0 1122.9h0M298.0 1124.3h0M298.0 1125.7h0M298.0 1127.5h0M298.0 1128.0h0M298.0 1129.0h0M298.0 1132.1h0M298.0 1134.9h0M298.0 1137.5h0M298.0 1140.7h0M298.0 1143.4h0M298.0 1144.8h0M298.0 1155.7h0M353.5 732.0h0M353.5 795.1h0M353.5 800.3h0M353.5 805.5h0M353.5 824.9h0M353.5 828.8h0M353.5 836.6h0M353.5 840.0h0M353.5 855.8h0M353.5 859.3h0M353.5 861.8h0M353.5 864.5h0M353.5 868.0h0M353.5 868.0h0M353.5 869.7h0M353.5 871.6h0M353.5 873.0h0M353.5 874.3h0M353.5 875.8h0M353.5 877.6h0M353.5 879.0h0M353.5 880.5h0M353.5 882.0h0M353.5 883.6h0M353.5 885.1h0M353.5 887.0h0M353.5 888.4h0M353.5 889.6h0M353.5 891.5h0M353.5 893.4h0M353.5 895.4h0M353.5 897.0h0M353.5 898.9h0M353.5 900.9h0M353.5 902.2h0M353.5 904.0h0M353.5 905.9h0M353.5 907.6h0M353.5 909.2h0M353.5 910.7h0M353.5 912.4h0M353.5 1085.7h0M353.5 1087.1h0M353.5 1088.3h0M353.5 1090.0h0M353.5 1091.4h0M353.5 1093.3h0M353.5 1094.5h0M353.5 1096.4h0M353.5 1098.2h0M353.5 1100.1h0M353.5 1102.1h0M353.5 1104.0h0M353.5 1105.6h0M353.5 1106.8h0M353.5 1108.6h0M353.5 1110.0h0M353.5 1111.4h0M353.5 1113.2h0M353.5 1114.8h0M353.5 1116.3h0M353.5 1118.0h0M353.5 1119.0h0M353.5 1121.7h0M353.5 1124.1h0M353.5 1126.4h0M353.5 1129.5h0M353.5 1132.1h0M353.5 1135.0h0M353.5 1137.4h0M353.5 1139.6h0M353.5 1142.3h0M353.5 1145.3h0M353.5 1147.5h0M353.5 1150.4h0M353.5 1152.6h0M353.5 1160.7h0M353.5 1164.0h0M353.5 1171.0h0M353.5 1191.0h0M353.5 1197.8h0M409.1 798.5h0M409.1 810.9h0M409.1 827.5h0M409.1 831.4h0M409.1 834.8h0M409.1 842.8h0M409.1 846.0h0M409.1 849.3h0M409.1 851.4h0M409.1 852.0h0M409.1 852.0h0M409.1 853.9h0M409.1 855.1h0M409.1 856.5h0M409.1 858.0h0M409.1 859.6h0M409.1 861.1h0M409.1 862.7h0M409.1 864.5h0M409.1 865.7h0M409.1 867.0h0M409.1 868.3h0M409.1 869.6h0M409.1 870.8h0M409.1 872.8h0M409.1 874.7h0M409.1 876.0h0M409.1 877.6h0M409.1 879.0h0M409.1 880.5h0M409.1 881.9h0M409.1 883.7h0M409.1 885.3h0M409.1 886.8h0M409.1 888.2h0M409.1 889.6h0M409.1 890.9h0M409.1 892.6h0M409.1 894.3h0M409.1 895.9h0M409.1 897.1h0M409.1 898.5h0M409.1 900.0h0M409.1 901.6h0M409.1 903.5h0M409.1 905.0h0M409.1 905.6h0M409.1 1077.1h0M409.1 1078.8h0M409.1 1080.3h0M409.1 1081.8h0M409.1 1083.4h0M409.1 1085.2h0M409.1 1086.7h0M409.1 1088.5h0M409.1 1090.1h0M409.1 1091.5h0M409.1 1093.1h0M409.1 1094.8h0M409.1 1096.1h0M409.1 1097.6h0M409.1 1099.2h0M409.1 1101.1h0M409.1 1103.0h0M409.1 1104.5h0M409.1 1106.5h0M409.1 1108.3h0M409.1 1109.7h0M409.1 1111.3h0M409.1 1112.6h0M409.1 1114.4h0M409.1 1116.1h0M409.1 1118.1h0M409.1 1119.9h0M409.1 1121.6h0M409.1 1123.4h0M409.1 1125.0h0M409.1 1126.0h0M409.1 1128.2h0M409.1 1131.2h0M409.1 1133.3h0M409.1 1135.6h0M409.1 1138.8h0M409.1 1140.9h0M409.1 1143.1h0M409.1 1145.4h0M409.1 1148.5h0M409.1 1158.1h0M409.1 1167.7h0M409.1 1175.7h0M409.1 1186.9h0M409.1 1202.2h0M409.1 1225.5h0M464.5 793.8h0M464.5 796.9h0M464.5 810.7h0M464.5 815.8h0M464.5 819.7h0M464.5 828.8h0M464.5 832.2h0M464.5 845.7h0M464.5 853.5h0M464.5 857.4h0M464.5 863.8h0M464.5 867.7h0M464.5 874.5h0M464.5 876.3h0M464.5 878.0h0M464.5 880.6h0M464.5 882.4h0M464.5 885.0h0M464.5 887.4h0M464.5 889.9h0M464.5 892.6h0M464.5 894.9h0M464.5 896.8h0M464.5 1073.5h0M464.5 1075.0h0M464.5 1077.3h0M464.5 1079.3h0M464.5 1081.5h0M464.5 1083.1h0M464.5 1085.4h0M464.5 1087.8h0M464.5 1089.4h0M464.5 1090.3h0M464.5 1100.5h0M464.5 1106.2h0M464.5 1113.4h0M464.5 1121.0h0M464.5 1126.9h0M464.5 1132.9h0M464.5 1139.9h0M464.5 1173.4h0M464.5 1181.2h0M519.8 708.7h0M519.8 718.0h0M519.8 722.4h0M519.8 745.8h0M519.8 751.0h0M519.8 840.0h0M519.8 844.4h0M519.8 850.9h0M519.8 856.1h0M519.8 865.7h0M519.8 878.1h0M519.8 883.3h0M519.8 887.7h0M519.8 891.9h0M519.8 1064.1h0M519.8 1069.0h0M519.8 1071.7h0M519.8 1074.7h0M519.8 1076.3h0M519.8 1082.3h0M519.8 1088.0h0M519.8 1096.6h0M519.8 1102.3h0M519.8 1106.2h0M519.8 1110.8h0M519.8 1116.8h0M575.4 806.2h0M575.4 869.0h0M575.4 872.9h0M575.4 885.4h0M575.4 1059.5h0M575.4 1063.4h0M575.4 1069.3h0M575.4 1092.2h0" fill="none" stroke="#333" stroke-width="5.8" stroke-linecap="round"/>
<line x1="153.9" y1="1002.9" x2="608.0" y2="1002.9" stroke="#000" stroke-width="2.0" stroke-dasharray="14.6 14.6"/>
<path d="M153.9 683.2V1251.2H608" fill="none" stroke="#222" stroke-width="1.5"/>
<line x1="144.2" y1="759.1" x2="153.9" y2="759.1" stroke="#222" stroke-width="1.5"/>
<text x="132.6" y="767.2" font-size="22.5" text-anchor="end" textLength="28.2" lengthAdjust="spacingAndGlyphs">20</text>
<line x1="144.2" y1="889.5" x2="153.9" y2="889.5" stroke="#222" stroke-width="1.5"/>
<text x="132.6" y="897.6" font-size="22.5" text-anchor="end" textLength="24.2" lengthAdjust="spacingAndGlyphs">10</text>
<line x1="144.2" y1="1019.9" x2="153.9" y2="1019.9" stroke="#222" stroke-width="1.5"/>
<text x="132.6" y="1028.0" font-size="22.5" text-anchor="end" textLength="14.0" lengthAdjust="spacingAndGlyphs">0</text>
<line x1="144.2" y1="1150.3" x2="153.9" y2="1150.3" stroke="#222" stroke-width="1.5"/>
<text x="132.6" y="1158.4" font-size="22.5" text-anchor="end" textLength="35.8" lengthAdjust="spacingAndGlyphs">−10</text>
<line x1="187.3" y1="1251.0" x2="187.3" y2="1260.6" stroke="#222" stroke-width="1.5"/>
<text x="201.3" y="1284.0" font-size="23" text-anchor="end" textLength="67.5" lengthAdjust="spacingAndGlyphs" transform="rotate(-45 201.3 1284.0)">[0–10)</text>
<line x1="242.5" y1="1251.0" x2="242.5" y2="1260.6" stroke="#222" stroke-width="1.5"/>
<text x="256.5" y="1284.0" font-size="23" text-anchor="end" textLength="77.0" lengthAdjust="spacingAndGlyphs" transform="rotate(-45 256.5 1284.0)">[10–20)</text>
<line x1="298.0" y1="1251.0" x2="298.0" y2="1260.6" stroke="#222" stroke-width="1.5"/>
<text x="312.0" y="1284.0" font-size="23" text-anchor="end" textLength="82.5" lengthAdjust="spacingAndGlyphs" transform="rotate(-45 312.0 1284.0)">[20–30)</text>
<line x1="353.5" y1="1251.0" x2="353.5" y2="1260.6" stroke="#222" stroke-width="1.5"/>
<text x="367.5" y="1284.0" font-size="23" text-anchor="end" textLength="82.5" lengthAdjust="spacingAndGlyphs" transform="rotate(-45 367.5 1284.0)">[30–40)</text>
<line x1="409.1" y1="1251.0" x2="409.1" y2="1260.6" stroke="#222" stroke-width="1.5"/>
<text x="423.1" y="1284.0" font-size="23" text-anchor="end" textLength="82.5" lengthAdjust="spacingAndGlyphs" transform="rotate(-45 423.1 1284.0)">[40–50)</text>
<line x1="464.5" y1="1251.0" x2="464.5" y2="1260.6" stroke="#222" stroke-width="1.5"/>
<text x="478.5" y="1284.0" font-size="23" text-anchor="end" textLength="82.5" lengthAdjust="spacingAndGlyphs" transform="rotate(-45 478.5 1284.0)">[50–60)</text>
<line x1="519.8" y1="1251.0" x2="519.8" y2="1260.6" stroke="#222" stroke-width="1.5"/>
<text x="533.8" y="1284.0" font-size="23" text-anchor="end" textLength="82.5" lengthAdjust="spacingAndGlyphs" transform="rotate(-45 533.8 1284.0)">[60–70)</text>
<line x1="575.4" y1="1251.0" x2="575.4" y2="1260.6" stroke="#222" stroke-width="1.5"/>
<text x="589.4" y="1284.0" font-size="23" text-anchor="end" textLength="38.5" lengthAdjust="spacingAndGlyphs" transform="rotate(-45 589.4 1284.0)">≥70</text>
<text x="73.0" y="1099.5" font-size="27" textLength="264.8" lengthAdjust="spacingAndGlyphs" transform="rotate(-90 73.0 1099.5)">Telomere length PRS</text>
<text x="242.8" y="1398.0" font-size="27" textLength="277.0" lengthAdjust="spacingAndGlyphs">European genome (%)</text>
<text x="637.0" y="1076.0" font-size="22.5" textLength="144.0" lengthAdjust="spacingAndGlyphs" transform="rotate(-90 637.0 1076.0)">Median = 1.34</text>
</g>
<g id="panel-c">
<text x="727.3" y="568.2" font-size="39" font-weight="bold" textLength="22.0" lengthAdjust="spacingAndGlyphs" stroke="#000" stroke-width="1.1" stroke-linejoin="round">c</text>
<text x="1465.5" y="564.6" font-size="28" text-anchor="middle" textLength="90.3" lengthAdjust="spacingAndGlyphs"><tspan font-style="italic">P</tspan><tspan> value</tspan></text>
<text x="1465.5" y="597.2" font-size="24" text-anchor="middle" textLength="145.0" lengthAdjust="spacingAndGlyphs">(Not adjusted</text>
<text x="1465.5" y="623.6" font-size="24" text-anchor="middle" textLength="134.5" lengthAdjust="spacingAndGlyphs">for ancestry)</text>
<text x="1645.5" y="564.6" font-size="28" text-anchor="middle" textLength="90.3" lengthAdjust="spacingAndGlyphs"><tspan font-style="italic">P</tspan><tspan> value</tspan></text>
<text x="1645.5" y="594.0" font-size="24" text-anchor="middle" textLength="138.5" lengthAdjust="spacingAndGlyphs">(Adjusted for</text>
<text x="1645.5" y="621.7" font-size="24" text-anchor="middle" textLength="98.5" lengthAdjust="spacingAndGlyphs">ancestry)</text>
<rect x="849.8" y="637.0" width="526.9" height="48.6" fill="#e3e3e3"/>
<rect x="849.8" y="734.1" width="526.9" height="48.6" fill="#e3e3e3"/>
<rect x="849.8" y="831.3" width="526.9" height="48.6" fill="#e3e3e3"/>
<rect x="849.8" y="928.4" width="526.9" height="48.6" fill="#e3e3e3"/>
<rect x="849.8" y="1025.5" width="526.9" height="48.6" fill="#e3e3e3"/>
<rect x="849.8" y="1122.7" width="526.9" height="48.6" fill="#e3e3e3"/>
<rect x="849.8" y="1219.8" width="526.9" height="48.6" fill="#e3e3e3"/>
<line x1="987.2" y1="632.0" x2="987.2" y2="1273.4" stroke="#777" stroke-width="1" stroke-dasharray="4 3"/>
<line x1="1317.7" y1="632.0" x2="1317.7" y2="1273.4" stroke="#777" stroke-width="1" stroke-dasharray="4 3"/>
<line x1="1152.5" y1="632.0" x2="1152.5" y2="1273.4" stroke="#000" stroke-width="1.2"/>
<text x="837.2" y="671.1" font-size="28" text-anchor="end" textLength="79.5" lengthAdjust="spacingAndGlyphs">All CH</text>
<text x="1465.5" y="671.1" font-size="28" text-anchor="middle" textLength="128.5" lengthAdjust="spacingAndGlyphs"><tspan>4.19 × 10</tspan><tspan font-size="20" dy="-11.5">−6</tspan></text>
<text x="1645.5" y="671.1" font-size="28" text-anchor="middle" textLength="73.3" lengthAdjust="spacingAndGlyphs">0.073</text>
<line x1="1166.0" y1="649.5" x2="1186.7" y2="649.5" stroke="#ff0000" stroke-width="2.3"/>
<circle cx="1176.3" cy="649.5" r="4.7" fill="#ff0000"/>
<line x1="1152.0" y1="673.6" x2="1173.3" y2="673.6" stroke="#ff00ff" stroke-width="2.3"/>
<circle cx="1162.3" cy="673.6" r="3.6" fill="#fff" stroke="#ff00ff" stroke-width="2.2"/>
<text x="837.7" y="719.6" font-size="28" text-anchor="end" font-style="italic" textLength="108.5" lengthAdjust="spacingAndGlyphs">DNMT3A</text>
<text x="1465.5" y="719.6" font-size="28" text-anchor="middle" textLength="128.5" lengthAdjust="spacingAndGlyphs"><tspan>5.10 × 10</tspan><tspan font-size="20" dy="-11.5">−6</tspan></text>
<text x="1645.5" y="719.6" font-size="28" text-anchor="middle" textLength="74.6" lengthAdjust="spacingAndGlyphs">0.082</text>
<line x1="1171.2" y1="698.1" x2="1199.5" y2="698.1" stroke="#ff0000" stroke-width="2.3"/>
<circle cx="1185.2" cy="698.1" r="4.7" fill="#ff0000"/>
<line x1="1151.0" y1="722.2" x2="1181.2" y2="722.2" stroke="#ff00ff" stroke-width="2.3"/>
<circle cx="1165.7" cy="722.2" r="3.6" fill="#fff" stroke="#ff00ff" stroke-width="2.2"/>
<text x="837.7" y="768.2" font-size="28" text-anchor="end" font-style="italic" textLength="59.5" lengthAdjust="spacingAndGlyphs">TET2</text>
<text x="1465.5" y="768.2" font-size="28" text-anchor="middle" textLength="128.5" lengthAdjust="spacingAndGlyphs"><tspan>1.43 × 10</tspan><tspan font-size="20" dy="-11.5">−3</tspan></text>
<text x="1645.5" y="768.2" font-size="28" text-anchor="middle" textLength="136.5" lengthAdjust="spacingAndGlyphs"><tspan>4.04 × 10</tspan><tspan font-size="20" dy="-11.5">−3</tspan></text>
<line x1="1163.9" y1="746.7" x2="1199.8" y2="746.7" stroke="#ff0000" stroke-width="2.3"/>
<circle cx="1181.8" cy="746.7" r="4.7" fill="#ff0000"/>
<line x1="1161.1" y1="770.8" x2="1200.7" y2="770.8" stroke="#ff00ff" stroke-width="2.3"/>
<circle cx="1180.9" cy="770.8" r="4.7" fill="#ff00ff"/>
<text x="837.7" y="816.8" font-size="28" text-anchor="end" font-style="italic" textLength="76.0" lengthAdjust="spacingAndGlyphs">ASXL1</text>
<text x="1465.5" y="816.8" font-size="28" text-anchor="middle" textLength="56.6" lengthAdjust="spacingAndGlyphs">0.38</text>
<text x="1645.5" y="816.8" font-size="28" text-anchor="middle" textLength="56.9" lengthAdjust="spacingAndGlyphs">0.43</text>
<line x1="1134.0" y1="795.2" x2="1199.8" y2="795.2" stroke="#ff0000" stroke-width="2.3"/>
<circle cx="1166.9" cy="795.2" r="3.6" fill="#fff" stroke="#ff0000" stroke-width="2.2"/>
<line x1="1103.0" y1="819.3" x2="1173.6" y2="819.3" stroke="#ff00ff" stroke-width="2.3"/>
<circle cx="1138.3" cy="819.3" r="3.6" fill="#fff" stroke="#ff00ff" stroke-width="2.2"/>
<text x="837.7" y="865.3" font-size="28" text-anchor="end" font-style="italic" textLength="83.0" lengthAdjust="spacingAndGlyphs">PPM1D</text>
<text x="1465.5" y="865.3" font-size="28" text-anchor="middle" textLength="75.5" lengthAdjust="spacingAndGlyphs">0.036</text>
<text x="1645.5" y="865.3" font-size="28" text-anchor="middle" textLength="75.5" lengthAdjust="spacingAndGlyphs">0.020</text>
<line x1="1064.9" y1="843.8" x2="1149.5" y2="843.8" stroke="#ff0000" stroke-width="2.3"/>
<circle cx="1106.9" cy="843.8" r="4.7" fill="#ff0000"/>
<line x1="1053.0" y1="867.9" x2="1143.8" y2="867.9" stroke="#ff00ff" stroke-width="2.3"/>
<circle cx="1098.4" cy="867.9" r="4.7" fill="#ff00ff"/>
<text x="837.7" y="913.9" font-size="28" text-anchor="end" font-style="italic" textLength="62.0" lengthAdjust="spacingAndGlyphs">TP53</text>
<text x="1465.5" y="913.9" font-size="28" text-anchor="middle" textLength="57.5" lengthAdjust="spacingAndGlyphs">0.45</text>
<text x="1645.5" y="913.9" font-size="28" text-anchor="middle" textLength="59.8" lengthAdjust="spacingAndGlyphs">0.60</text>
<line x1="1072.5" y1="892.4" x2="1187.6" y2="892.4" stroke="#ff0000" stroke-width="2.3"/>
<circle cx="1129.8" cy="892.4" r="3.6" fill="#fff" stroke="#ff0000" stroke-width="2.2"/>
<line x1="1074.0" y1="916.5" x2="1198.0" y2="916.5" stroke="#ff00ff" stroke-width="2.3"/>
<circle cx="1135.8" cy="916.5" r="3.6" fill="#fff" stroke="#ff00ff" stroke-width="2.2"/>
<text x="837.7" y="962.5" font-size="28" text-anchor="end" font-style="italic" textLength="76.0" lengthAdjust="spacingAndGlyphs">SF3B1</text>
<text x="1465.5" y="962.5" font-size="28" text-anchor="middle" textLength="55.9" lengthAdjust="spacingAndGlyphs">0.78</text>
<text x="1645.5" y="962.5" font-size="28" text-anchor="middle" textLength="53.2" lengthAdjust="spacingAndGlyphs">0.41</text>
<line x1="1075.8" y1="940.9" x2="1209.8" y2="940.9" stroke="#ff0000" stroke-width="2.3"/>
<circle cx="1142.8" cy="940.9" r="3.6" fill="#fff" stroke="#ff0000" stroke-width="2.2"/>
<line x1="1050.3" y1="965.0" x2="1194.2" y2="965.0" stroke="#ff00ff" stroke-width="2.3"/>
<circle cx="1121.8" cy="965.0" r="3.6" fill="#fff" stroke="#ff00ff" stroke-width="2.2"/>
<text x="837.7" y="1011.0" font-size="28" text-anchor="end" font-style="italic" textLength="80.0" lengthAdjust="spacingAndGlyphs">SRSF2</text>
<text x="1465.5" y="1011.0" font-size="28" text-anchor="middle" textLength="66.5" lengthAdjust="spacingAndGlyphs">0.011</text>
<text x="1645.5" y="1011.0" font-size="28" text-anchor="middle" textLength="53.2" lengthAdjust="spacingAndGlyphs">0.14</text>
<line x1="1174.0" y1="989.5" x2="1318.6" y2="989.5" stroke="#ff0000" stroke-width="2.3"/>
<circle cx="1246.1" cy="989.5" r="4.7" fill="#ff0000"/>
<line x1="1133.0" y1="1013.6" x2="1290.2" y2="1013.6" stroke="#ff00ff" stroke-width="2.3"/>
<circle cx="1211.4" cy="1013.6" r="3.6" fill="#fff" stroke="#ff00ff" stroke-width="2.2"/>
<text x="837.7" y="1059.6" font-size="28" text-anchor="end" font-style="italic" textLength="67.5" lengthAdjust="spacingAndGlyphs">GNB1</text>
<text x="1465.5" y="1059.6" font-size="28" text-anchor="middle" textLength="55.9" lengthAdjust="spacingAndGlyphs">0.29</text>
<text x="1645.5" y="1059.6" font-size="28" text-anchor="middle" textLength="59.8" lengthAdjust="spacingAndGlyphs">0.40</text>
<line x1="1117.5" y1="1038.1" x2="1267.8" y2="1038.1" stroke="#ff0000" stroke-width="2.3"/>
<circle cx="1192.3" cy="1038.1" r="3.6" fill="#fff" stroke="#ff0000" stroke-width="2.2"/>
<line x1="1106.0" y1="1062.2" x2="1268.2" y2="1062.2" stroke="#ff00ff" stroke-width="2.3"/>
<circle cx="1187.3" cy="1062.2" r="3.6" fill="#fff" stroke="#ff00ff" stroke-width="2.2"/>
<text x="837.7" y="1108.2" font-size="28" text-anchor="end" font-style="italic" textLength="59.5" lengthAdjust="spacingAndGlyphs">IDH2</text>
<text x="1465.5" y="1108.2" font-size="28" text-anchor="middle" textLength="52.0" lengthAdjust="spacingAndGlyphs">0.15</text>
<text x="1645.5" y="1108.2" font-size="28" text-anchor="middle" textLength="69.0" lengthAdjust="spacingAndGlyphs">0.051</text>
<line x1="975.0" y1="1086.6" x2="1178.9" y2="1086.6" stroke="#ff0000" stroke-width="2.3"/>
<circle cx="1077.0" cy="1086.6" r="3.6" fill="#fff" stroke="#ff0000" stroke-width="2.2"/>
<line x1="935.1" y1="1110.7" x2="1152.5" y2="1110.7" stroke="#ff00ff" stroke-width="2.3"/>
<circle cx="1043.9" cy="1110.7" r="3.6" fill="#fff" stroke="#ff00ff" stroke-width="2.2"/>
<text x="837.7" y="1156.7" font-size="28" text-anchor="end" font-style="italic" textLength="60.0" lengthAdjust="spacingAndGlyphs">JAK2</text>
<text x="1465.5" y="1156.7" font-size="28" text-anchor="middle" textLength="53.2" lengthAdjust="spacingAndGlyphs">0.41</text>
<text x="1645.5" y="1156.7" font-size="28" text-anchor="middle" textLength="55.9" lengthAdjust="spacingAndGlyphs">0.57</text>
<line x1="1090.2" y1="1135.2" x2="1303.5" y2="1135.2" stroke="#ff0000" stroke-width="2.3"/>
<circle cx="1197.0" cy="1135.2" r="3.6" fill="#fff" stroke="#ff0000" stroke-width="2.2"/>
<line x1="1071.0" y1="1159.3" x2="1300.4" y2="1159.3" stroke="#ff00ff" stroke-width="2.3"/>
<circle cx="1185.4" cy="1159.3" r="3.6" fill="#fff" stroke="#ff00ff" stroke-width="2.2"/>
<text x="837.7" y="1205.3" font-size="28" text-anchor="end" font-style="italic" textLength="79.5" lengthAdjust="spacingAndGlyphs">PRPF8</text>
<text x="1465.5" y="1205.3" font-size="28" text-anchor="middle" textLength="58.0" lengthAdjust="spacingAndGlyphs">0.98</text>
<text x="1645.5" y="1205.3" font-size="28" text-anchor="middle" textLength="59.8" lengthAdjust="spacingAndGlyphs">0.60</text>
<line x1="1007.0" y1="1183.7" x2="1301.6" y2="1183.7" stroke="#ff0000" stroke-width="2.3"/>
<circle cx="1154.2" cy="1183.7" r="3.6" fill="#fff" stroke="#ff0000" stroke-width="2.2"/>
<line x1="1036.9" y1="1207.8" x2="1352.8" y2="1207.8" stroke="#ff00ff" stroke-width="2.3"/>
<circle cx="1194.5" cy="1207.8" r="3.6" fill="#fff" stroke="#ff00ff" stroke-width="2.2"/>
<text x="837.7" y="1253.9" font-size="28" text-anchor="end" font-style="italic" textLength="66.5" lengthAdjust="spacingAndGlyphs">KRAS</text>
<text x="1465.5" y="1253.9" font-size="28" text-anchor="middle" textLength="56.6" lengthAdjust="spacingAndGlyphs">0.24</text>
<text x="1645.5" y="1253.9" font-size="28" text-anchor="middle" textLength="56.6" lengthAdjust="spacingAndGlyphs">0.24</text>
<line x1="891.0" y1="1232.3" x2="1216.9" y2="1232.3" stroke="#ff0000" stroke-width="2.3"/>
<circle cx="1053.6" cy="1232.3" r="3.6" fill="#fff" stroke="#ff0000" stroke-width="2.2"/>
<line x1="873.9" y1="1256.4" x2="1222.8" y2="1256.4" stroke="#ff00ff" stroke-width="2.3"/>
<circle cx="1048.4" cy="1256.4" r="3.6" fill="#fff" stroke="#ff00ff" stroke-width="2.2"/>
<text x="987.3" y="1302.8" font-size="22.5" text-anchor="middle" textLength="46.5" lengthAdjust="spacingAndGlyphs">−0.2</text>
<text x="1152.2" y="1302.8" font-size="22.5" text-anchor="middle" textLength="14.0" lengthAdjust="spacingAndGlyphs">0</text>
<text x="1317.7" y="1302.8" font-size="22.5" text-anchor="middle" textLength="34.3" lengthAdjust="spacingAndGlyphs">0.2</text>
<text x="1028.0" y="1344.6" font-size="27" textLength="169.0" lengthAdjust="spacingAndGlyphs">Beta [95% Cl]</text>
<defs><linearGradient id="gr" x1="0" x2="1" y1="0" y2="0"><stop offset="0" stop-color="#ff1010"/><stop offset="0.15" stop-color="#ff2020"/><stop offset="1" stop-color="#ff2020" stop-opacity="0"/></linearGradient><linearGradient id="gb" x1="0" x2="1" y1="0" y2="0"><stop offset="0" stop-color="#1010ff" stop-opacity="0"/><stop offset="0.85" stop-color="#1010ff"/><stop offset="1" stop-color="#1010ff"/></linearGradient></defs>
<path d="M846.2 1377.2L882.7 1356.1V1366.2H1087V1387.8H882.7V1397.6Z" fill="url(#gr)"/>
<path d="M1380.1 1377.2L1343.3 1356.1V1366.2H1103.6V1387.8H1343.3V1397.6Z" fill="url(#gb)"/>
<text x="839.5" y="1426.8" font-size="27" fill="#ff1a1a" textLength="242.1" lengthAdjust="spacingAndGlyphs">Shorter genetically</text>
<text x="839.5" y="1458.5" font-size="27" fill="#ff1a1a" textLength="243.0" lengthAdjust="spacingAndGlyphs">predicted telomere</text>
<text x="1152.9" y="1426.8" font-size="27" fill="#3030ff" textLength="235.4" lengthAdjust="spacingAndGlyphs">Longer genetically</text>
<text x="1147.7" y="1458.5" font-size="27" fill="#3030ff" textLength="244.9" lengthAdjust="spacingAndGlyphs">predicted telomere</text>
<text x="710.7" y="1507.0" font-size="27" textLength="227.5" lengthAdjust="spacingAndGlyphs">Regression model</text>
<line x1="961.0" y1="1496.9" x2="1056.3" y2="1496.9" stroke="#ff0000" stroke-width="3.6"/>
<circle cx="1010" cy="1496.9" r="10.8" fill="#ff0000"/>
<text x="1070.0" y="1506.0" font-size="23.5" fill="#ff1a1a" textLength="269.6" lengthAdjust="spacingAndGlyphs">Not adjusted for ancestry</text>
<line x1="1381.3" y1="1496.9" x2="1476.7" y2="1496.9" stroke="#ff00ff" stroke-width="3.6"/>
<circle cx="1430" cy="1496.9" r="10.8" fill="#ff00ff"/>
<text x="1491.9" y="1506.0" font-size="23.5" fill="#ff1aff" textLength="228.4" lengthAdjust="spacingAndGlyphs">Adjusted for ancestry</text>
</g>
</svg>
</body></html>
